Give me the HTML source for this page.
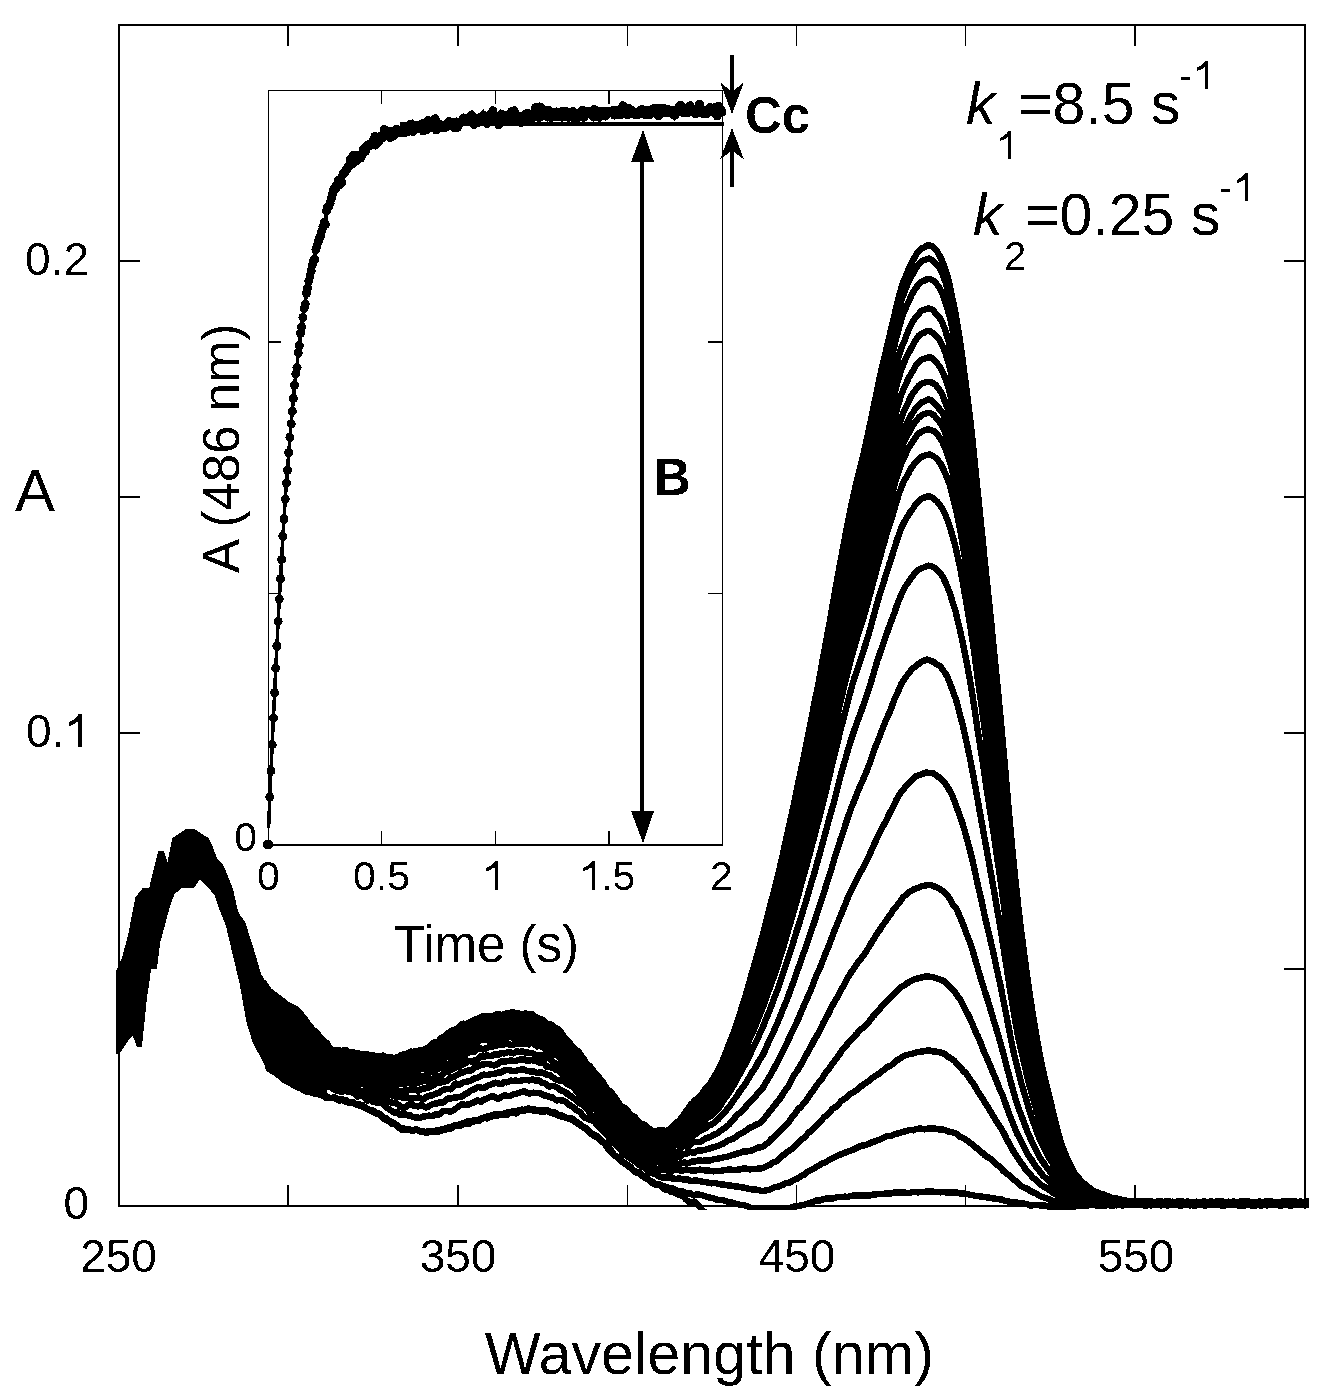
<!DOCTYPE html>
<html><head><meta charset="utf-8"><style>
html,body{margin:0;padding:0;background:#fff;overflow:hidden;}
svg{display:block;}
text{font-family:"Liberation Sans", sans-serif;fill:#000;}
</style></head><body>
<svg width="1331" height="1394" viewBox="0 0 1331 1394">
<defs><filter id="bw" x="0" y="0" width="1331" height="1394" filterUnits="userSpaceOnUse" color-interpolation-filters="sRGB"><feComponentTransfer><feFuncR type="discrete" tableValues="0 1"/><feFuncG type="discrete" tableValues="0 1"/><feFuncB type="discrete" tableValues="0 1"/></feComponentTransfer></filter></defs>
<g filter="url(#bw)">
<rect width="1331" height="1394" fill="#fff"/>
<defs><clipPath id="pc"><rect x="115.5" y="24" width="1193.5" height="1186"/></clipPath></defs>
<clipPath id="pc2"><rect x="265" y="24" width="1044" height="1186"/><polygon points="116.0,971.4 121.9,958.0 128.1,934.7 135.5,897.0 143.0,888.0 149.6,888.0 158.5,851.0 163.6,851.0 167.5,864.0 172.6,838.0 186.6,829.0 194.0,829.0 208.0,838.0 212.0,846.0 217.0,859.0 223.7,866.0 227.5,876.6 232.6,889.0 237.7,912.0 245.0,922.6 253.0,948.0 260.7,973.7 268.0,986.5 278.6,994.0 288.8,1001.8 299.0,1007.0 309.0,1019.7 329.7,1046.5 329.7,1046.5 327.0,1100.0 304.0,1093.7 283.7,1083.5 268.0,1070.7 253.0,1042.7 246.7,1022.0 240.0,984.0 232.6,953.0 226.0,925.0 218.6,907.0 214.7,894.5 199.8,879.1 194.4,887.2 181.9,887.2 173.9,894.5 168.7,909.8 159.8,943.0 157.0,968.6 150.9,968.6 147.0,996.7 142.0,1046.5 136.8,1046.5 132.6,1035.0 128.0,1040.4 120.0,1053.0 116.0,1053.9"/></clipPath>
<g clip-path="url(#pc)">
<g fill="none" stroke="#000" stroke-width="6.4" stroke-linejoin="round" stroke-linecap="round" clip-path="url(#pc2)">
<path d="M116.3,989.2 L118.5,987.8 L120.2,984.7 L121.9,981.6 L123.6,978.0 L125.3,974.0 L127.0,968.6 L128.7,963.6 L130.4,960.9 L132.1,957.3 L133.8,951.8 L135.4,947.1 L137.1,936.2 L138.8,925.3 L140.5,912.1 L142.2,899.8 L143.9,894.3 L145.6,891.4 L147.3,888.2 L149.0,884.6 L150.7,879.3 L152.4,873.4 L154.1,868.5 L155.8,862.8 L157.5,857.9 L159.2,858.2 L160.9,860.0 L162.6,856.2 L164.3,851.3 L166.0,850.7 L167.7,851.6 L169.3,850.2 L171.0,848.5 L172.7,844.9 L174.4,841.3 L176.1,841.6 L177.8,839.7 L179.5,837.1 L181.2,838.0 L182.9,837.4 L184.6,835.1 L186.3,835.6 L188.0,837.2 L189.7,833.6 L191.4,832.3 L193.1,835.2 L194.8,834.0 L196.5,834.9 L198.2,835.5 L199.9,832.4 L201.6,835.9 L203.2,841.9 L204.9,841.6 L206.6,840.8 L208.3,842.7 L210.0,846.5 L211.7,850.4 L213.4,852.8 L215.1,856.7 L216.8,863.7 L218.5,866.6 L220.2,868.2 L221.9,870.8 L223.6,874.0 L225.3,877.9 L227.0,879.6 L228.7,881.0 L230.4,886.2 L232.1,894.6 L233.8,900.8 L235.5,907.7 L237.2,917.5 L238.8,921.4 L240.5,920.6 L242.2,921.0 L243.9,924.4 L245.6,930.4 L247.3,936.4 L249.0,940.0 L250.7,943.8 L252.4,950.6 L254.1,957.1 L255.8,962.2 L257.5,968.4 L259.2,975.5 L260.9,981.3 L262.6,983.4 L264.3,984.8 L266.0,986.0 L267.7,988.8 L269.4,991.2 L271.1,992.7 L272.7,994.0 L274.4,994.9 L276.1,996.2 L277.8,998.6 L279.5,1000.7 L281.2,1002.4 L282.9,1005.1 L284.6,1006.9 L286.3,1006.9 L288.0,1007.1 L289.7,1006.9 L291.4,1007.1 L293.1,1009.2 L294.8,1010.6 L296.5,1010.7 L298.2,1011.3 L299.9,1013.3 L301.6,1015.4 L303.3,1017.1 L305.0,1019.6 L306.6,1022.5 L308.3,1024.5 L310.0,1026.5 L311.7,1028.6 L313.4,1030.3 L315.1,1031.8 L316.8,1033.1 L318.5,1034.9 L320.2,1037.3 L321.9,1039.4 L323.6,1041.8 L325.3,1044.5 L327.0,1045.9 L328.7,1047.3 L330.4,1049.3 L332.1,1049.9 L333.8,1050.1 L335.5,1050.1 L337.2,1050.1 L338.9,1050.0 L340.5,1050.7 L342.2,1051.4 L343.9,1050.3 L345.6,1050.0 L347.3,1051.3 L349.0,1052.2 L350.7,1052.7 L352.4,1052.8 L354.1,1052.6 L355.8,1053.1 L357.5,1053.8 L359.2,1054.4 L360.9,1055.0 L362.6,1054.8 L364.3,1054.0 L366.0,1053.9 L367.7,1054.2 L369.4,1054.9 L371.1,1055.8 L372.8,1056.1 L374.4,1056.2 L376.1,1056.2 L377.8,1056.5 L379.5,1057.1 L381.2,1057.9 L382.9,1057.2 L384.6,1056.4 L386.3,1057.5 L388.0,1058.3 L389.7,1057.3 L391.4,1057.3 L393.1,1058.3 L394.8,1058.0 L396.5,1057.8 L398.2,1057.3 L399.9,1055.8 L401.6,1054.9 L403.3,1054.9 L405.0,1054.5 L406.7,1053.8 L408.3,1053.5 L410.0,1053.4 L411.7,1053.5 L413.4,1052.7 L415.1,1051.2 L416.8,1050.9 L418.5,1050.7 L420.2,1050.4 L421.9,1050.4 L423.6,1049.8 L425.3,1048.9 L427.0,1048.2 L428.7,1047.2 L430.4,1045.5 L432.1,1043.8 L433.8,1042.7 L435.5,1042.3 L437.2,1042.1 L438.9,1041.1 L440.6,1038.7 L442.2,1037.2 L443.9,1036.6 L445.6,1035.3 L447.3,1033.8 L449.0,1032.6 L450.7,1031.8 L452.4,1030.9 L454.1,1029.9 L455.8,1029.3 L457.5,1028.0 L459.2,1026.6 L460.9,1025.2 L462.6,1023.7 L464.3,1023.7 L466.0,1024.9 L467.7,1024.4 L469.4,1022.7 L471.1,1021.9 L472.8,1020.7 L474.4,1019.7 L476.1,1020.4 L477.8,1019.9 L479.5,1017.7 L481.2,1016.8 L482.9,1016.7 L484.6,1016.6 L486.3,1017.1 L488.0,1017.1 L489.7,1016.5 L491.4,1016.5 L493.1,1016.3 L494.8,1015.0 L496.5,1014.3 L498.2,1014.4 L499.9,1014.8 L501.6,1014.9 L503.3,1014.7 L505.0,1014.2 L506.7,1013.5 L508.4,1013.4 L510.0,1013.0 L511.7,1012.2 L513.4,1012.3 L515.1,1013.3 L516.8,1013.3 L518.5,1013.3 L520.2,1014.1 L521.9,1014.7 L523.6,1014.2 L525.3,1013.5 L527.0,1013.6 L528.7,1014.0 L530.4,1013.8 L532.1,1014.1 L533.8,1016.1 L535.5,1018.3 L537.2,1019.4 L538.9,1021.2 L540.6,1022.5 L542.2,1021.4 L543.9,1020.7 L545.6,1022.3 L547.3,1024.4 L549.0,1024.9 L550.7,1024.7 L552.4,1025.7 L554.1,1027.0 L555.8,1028.1 L557.5,1028.7 L559.2,1030.2 L560.9,1032.2 L562.6,1034.9 L564.3,1037.2 L566.0,1039.0 L567.7,1040.6 L569.4,1042.5 L571.1,1045.1 L572.8,1047.0 L574.5,1048.9 L576.2,1050.7 L577.8,1051.1 L579.5,1052.9 L581.2,1055.8 L582.9,1057.7 L584.6,1060.5 L586.3,1063.6 L588.0,1064.7 L589.7,1066.1 L591.4,1068.6 L593.1,1071.3 L594.8,1073.2 L596.5,1074.6 L598.2,1076.1 L599.9,1078.5 L601.6,1080.7 L603.3,1082.6 L605.0,1085.6 L606.7,1088.8 L608.4,1090.7 L610.0,1091.2 L611.7,1092.7 L613.4,1095.1 L615.1,1097.6 L616.8,1100.2 L618.5,1102.6 L620.2,1105.0 L621.9,1106.8 L623.6,1107.6 L625.3,1108.4 L627.0,1110.3 L628.7,1112.7 L630.4,1114.8 L632.1,1115.7 L633.8,1116.2 L635.5,1117.8 L637.2,1120.1 L638.9,1122.1 L640.6,1123.5 L642.3,1123.9 L644.0,1124.4 L645.6,1126.0 L647.3,1127.5 L649.0,1128.4 L650.7,1129.9 L652.4,1131.6 L654.1,1131.5 L655.8,1131.0 L657.5,1130.7 L659.2,1130.8 L660.9,1130.2 L662.6,1129.8 L664.3,1130.9 L666.0,1131.2 L667.7,1130.3 L669.4,1129.7 L671.1,1128.8 L672.8,1126.3 L674.5,1123.9 L676.2,1123.2 L677.9,1122.2 L679.5,1120.3 L681.2,1118.1 L682.9,1116.5 L684.6,1114.0 L686.3,1111.0 L688.0,1108.9 L689.7,1106.2 L691.4,1103.8 L693.1,1102.6 L694.8,1100.5 L696.5,1099.1 L698.2,1097.7 L699.9,1096.3 L701.6,1094.4 L703.3,1091.8 L705.0,1089.2 L706.7,1087.3 L708.4,1085.6 L710.1,1083.5 L711.8,1080.8 L713.4,1078.0 L715.1,1075.3 L716.8,1072.4 L718.5,1069.3 L720.2,1066.0 L721.9,1062.3 L723.6,1058.3 L725.3,1054.2 L727.0,1049.6 L728.7,1044.9 L730.4,1040.7 L732.1,1036.6 L733.8,1032.1 L735.5,1027.2 L737.2,1022.5 L738.9,1017.2 L740.6,1011.3 L742.3,1005.8 L744.0,1000.8 L745.6,995.6 L747.3,989.9 L749.0,983.8 L750.7,977.4 L752.4,971.2 L754.1,965.7 L755.8,960.2 L757.5,954.2 L759.2,947.7 L760.9,941.5 L762.6,935.3 L764.3,928.9 L766.0,922.3 L767.7,915.4 L769.4,908.5 L771.1,902.2 L772.8,895.9 L774.5,889.2 L776.2,882.4 L777.9,875.5 L779.6,868.6 L781.2,861.6 L782.9,854.1 L784.6,846.2 L786.3,838.5 L788.0,830.8 L789.7,823.1 L791.4,815.8 L793.1,807.9 L794.8,799.4 L796.5,791.3 L798.2,783.2 L799.9,774.8 L801.6,766.8 L803.3,759.1 L805.0,750.6 L806.7,741.8 L808.4,733.6 L810.1,725.5 L811.8,716.6 L813.5,707.8 L815.1,699.6 L816.8,691.4 L818.5,683.0 L820.2,673.8 L821.9,664.1 L823.6,654.9 L825.3,645.8 L827.0,636.6 L828.7,627.4 L830.4,618.1 L832.1,608.2 L833.8,598.4 L835.5,588.9 L837.2,579.2 L838.9,569.8 L840.6,560.9 L842.3,551.8 L844.0,542.5 L845.7,533.6 L847.4,525.0 L849.0,516.6 L850.7,508.3 L852.4,500.5 L854.1,492.8 L855.8,485.1 L857.5,477.9 L859.2,471.4 L860.9,464.5 L862.6,457.6 L864.3,450.5 L866.0,442.9 L867.7,435.1 L869.4,427.1 L871.1,419.1 L872.8,410.8 L874.5,402.6 L876.2,394.4 L877.9,386.1 L879.6,378.3 L881.2,370.7 L882.9,363.6 L884.6,356.7 L886.3,349.4 L888.0,342.0 L889.7,334.9 L891.4,328.1 L893.1,321.1 L894.8,313.8 L896.5,305.9 L898.2,299.1 L899.9,293.1 L901.6,287.1 L903.3,282.1 L905.0,278.1 L906.7,274.1 L908.4,269.9 L910.1,266.0 L911.8,262.3 L913.5,259.3 L915.1,256.4 L916.8,253.7 L918.5,251.4 L920.2,249.4 L921.9,248.2 L923.6,247.7 L925.3,246.6 L927.0,245.4 L928.7,245.1 L930.4,245.5 L932.1,246.4 L933.8,247.9 L935.5,249.5 L937.2,251.5 L938.9,254.5 L940.6,257.7 L942.3,261.4 L944.0,265.6 L945.7,270.3 L947.4,276.0 L949.1,282.8 L950.7,290.1 L952.4,298.3 L954.1,306.4 L955.8,315.4 L957.5,325.3 L959.2,335.8 L960.9,347.4 L962.6,359.8 L964.3,372.7 L966.0,385.7 L967.7,399.0 L969.4,412.6 L971.1,427.4 L972.8,443.2 L974.5,459.8 L976.2,476.9 L977.9,493.6 L979.6,510.0 L981.3,526.5 L983.0,543.2 L984.6,559.7 L986.3,576.0 L988.0,592.1 L989.7,608.1 L991.4,624.6 L993.1,641.9 L994.8,659.1 L996.5,676.1 L998.2,693.3 L999.9,710.9 L1001.6,729.2 L1003.3,748.0 L1005.0,767.1 L1006.7,786.5 L1008.4,805.9 L1010.1,825.2 L1011.8,844.0 L1013.5,861.9 L1015.2,878.6 L1016.9,894.2 L1018.5,908.6 L1020.2,922.8 L1021.9,936.7 L1023.6,950.0 L1025.3,962.9 L1027.0,975.4 L1028.7,987.5 L1030.4,999.3 L1032.1,1010.1 L1033.8,1020.6 L1035.5,1031.0 L1037.2,1040.9 L1038.9,1050.3 L1040.6,1059.1 L1042.3,1067.2 L1044.0,1074.8 L1045.7,1082.2 L1047.4,1089.4 L1049.1,1096.1 L1050.8,1102.8 L1052.4,1109.9 L1054.1,1116.9 L1055.8,1123.9 L1057.5,1130.6 L1059.2,1136.6 L1060.9,1142.1 L1062.6,1147.1 L1064.3,1151.6 L1066.0,1155.9 L1067.7,1159.7 L1069.4,1163.0 L1071.1,1166.5 L1072.8,1170.0 L1074.5,1173.1 L1076.2,1175.3 L1077.9,1177.1 L1079.6,1179.2 L1081.3,1181.3 L1083.0,1183.2 L1084.7,1184.3 L1086.3,1186.0 L1088.0,1187.8 L1089.7,1188.8 L1091.4,1190.0 L1093.1,1191.2 L1094.8,1191.7 L1096.5,1192.2 L1098.2,1193.1 L1099.9,1193.7 L1101.6,1193.9 L1103.3,1194.5 L1105.0,1195.6 L1106.7,1196.5 L1108.4,1197.3 L1110.1,1197.6 L1111.8,1197.7 L1113.5,1198.0 L1115.2,1198.4 L1116.9,1198.9 L1118.6,1199.5 L1120.2,1199.8 L1121.9,1199.9 L1123.6,1200.1 L1125.3,1200.3 L1127.0,1200.8 L1128.7,1201.2 L1130.4,1201.5 L1132.1,1202.0 L1133.8,1202.2 L1135.5,1201.8 L1137.2,1201.7 L1138.9,1202.0 L1140.6,1202.3 L1142.3,1202.3 L1144.0,1202.3 L1145.7,1202.6 L1147.4,1202.8 L1149.1,1202.3 L1150.8,1201.8 L1152.5,1201.9 L1154.1,1202.2 L1155.8,1202.1 L1157.5,1202.3 L1159.2,1202.8 L1160.9,1202.5 L1162.6,1201.9 L1164.3,1201.7 L1166.0,1201.4 L1167.7,1201.6 L1169.4,1201.9 L1171.1,1202.0 L1172.8,1202.0 L1174.5,1202.2 L1176.2,1202.2 L1177.9,1201.7 L1179.6,1201.5 L1181.3,1202.0 L1183.0,1202.2 L1184.7,1202.0 L1186.4,1201.8 L1188.0,1201.8 L1189.7,1201.9 L1191.4,1202.3 L1193.1,1202.4 L1194.8,1202.2 L1196.5,1201.8 L1198.2,1202.0 L1199.9,1202.6 L1201.6,1202.6 L1203.3,1202.3 L1205.0,1202.5 L1206.7,1202.6 L1208.4,1202.0 L1210.1,1201.8 L1211.8,1202.0 L1213.5,1202.1 L1215.2,1202.0 L1216.9,1202.0 L1218.6,1202.0 L1220.2,1202.4 L1221.9,1202.5 L1223.6,1202.4 L1225.3,1202.3 L1227.0,1202.1 L1228.7,1202.2 L1230.4,1202.4 L1232.1,1202.4 L1233.8,1202.2 L1235.5,1202.1 L1237.2,1202.3 L1238.9,1202.2 L1240.6,1201.6 L1242.3,1201.1 L1244.0,1201.3 L1245.7,1201.9 L1247.4,1201.9 L1249.1,1201.7 L1250.8,1202.1 L1252.5,1202.5 L1254.2,1202.2 L1255.8,1202.2 L1257.5,1202.6 L1259.2,1203.0 L1260.9,1202.7 L1262.6,1202.3 L1264.3,1202.3 L1266.0,1202.3 L1267.7,1202.1 L1269.4,1202.0 L1271.1,1202.1 L1272.8,1202.2 L1274.5,1202.4 L1276.2,1202.6 L1277.9,1202.4 L1279.6,1202.0 L1281.3,1202.1 L1283.0,1202.5 L1284.7,1202.4 L1286.4,1202.2 L1288.0,1202.3 L1289.7,1202.7 L1291.4,1202.8 L1293.1,1202.1 L1294.8,1201.4 L1296.5,1201.6 L1298.2,1202.0 L1299.9,1201.7 L1301.6,1201.5 L1303.3,1202.0 L1305.0,1202.2 L1306.7,1201.8 L1308.4,1201.9"/>
<path d="M116.3,989.5 L118.5,987.8 L120.2,982.3 L121.9,977.9 L123.6,975.2 L125.3,973.4 L127.0,971.2 L128.7,966.3 L130.4,961.1 L132.1,956.4 L133.8,952.0 L135.4,950.0 L137.1,939.2 L138.8,926.1 L140.5,913.9 L142.2,902.4 L143.9,894.9 L145.6,891.9 L147.3,887.6 L149.0,879.5 L150.7,872.8 L152.4,866.7 L154.1,862.1 L155.8,862.9 L157.5,863.7 L159.2,861.2 L160.9,858.7 L162.6,855.4 L164.3,854.0 L166.0,853.9 L167.7,851.5 L169.3,849.5 L171.0,846.3 L172.7,843.8 L174.4,843.4 L176.1,842.6 L177.8,842.5 L179.5,843.6 L181.2,843.4 L182.9,836.7 L184.6,827.9 L186.3,824.6 L188.0,827.0 L189.7,831.6 L191.4,833.4 L193.1,831.6 L194.8,833.2 L196.5,836.6 L198.2,837.8 L199.9,838.8 L201.6,840.3 L203.2,842.4 L204.9,844.7 L206.6,842.0 L208.3,839.2 L210.0,845.9 L211.7,852.3 L213.4,854.5 L215.1,859.3 L216.8,866.3 L218.5,866.8 L220.2,865.8 L221.9,867.9 L223.6,869.2 L225.3,873.0 L227.0,879.7 L228.7,885.3 L230.4,888.0 L232.1,892.3 L233.8,902.2 L235.5,910.5 L237.2,915.5 L238.8,917.8 L240.5,918.8 L242.2,922.9 L243.9,928.1 L245.6,931.2 L247.3,936.6 L249.0,942.2 L250.7,947.0 L252.4,954.5 L254.1,961.7 L255.8,966.6 L257.5,972.2 L259.2,976.8 L260.9,980.0 L262.6,981.2 L264.3,983.5 L266.0,988.7 L267.7,993.9 L269.4,995.3 L271.1,996.5 L272.7,997.2 L274.4,997.2 L276.1,999.6 L277.8,1001.4 L279.5,1000.9 L281.2,1001.4 L282.9,1002.8 L284.6,1003.9 L286.3,1005.2 L288.0,1006.6 L289.7,1007.3 L291.4,1008.2 L293.1,1009.4 L294.8,1010.8 L296.5,1012.5 L298.2,1013.1 L299.9,1014.2 L301.6,1016.6 L303.3,1018.6 L305.0,1019.8 L306.6,1022.4 L308.3,1026.1 L310.0,1028.4 L311.7,1029.4 L313.4,1030.8 L315.1,1032.7 L316.8,1034.5 L318.5,1036.1 L320.2,1037.8 L321.9,1039.9 L323.6,1041.4 L325.3,1041.8 L327.0,1043.4 L328.7,1046.9 L330.4,1049.7 L332.1,1050.1 L333.8,1050.1 L335.5,1050.9 L337.2,1051.2 L338.9,1051.3 L340.5,1052.0 L342.2,1052.4 L343.9,1052.9 L345.6,1053.9 L347.3,1053.9 L349.0,1053.1 L350.7,1052.8 L352.4,1053.7 L354.1,1054.7 L355.8,1054.2 L357.5,1053.3 L359.2,1053.5 L360.9,1054.6 L362.6,1055.1 L364.3,1054.9 L366.0,1055.7 L367.7,1056.6 L369.4,1056.0 L371.1,1055.0 L372.8,1055.0 L374.4,1055.6 L376.1,1056.1 L377.8,1056.4 L379.5,1057.1 L381.2,1056.6 L382.9,1055.5 L384.6,1056.5 L386.3,1058.0 L388.0,1058.2 L389.7,1057.7 L391.4,1057.8 L393.1,1058.8 L394.8,1059.3 L396.5,1058.1 L398.2,1056.9 L399.9,1055.9 L401.6,1054.9 L403.3,1054.5 L405.0,1054.7 L406.7,1054.6 L408.3,1053.1 L410.0,1051.6 L411.7,1051.8 L413.4,1052.2 L415.1,1051.5 L416.8,1051.0 L418.5,1051.6 L420.2,1051.3 L421.9,1050.2 L423.6,1049.8 L425.3,1049.8 L427.0,1049.0 L428.7,1047.9 L430.4,1046.8 L432.1,1046.1 L433.8,1045.3 L435.5,1043.5 L437.2,1042.1 L438.9,1041.6 L440.6,1040.4 L442.2,1039.0 L443.9,1038.3 L445.6,1037.4 L447.3,1036.0 L449.0,1033.4 L450.7,1030.9 L452.4,1030.4 L454.1,1030.5 L455.8,1029.7 L457.5,1028.9 L459.2,1027.8 L460.9,1026.9 L462.6,1026.7 L464.3,1025.6 L466.0,1024.2 L467.7,1023.2 L469.4,1022.9 L471.1,1022.7 L472.8,1021.4 L474.4,1020.1 L476.1,1019.5 L477.8,1018.9 L479.5,1019.1 L481.2,1019.1 L482.9,1017.4 L484.6,1016.5 L486.3,1016.7 L488.0,1016.4 L489.7,1016.0 L491.4,1016.5 L493.1,1016.7 L494.8,1015.8 L496.5,1015.3 L498.2,1015.4 L499.9,1014.9 L501.6,1015.2 L503.3,1015.1 L505.0,1013.8 L506.7,1014.1 L508.4,1015.0 L510.0,1014.5 L511.7,1013.3 L513.4,1013.3 L515.1,1014.1 L516.8,1014.0 L518.5,1014.0 L520.2,1014.6 L521.9,1014.6 L523.6,1014.7 L525.3,1015.2 L527.0,1015.3 L528.7,1015.0 L530.4,1015.1 L532.1,1016.2 L533.8,1016.7 L535.5,1016.9 L537.2,1017.7 L538.9,1018.4 L540.6,1019.1 L542.2,1019.8 L543.9,1020.9 L545.6,1022.8 L547.3,1024.0 L549.0,1024.5 L550.7,1024.4 L552.4,1025.9 L554.1,1029.0 L555.8,1030.0 L557.5,1029.5 L559.2,1030.8 L560.9,1033.0 L562.6,1035.3 L564.3,1037.1 L566.0,1038.9 L567.7,1040.9 L569.4,1043.5 L571.1,1046.2 L572.8,1047.9 L574.5,1049.3 L576.2,1050.9 L577.8,1053.2 L579.5,1055.5 L581.2,1057.3 L582.9,1059.6 L584.6,1062.2 L586.3,1064.1 L588.0,1065.0 L589.7,1066.1 L591.4,1068.2 L593.1,1070.5 L594.8,1072.6 L596.5,1075.1 L598.2,1077.4 L599.9,1079.0 L601.6,1081.1 L603.3,1084.0 L605.0,1086.5 L606.7,1088.4 L608.4,1090.7 L610.0,1092.8 L611.7,1094.5 L613.4,1096.6 L615.1,1099.1 L616.8,1101.4 L618.5,1103.2 L620.2,1105.1 L621.9,1106.6 L623.6,1107.3 L625.3,1108.7 L627.0,1110.1 L628.7,1112.2 L630.4,1114.9 L632.1,1116.5 L633.8,1117.5 L635.5,1119.0 L637.2,1120.8 L638.9,1122.8 L640.6,1124.5 L642.3,1125.7 L644.0,1126.8 L645.6,1127.2 L647.3,1128.2 L649.0,1129.5 L650.7,1130.2 L652.4,1131.4 L654.1,1132.5 L655.8,1133.2 L657.5,1133.2 L659.2,1133.3 L660.9,1132.2 L662.6,1131.1 L664.3,1131.5 L666.0,1131.7 L667.7,1131.4 L669.4,1130.4 L671.1,1129.0 L672.8,1127.5 L674.5,1125.1 L676.2,1122.9 L677.9,1121.7 L679.5,1120.6 L681.2,1118.8 L682.9,1116.3 L684.6,1113.8 L686.3,1111.6 L688.0,1109.2 L689.7,1107.6 L691.4,1107.1 L693.1,1105.0 L694.8,1102.2 L696.5,1100.9 L698.2,1099.2 L699.9,1097.4 L701.6,1095.5 L703.3,1092.9 L705.0,1090.1 L706.7,1088.4 L708.4,1086.9 L710.1,1084.8 L711.8,1082.1 L713.4,1079.3 L715.1,1077.0 L716.8,1074.2 L718.5,1070.7 L720.2,1067.3 L721.9,1064.1 L723.6,1060.7 L725.3,1056.7 L727.0,1052.6 L728.7,1048.2 L730.4,1043.3 L732.1,1038.6 L733.8,1033.6 L735.5,1028.3 L737.2,1023.7 L738.9,1019.2 L740.6,1013.7 L742.3,1008.4 L744.0,1003.5 L745.6,998.3 L747.3,992.7 L749.0,986.9 L750.7,981.1 L752.4,975.8 L754.1,969.9 L755.8,963.5 L757.5,957.3 L759.2,951.1 L760.9,944.9 L762.6,938.6 L764.3,932.5 L766.0,926.6 L767.7,920.2 L769.4,913.5 L771.1,906.9 L772.8,900.4 L774.5,894.0 L776.2,887.1 L777.9,879.8 L779.6,872.9 L781.2,865.7 L782.9,857.8 L784.6,850.5 L786.3,843.8 L788.0,836.0 L789.7,827.7 L791.4,820.2 L793.1,812.9 L794.8,805.2 L796.5,797.4 L798.2,789.4 L799.9,781.2 L801.6,772.9 L803.3,764.9 L805.0,757.0 L806.7,748.8 L808.4,740.5 L810.1,732.2 L811.8,723.6 L813.5,715.0 L815.1,706.6 L816.8,698.3 L818.5,689.7 L820.2,681.1 L821.9,672.2 L823.6,663.0 L825.3,653.8 L827.0,644.5 L828.7,634.9 L830.4,625.6 L832.1,616.5 L833.8,607.1 L835.5,597.6 L837.2,588.1 L838.9,578.7 L840.6,569.4 L842.3,560.8 L844.0,552.3 L845.7,543.5 L847.4,534.8 L849.0,525.8 L850.7,517.2 L852.4,509.5 L854.1,502.5 L855.8,495.1 L857.5,487.5 L859.2,480.8 L860.9,474.2 L862.6,466.9 L864.3,459.6 L866.0,452.7 L867.7,445.6 L869.4,437.8 L871.1,429.8 L872.8,422.0 L874.5,413.9 L876.2,405.7 L877.9,397.7 L879.6,389.9 L881.2,382.0 L882.9,374.6 L884.6,368.0 L886.3,361.2 L888.0,354.0 L889.7,346.8 L891.4,339.7 L893.1,333.0 L894.8,326.2 L896.5,318.7 L898.2,311.5 L899.9,305.0 L901.6,299.6 L903.3,295.2 L905.0,290.7 L906.7,286.2 L908.4,282.2 L910.1,278.7 L911.8,275.5 L913.5,272.7 L915.1,269.6 L916.8,266.8 L918.5,264.9 L920.2,262.8 L921.9,261.1 L923.6,260.3 L925.3,259.6 L927.0,258.9 L928.7,258.5 L930.4,259.0 L932.1,260.2 L933.8,261.5 L935.5,263.3 L937.2,265.3 L938.9,267.3 L940.6,269.7 L942.3,273.4 L944.0,278.0 L945.7,282.9 L947.4,288.4 L949.1,294.4 L950.7,301.5 L952.4,310.6 L954.1,318.7 L955.8,327.1 L957.5,337.2 L959.2,347.9 L960.9,359.4 L962.6,371.7 L964.3,384.4 L966.0,396.9 L967.7,409.8 L969.4,423.4 L971.1,438.0 L972.8,453.4 L974.5,469.7 L976.2,486.4 L977.9,503.1 L979.6,519.4 L981.3,535.4 L983.0,551.5 L984.6,568.3 L986.3,585.1 L988.0,601.4 L989.7,617.7 L991.4,633.7 L993.1,649.6 L994.8,666.3 L996.5,683.4 L998.2,700.0 L999.9,717.0 L1001.6,735.5 L1003.3,754.4 L1005.0,773.3 L1006.7,792.2 L1008.4,811.1 L1010.1,829.7 L1011.8,847.9 L1013.5,865.5 L1015.2,882.2 L1016.9,898.2 L1018.5,913.0 L1020.2,926.7 L1021.9,940.0 L1023.6,953.1 L1025.3,965.7 L1027.0,978.3 L1028.7,990.2 L1030.4,1001.2 L1032.1,1012.2 L1033.8,1022.9 L1035.5,1032.9 L1037.2,1042.5 L1038.9,1052.3 L1040.6,1061.5 L1042.3,1069.5 L1044.0,1076.8 L1045.7,1084.0 L1047.4,1090.6 L1049.1,1097.2 L1050.8,1104.5 L1052.4,1111.3 L1054.1,1117.8 L1055.8,1124.9 L1057.5,1131.8 L1059.2,1137.6 L1060.9,1143.1 L1062.6,1148.2 L1064.3,1152.4 L1066.0,1156.6 L1067.7,1160.5 L1069.4,1163.8 L1071.1,1167.1 L1072.8,1170.4 L1074.5,1173.3 L1076.2,1175.4 L1077.9,1177.4 L1079.6,1179.6 L1081.3,1181.4 L1083.0,1183.0 L1084.7,1184.6 L1086.3,1185.7 L1088.0,1186.8 L1089.7,1188.0 L1091.4,1189.5 L1093.1,1191.0 L1094.8,1191.9 L1096.5,1192.5 L1098.2,1193.0 L1099.9,1193.6 L1101.6,1194.3 L1103.3,1194.8 L1105.0,1195.3 L1106.7,1196.3 L1108.4,1197.5 L1110.1,1198.1 L1111.8,1198.2 L1113.5,1198.2 L1115.2,1198.6 L1116.9,1198.8 L1118.6,1198.9 L1120.2,1199.2 L1121.9,1199.7 L1123.6,1200.5 L1125.3,1200.9 L1127.0,1201.0 L1128.7,1201.3 L1130.4,1201.6 L1132.1,1201.5 L1133.8,1201.5 L1135.5,1202.0 L1137.2,1202.1 L1138.9,1202.0 L1140.6,1201.8 L1142.3,1201.7 L1144.0,1201.7 L1145.7,1202.0 L1147.4,1202.2 L1149.1,1202.1 L1150.8,1202.0 L1152.5,1202.0 L1154.1,1202.4 L1155.8,1203.0 L1157.5,1202.7 L1159.2,1202.0 L1160.9,1201.7 L1162.6,1201.9 L1164.3,1202.3 L1166.0,1202.4 L1167.7,1201.8 L1169.4,1201.5 L1171.1,1202.0 L1172.8,1202.5 L1174.5,1202.6 L1176.2,1201.8 L1177.9,1201.2 L1179.6,1201.5 L1181.3,1201.7 L1183.0,1202.0 L1184.7,1202.2 L1186.4,1202.2 L1188.0,1202.4 L1189.7,1202.4 L1191.4,1202.1 L1193.1,1201.9 L1194.8,1201.9 L1196.5,1202.2 L1198.2,1202.6 L1199.9,1202.7 L1201.6,1202.5 L1203.3,1202.6 L1205.0,1202.9 L1206.7,1202.8 L1208.4,1202.8 L1210.1,1203.0 L1211.8,1203.1 L1213.5,1202.9 L1215.2,1202.4 L1216.9,1201.8 L1218.6,1201.8 L1220.2,1202.5 L1221.9,1202.5 L1223.6,1202.1 L1225.3,1202.2 L1227.0,1202.1 L1228.7,1201.8 L1230.4,1202.2 L1232.1,1202.8 L1233.8,1202.7 L1235.5,1202.3 L1237.2,1202.3 L1238.9,1202.7 L1240.6,1202.6 L1242.3,1202.1 L1244.0,1202.1 L1245.7,1202.2 L1247.4,1202.1 L1249.1,1202.2 L1250.8,1202.7 L1252.5,1202.5 L1254.2,1202.2 L1255.8,1202.6 L1257.5,1203.0 L1259.2,1202.5 L1260.9,1201.8 L1262.6,1202.0 L1264.3,1202.3 L1266.0,1202.0 L1267.7,1202.0 L1269.4,1201.9 L1271.1,1201.6 L1272.8,1201.8 L1274.5,1202.2 L1276.2,1202.5 L1277.9,1202.3 L1279.6,1202.7 L1281.3,1202.6 L1283.0,1201.7 L1284.7,1201.4 L1286.4,1201.7 L1288.0,1202.0 L1289.7,1201.7 L1291.4,1201.4 L1293.1,1201.6 L1294.8,1202.2 L1296.5,1202.6 L1298.2,1202.8 L1299.9,1203.1 L1301.6,1203.0 L1303.3,1202.6 L1305.0,1202.5 L1306.7,1202.4 L1308.4,1202.3"/>
<path d="M116.3,988.3 L118.5,987.4 L120.2,984.5 L121.9,981.1 L123.6,978.6 L125.3,974.7 L127.0,970.5 L128.7,968.0 L130.4,964.6 L132.1,960.3 L133.8,953.8 L135.4,948.1 L137.1,937.8 L138.8,927.0 L140.5,916.4 L142.2,905.9 L143.9,896.7 L145.6,886.9 L147.3,880.0 L149.0,879.0 L150.7,877.1 L152.4,872.0 L154.1,867.6 L155.8,862.9 L157.5,858.8 L159.2,856.0 L160.9,854.9 L162.6,855.2 L164.3,856.0 L166.0,855.7 L167.7,853.9 L169.3,851.6 L171.0,849.1 L172.7,846.7 L174.4,843.5 L176.1,842.5 L177.8,845.1 L179.5,845.1 L181.2,841.3 L182.9,834.5 L184.6,829.6 L186.3,831.1 L188.0,833.0 L189.7,833.8 L191.4,835.3 L193.1,834.1 L194.8,839.1 L196.5,841.4 L198.2,832.4 L199.9,832.6 L201.6,840.2 L203.2,842.1 L204.9,842.2 L206.6,845.0 L208.3,849.1 L210.0,851.6 L211.7,852.2 L213.4,854.3 L215.1,857.7 L216.8,860.6 L218.5,862.1 L220.2,867.2 L221.9,872.6 L223.6,877.3 L225.3,879.6 L227.0,880.2 L228.7,885.0 L230.4,889.3 L232.1,894.3 L233.8,902.4 L235.5,909.8 L237.2,917.1 L238.8,920.7 L240.5,921.2 L242.2,924.2 L243.9,929.6 L245.6,934.0 L247.3,937.8 L249.0,941.7 L250.7,944.1 L252.4,947.3 L254.1,955.3 L255.8,964.0 L257.5,971.3 L259.2,978.3 L260.9,984.1 L262.6,986.5 L264.3,988.4 L266.0,990.0 L267.7,991.9 L269.4,994.1 L271.1,996.5 L272.7,997.1 L274.4,996.3 L276.1,996.5 L277.8,997.6 L279.5,999.0 L281.2,1001.1 L282.9,1003.5 L284.6,1003.7 L286.3,1004.6 L288.0,1007.9 L289.7,1008.4 L291.4,1008.5 L293.1,1009.9 L294.8,1010.8 L296.5,1011.8 L298.2,1013.4 L299.9,1015.4 L301.6,1018.0 L303.3,1020.4 L305.0,1022.2 L306.6,1023.9 L308.3,1025.6 L310.0,1027.9 L311.7,1029.7 L313.4,1030.1 L315.1,1031.5 L316.8,1034.2 L318.5,1036.8 L320.2,1038.6 L321.9,1040.0 L323.6,1042.4 L325.3,1044.8 L327.0,1045.0 L328.7,1046.1 L330.4,1049.4 L332.1,1050.2 L333.8,1050.1 L335.5,1050.4 L337.2,1050.7 L338.9,1051.8 L340.5,1051.6 L342.2,1051.1 L343.9,1052.1 L345.6,1052.9 L347.3,1053.1 L349.0,1052.9 L350.7,1052.9 L352.4,1053.5 L354.1,1054.2 L355.8,1054.7 L357.5,1054.6 L359.2,1055.6 L360.9,1057.0 L362.6,1056.7 L364.3,1056.6 L366.0,1056.1 L367.7,1055.6 L369.4,1057.0 L371.1,1057.2 L372.8,1056.2 L374.4,1056.0 L376.1,1056.1 L377.8,1057.1 L379.5,1058.3 L381.2,1058.0 L382.9,1057.2 L384.6,1057.5 L386.3,1058.5 L388.0,1059.0 L389.7,1059.5 L391.4,1059.3 L393.1,1058.2 L394.8,1058.6 L396.5,1059.4 L398.2,1058.4 L399.9,1057.0 L401.6,1056.4 L403.3,1056.7 L405.0,1056.6 L406.7,1056.4 L408.3,1056.7 L410.0,1055.9 L411.7,1054.4 L413.4,1053.8 L415.1,1053.0 L416.8,1052.0 L418.5,1051.9 L420.2,1051.4 L421.9,1050.3 L423.6,1050.5 L425.3,1050.9 L427.0,1049.7 L428.7,1048.9 L430.4,1048.5 L432.1,1047.2 L433.8,1046.6 L435.5,1046.2 L437.2,1044.6 L438.9,1043.0 L440.6,1042.4 L442.2,1041.8 L443.9,1040.1 L445.6,1038.3 L447.3,1037.5 L449.0,1036.6 L450.7,1035.3 L452.4,1034.5 L454.1,1032.9 L455.8,1031.1 L457.5,1031.0 L459.2,1030.1 L460.9,1028.6 L462.6,1028.2 L464.3,1027.6 L466.0,1026.1 L467.7,1025.6 L469.4,1026.2 L471.1,1025.6 L472.8,1024.5 L474.4,1023.6 L476.1,1022.7 L477.8,1021.3 L479.5,1020.1 L481.2,1019.8 L482.9,1019.2 L484.6,1018.8 L486.3,1018.9 L488.0,1017.9 L489.7,1016.8 L491.4,1017.3 L493.1,1017.9 L494.8,1017.9 L496.5,1017.6 L498.2,1016.7 L499.9,1016.2 L501.6,1016.6 L503.3,1016.1 L505.0,1015.3 L506.7,1015.5 L508.4,1015.9 L510.0,1016.5 L511.7,1016.8 L513.4,1015.6 L515.1,1014.7 L516.8,1015.6 L518.5,1016.6 L520.2,1016.6 L521.9,1016.1 L523.6,1015.7 L525.3,1015.2 L527.0,1014.8 L528.7,1015.0 L530.4,1015.3 L532.1,1016.3 L533.8,1018.1 L535.5,1019.8 L537.2,1020.5 L538.9,1021.0 L540.6,1022.7 L542.2,1023.9 L543.9,1023.9 L545.6,1024.7 L547.3,1026.0 L549.0,1026.9 L550.7,1027.5 L552.4,1028.6 L554.1,1030.3 L555.8,1031.2 L557.5,1031.2 L559.2,1033.0 L560.9,1035.4 L562.6,1037.7 L564.3,1039.5 L566.0,1040.6 L567.7,1042.2 L569.4,1044.3 L571.1,1045.5 L572.8,1047.4 L574.5,1050.0 L576.2,1052.3 L577.8,1055.4 L579.5,1058.1 L581.2,1059.5 L582.9,1060.7 L584.6,1062.3 L586.3,1064.2 L588.0,1066.5 L589.7,1069.0 L591.4,1070.8 L593.1,1073.1 L594.8,1075.2 L596.5,1077.2 L598.2,1079.8 L599.9,1082.2 L601.6,1083.9 L603.3,1085.1 L605.0,1086.5 L606.7,1088.9 L608.4,1092.0 L610.0,1094.6 L611.7,1096.3 L613.4,1098.4 L615.1,1100.6 L616.8,1102.0 L618.5,1104.3 L620.2,1106.8 L621.9,1107.7 L623.6,1108.6 L625.3,1110.1 L627.0,1111.7 L628.7,1113.2 L630.4,1114.2 L632.1,1115.8 L633.8,1117.7 L635.5,1119.0 L637.2,1120.9 L638.9,1123.0 L640.6,1124.6 L642.3,1125.3 L644.0,1126.2 L645.6,1127.7 L647.3,1128.3 L649.0,1129.0 L650.7,1131.1 L652.4,1133.2 L654.1,1132.5 L655.8,1131.8 L657.5,1132.3 L659.2,1133.1 L660.9,1133.6 L662.6,1132.9 L664.3,1132.3 L666.0,1132.5 L667.7,1132.4 L669.4,1131.2 L671.1,1129.5 L672.8,1128.4 L674.5,1127.6 L676.2,1125.3 L677.9,1122.5 L679.5,1121.6 L681.2,1120.4 L682.9,1118.3 L684.6,1115.8 L686.3,1112.4 L688.0,1110.1 L689.7,1110.0 L691.4,1108.7 L693.1,1105.4 L694.8,1102.8 L696.5,1101.8 L698.2,1100.3 L699.9,1098.9 L701.6,1097.2 L703.3,1095.5 L705.0,1093.4 L706.7,1090.9 L708.4,1088.4 L710.1,1085.9 L711.8,1083.8 L713.4,1081.7 L715.1,1078.7 L716.8,1075.7 L718.5,1073.2 L720.2,1070.3 L721.9,1066.4 L723.6,1062.4 L725.3,1058.9 L727.0,1054.9 L728.7,1050.4 L730.4,1046.3 L732.1,1042.2 L733.8,1037.6 L735.5,1032.8 L737.2,1027.8 L738.9,1022.6 L740.6,1017.4 L742.3,1012.6 L744.0,1007.8 L745.6,1002.2 L747.3,996.4 L749.0,990.9 L750.7,985.4 L752.4,980.2 L754.1,974.5 L755.8,968.5 L757.5,963.1 L759.2,957.3 L760.9,950.8 L762.6,944.8 L764.3,938.9 L766.0,932.9 L767.7,926.8 L769.4,920.3 L771.1,913.7 L772.8,907.3 L774.5,901.1 L776.2,894.2 L777.9,887.6 L779.6,880.7 L781.2,873.3 L782.9,866.3 L784.6,859.2 L786.3,851.5 L788.0,844.2 L789.7,836.8 L791.4,828.9 L793.1,821.2 L794.8,813.7 L796.5,806.0 L798.2,798.1 L799.9,790.2 L801.6,782.5 L803.3,774.3 L805.0,765.8 L806.7,757.9 L808.4,749.8 L810.1,741.4 L811.8,733.7 L813.5,725.9 L815.1,717.8 L816.8,709.5 L818.5,700.7 L820.2,692.0 L821.9,683.7 L823.6,674.9 L825.3,665.7 L827.0,656.7 L828.7,647.6 L830.4,638.4 L832.1,629.4 L833.8,620.1 L835.5,610.6 L837.2,601.3 L838.9,592.3 L840.6,583.4 L842.3,574.3 L844.0,565.6 L845.7,557.3 L847.4,549.1 L849.0,540.8 L850.7,532.5 L852.4,524.8 L854.1,517.2 L855.8,509.7 L857.5,502.7 L859.2,496.1 L860.9,490.1 L862.6,483.6 L864.3,476.4 L866.0,469.2 L867.7,461.8 L869.4,454.2 L871.1,446.1 L872.8,438.0 L874.5,430.1 L876.2,422.2 L877.9,414.5 L879.6,407.1 L881.2,399.8 L882.9,392.7 L884.6,385.7 L886.3,378.7 L888.0,371.9 L889.7,365.2 L891.4,358.5 L893.1,351.4 L894.8,344.0 L896.5,337.0 L898.2,330.8 L899.9,324.7 L901.6,318.9 L903.3,313.8 L905.0,309.6 L906.7,305.8 L908.4,302.2 L910.1,298.4 L911.8,294.6 L913.5,291.5 L915.1,289.2 L916.8,286.8 L918.5,284.6 L920.2,282.9 L921.9,281.5 L923.6,280.8 L925.3,280.2 L927.0,279.2 L928.7,278.6 L930.4,279.3 L932.1,280.1 L933.8,281.0 L935.5,282.7 L937.2,284.7 L938.9,287.0 L940.6,289.9 L942.3,293.5 L944.0,298.0 L945.7,303.1 L947.4,308.7 L949.1,314.5 L950.7,321.1 L952.4,329.7 L954.1,337.8 L955.8,346.0 L957.5,355.7 L959.2,366.4 L960.9,377.6 L962.6,389.3 L964.3,401.5 L966.0,414.0 L967.7,426.8 L969.4,439.9 L971.1,454.2 L972.8,469.4 L974.5,485.0 L976.2,501.0 L977.9,517.7 L979.6,534.2 L981.3,550.1 L983.0,565.8 L984.6,581.5 L986.3,597.3 L988.0,613.2 L989.7,629.5 L991.4,645.7 L993.1,661.7 L994.8,677.6 L996.5,694.2 L998.2,710.9 L999.9,727.5 L1001.6,745.2 L1003.3,764.0 L1005.0,782.9 L1006.7,801.7 L1008.4,820.1 L1010.1,838.4 L1011.8,856.5 L1013.5,873.8 L1015.2,890.1 L1016.9,905.2 L1018.5,918.7 L1020.2,932.3 L1021.9,946.1 L1023.6,959.0 L1025.3,971.1 L1027.0,983.1 L1028.7,995.0 L1030.4,1006.3 L1032.1,1017.0 L1033.8,1027.1 L1035.5,1036.9 L1037.2,1046.5 L1038.9,1055.4 L1040.6,1064.2 L1042.3,1072.2 L1044.0,1079.3 L1045.7,1086.2 L1047.4,1093.1 L1049.1,1099.5 L1050.8,1106.2 L1052.4,1113.5 L1054.1,1120.2 L1055.8,1126.1 L1057.5,1132.5 L1059.2,1139.2 L1060.9,1145.1 L1062.6,1149.8 L1064.3,1154.1 L1066.0,1158.0 L1067.7,1161.6 L1069.4,1165.3 L1071.1,1168.5 L1072.8,1171.2 L1074.5,1174.1 L1076.2,1176.5 L1077.9,1178.4 L1079.6,1180.3 L1081.3,1182.1 L1083.0,1183.8 L1084.7,1185.1 L1086.3,1186.0 L1088.0,1187.5 L1089.7,1189.2 L1091.4,1190.1 L1093.1,1190.8 L1094.8,1191.5 L1096.5,1192.1 L1098.2,1193.1 L1099.9,1194.3 L1101.6,1195.3 L1103.3,1195.9 L1105.0,1196.2 L1106.7,1196.1 L1108.4,1196.3 L1110.1,1197.4 L1111.8,1198.7 L1113.5,1198.9 L1115.2,1199.1 L1116.9,1199.7 L1118.6,1200.1 L1120.2,1200.2 L1121.9,1200.3 L1123.6,1200.8 L1125.3,1201.1 L1127.0,1201.1 L1128.7,1201.5 L1130.4,1201.9 L1132.1,1202.2 L1133.8,1202.1 L1135.5,1202.0 L1137.2,1202.3 L1138.9,1202.1 L1140.6,1201.8 L1142.3,1202.0 L1144.0,1202.2 L1145.7,1202.2 L1147.4,1201.7 L1149.1,1201.6 L1150.8,1202.2 L1152.5,1202.8 L1154.1,1202.6 L1155.8,1201.8 L1157.5,1201.6 L1159.2,1201.7 L1160.9,1202.0 L1162.6,1202.3 L1164.3,1202.4 L1166.0,1202.3 L1167.7,1202.4 L1169.4,1202.5 L1171.1,1202.1 L1172.8,1201.9 L1174.5,1202.6 L1176.2,1202.8 L1177.9,1202.5 L1179.6,1202.8 L1181.3,1202.9 L1183.0,1202.4 L1184.7,1202.2 L1186.4,1202.1 L1188.0,1201.7 L1189.7,1202.1 L1191.4,1202.5 L1193.1,1202.5 L1194.8,1202.7 L1196.5,1202.6 L1198.2,1202.4 L1199.9,1202.5 L1201.6,1202.3 L1203.3,1201.8 L1205.0,1201.7 L1206.7,1201.9 L1208.4,1202.0 L1210.1,1201.9 L1211.8,1201.8 L1213.5,1201.8 L1215.2,1201.9 L1216.9,1202.3 L1218.6,1202.7 L1220.2,1202.8 L1221.9,1202.5 L1223.6,1202.0 L1225.3,1201.9 L1227.0,1202.3 L1228.7,1202.4 L1230.4,1202.5 L1232.1,1202.7 L1233.8,1202.7 L1235.5,1202.7 L1237.2,1202.8 L1238.9,1202.5 L1240.6,1202.4 L1242.3,1202.6 L1244.0,1202.9 L1245.7,1202.6 L1247.4,1202.1 L1249.1,1202.2 L1250.8,1202.0 L1252.5,1202.0 L1254.2,1202.5 L1255.8,1202.5 L1257.5,1201.9 L1259.2,1201.8 L1260.9,1202.4 L1262.6,1202.4 L1264.3,1202.0 L1266.0,1201.8 L1267.7,1201.8 L1269.4,1202.1 L1271.1,1202.4 L1272.8,1202.3 L1274.5,1202.0 L1276.2,1202.5 L1277.9,1203.0 L1279.6,1202.7 L1281.3,1202.1 L1283.0,1201.8 L1284.7,1202.1 L1286.4,1202.3 L1288.0,1201.9 L1289.7,1201.8 L1291.4,1201.9 L1293.1,1201.9 L1294.8,1202.0 L1296.5,1202.3 L1298.2,1202.3 L1299.9,1202.4 L1301.6,1202.4 L1303.3,1202.3 L1305.0,1202.3 L1306.7,1202.0 L1308.4,1201.9"/>
<path d="M116.3,992.5 L118.5,991.7 L120.2,987.5 L121.9,982.6 L123.6,978.5 L125.3,974.7 L127.0,971.3 L128.7,968.5 L130.4,965.4 L132.1,961.5 L133.8,955.8 L135.4,951.2 L137.1,939.5 L138.8,926.1 L140.5,916.5 L142.2,908.5 L143.9,900.6 L145.6,894.1 L147.3,885.3 L149.0,878.5 L150.7,877.5 L152.4,875.0 L154.1,870.5 L155.8,865.4 L157.5,859.5 L159.2,857.1 L160.9,856.7 L162.6,854.6 L164.3,854.2 L166.0,851.5 L167.7,846.8 L169.3,846.9 L171.0,849.4 L172.7,848.9 L174.4,846.3 L176.1,842.3 L177.8,840.7 L179.5,842.1 L181.2,839.4 L182.9,835.6 L184.6,834.6 L186.3,832.3 L188.0,830.8 L189.7,831.7 L191.4,832.6 L193.1,831.2 L194.8,833.8 L196.5,838.7 L198.2,838.2 L199.9,839.0 L201.6,843.0 L203.2,847.0 L204.9,849.2 L206.6,848.1 L208.3,847.2 L210.0,851.0 L211.7,854.8 L213.4,855.6 L215.1,859.5 L216.8,866.6 L218.5,870.3 L220.2,873.1 L221.9,875.1 L223.6,875.5 L225.3,878.1 L227.0,883.5 L228.7,889.4 L230.4,893.3 L232.1,896.7 L233.8,899.9 L235.5,904.5 L237.2,913.9 L238.8,922.8 L240.5,928.7 L242.2,932.6 L243.9,933.6 L245.6,934.8 L247.3,939.9 L249.0,945.6 L250.7,950.6 L252.4,954.2 L254.1,958.8 L255.8,966.6 L257.5,973.7 L259.2,978.7 L260.9,983.1 L262.6,987.4 L264.3,991.8 L266.0,994.9 L267.7,996.5 L269.4,994.3 L271.1,994.0 L272.7,997.3 L274.4,998.8 L276.1,1000.6 L277.8,1003.3 L279.5,1004.4 L281.2,1005.5 L282.9,1005.9 L284.6,1006.7 L286.3,1009.4 L288.0,1010.2 L289.7,1010.9 L291.4,1012.1 L293.1,1012.5 L294.8,1012.9 L296.5,1013.9 L298.2,1014.7 L299.9,1016.9 L301.6,1019.6 L303.3,1020.0 L305.0,1020.8 L306.6,1023.5 L308.3,1026.8 L310.0,1029.8 L311.7,1031.8 L313.4,1033.5 L315.1,1034.9 L316.8,1036.1 L318.5,1038.4 L320.2,1040.9 L321.9,1043.0 L323.6,1044.2 L325.3,1045.5 L327.0,1047.7 L328.7,1048.9 L330.4,1050.0 L332.1,1052.0 L333.8,1053.1 L335.5,1052.5 L337.2,1051.1 L338.9,1050.7 L340.5,1052.2 L342.2,1053.7 L343.9,1053.6 L345.6,1053.5 L347.3,1053.8 L349.0,1053.2 L350.7,1053.1 L352.4,1054.1 L354.1,1054.5 L355.8,1054.2 L357.5,1054.8 L359.2,1055.8 L360.9,1056.0 L362.6,1056.7 L364.3,1057.5 L366.0,1057.4 L367.7,1057.8 L369.4,1058.9 L371.1,1059.6 L372.8,1058.8 L374.4,1057.1 L376.1,1056.6 L377.8,1057.4 L379.5,1058.3 L381.2,1059.3 L382.9,1059.8 L384.6,1060.1 L386.3,1061.1 L388.0,1061.4 L389.7,1061.1 L391.4,1061.5 L393.1,1061.5 L394.8,1060.6 L396.5,1059.7 L398.2,1058.9 L399.9,1058.9 L401.6,1058.8 L403.3,1058.3 L405.0,1058.0 L406.7,1057.9 L408.3,1057.1 L410.0,1055.8 L411.7,1054.9 L413.4,1055.2 L415.1,1056.1 L416.8,1055.9 L418.5,1054.9 L420.2,1054.3 L421.9,1054.2 L423.6,1053.6 L425.3,1052.6 L427.0,1052.1 L428.7,1051.3 L430.4,1049.1 L432.1,1048.0 L433.8,1047.6 L435.5,1046.6 L437.2,1045.5 L438.9,1044.1 L440.6,1043.5 L442.2,1043.2 L443.9,1042.1 L445.6,1040.8 L447.3,1039.3 L449.0,1037.9 L450.7,1037.2 L452.4,1037.5 L454.1,1037.5 L455.8,1035.6 L457.5,1034.1 L459.2,1032.2 L460.9,1030.3 L462.6,1030.0 L464.3,1029.8 L466.0,1029.0 L467.7,1028.2 L469.4,1027.6 L471.1,1027.1 L472.8,1025.8 L474.4,1024.0 L476.1,1023.0 L477.8,1022.3 L479.5,1021.8 L481.2,1021.7 L482.9,1021.3 L484.6,1020.6 L486.3,1020.1 L488.0,1020.4 L489.7,1020.9 L491.4,1020.3 L493.1,1019.1 L494.8,1019.3 L496.5,1019.1 L498.2,1017.8 L499.9,1017.4 L501.6,1018.0 L503.3,1017.6 L505.0,1016.5 L506.7,1016.6 L508.4,1017.3 L510.0,1018.2 L511.7,1019.3 L513.4,1019.1 L515.1,1018.0 L516.8,1017.7 L518.5,1018.5 L520.2,1019.5 L521.9,1019.7 L523.6,1019.4 L525.3,1019.1 L527.0,1017.9 L528.7,1016.5 L530.4,1016.0 L532.1,1018.0 L533.8,1020.6 L535.5,1023.0 L537.2,1024.8 L538.9,1024.5 L540.6,1023.8 L542.2,1023.9 L543.9,1024.7 L545.6,1025.9 L547.3,1027.0 L549.0,1027.4 L550.7,1028.5 L552.4,1030.7 L554.1,1032.3 L555.8,1032.7 L557.5,1032.0 L559.2,1033.3 L560.9,1036.3 L562.6,1039.2 L564.3,1040.9 L566.0,1042.5 L567.7,1044.4 L569.4,1046.1 L571.1,1047.9 L572.8,1049.8 L574.5,1051.4 L576.2,1053.4 L577.8,1055.9 L579.5,1057.9 L581.2,1059.6 L582.9,1061.1 L584.6,1063.1 L586.3,1065.3 L588.0,1067.8 L589.7,1070.1 L591.4,1071.6 L593.1,1073.7 L594.8,1075.3 L596.5,1077.7 L598.2,1081.1 L599.9,1083.3 L601.6,1085.0 L603.3,1087.3 L605.0,1089.2 L606.7,1090.5 L608.4,1092.4 L610.0,1094.7 L611.7,1096.9 L613.4,1099.2 L615.1,1101.5 L616.8,1103.3 L618.5,1104.9 L620.2,1107.4 L621.9,1109.9 L623.6,1111.5 L625.3,1112.4 L627.0,1113.5 L628.7,1115.5 L630.4,1117.1 L632.1,1117.3 L633.8,1118.0 L635.5,1120.4 L637.2,1122.4 L638.9,1124.4 L640.6,1126.6 L642.3,1127.2 L644.0,1127.3 L645.6,1127.8 L647.3,1129.5 L649.0,1131.4 L650.7,1132.2 L652.4,1133.1 L654.1,1133.4 L655.8,1133.8 L657.5,1134.3 L659.2,1133.7 L660.9,1132.4 L662.6,1131.8 L664.3,1132.4 L666.0,1132.7 L667.7,1131.8 L669.4,1130.7 L671.1,1129.5 L672.8,1128.8 L674.5,1128.2 L676.2,1126.7 L677.9,1124.8 L679.5,1122.9 L681.2,1121.3 L682.9,1120.5 L684.6,1119.2 L686.3,1117.2 L688.0,1115.0 L689.7,1112.2 L691.4,1110.4 L693.1,1109.1 L694.8,1106.3 L696.5,1104.4 L698.2,1102.7 L699.9,1100.5 L701.6,1098.9 L703.3,1097.5 L705.0,1095.5 L706.7,1093.4 L708.4,1091.3 L710.1,1089.2 L711.8,1087.4 L713.4,1085.3 L715.1,1082.8 L716.8,1080.1 L718.5,1077.3 L720.2,1074.3 L721.9,1070.8 L723.6,1066.7 L725.3,1062.8 L727.0,1059.2 L728.7,1055.6 L730.4,1051.4 L732.1,1046.8 L733.8,1042.3 L735.5,1037.7 L737.2,1032.9 L738.9,1028.2 L740.6,1023.5 L742.3,1018.5 L744.0,1013.4 L745.6,1008.3 L747.3,1002.9 L749.0,997.7 L750.7,992.5 L752.4,987.1 L754.1,981.4 L755.8,975.6 L757.5,970.0 L759.2,964.4 L760.9,958.7 L762.6,952.9 L764.3,946.9 L766.0,941.4 L767.7,935.6 L769.4,929.1 L771.1,923.0 L772.8,917.2 L774.5,910.9 L776.2,904.1 L777.9,897.1 L779.6,890.7 L781.2,884.5 L782.9,877.4 L784.6,870.1 L786.3,862.9 L788.0,856.4 L789.7,849.6 L791.4,841.8 L793.1,834.2 L794.8,827.1 L796.5,819.7 L798.2,811.4 L799.9,803.5 L801.6,796.2 L803.3,788.4 L805.0,780.2 L806.7,772.1 L808.4,764.5 L810.1,756.9 L811.8,748.8 L813.5,741.1 L815.1,733.4 L816.8,725.4 L818.5,717.5 L820.2,709.1 L821.9,700.1 L823.6,691.6 L825.3,683.1 L827.0,674.3 L828.7,665.8 L830.4,657.0 L832.1,647.7 L833.8,638.6 L835.5,629.4 L837.2,620.3 L838.9,611.7 L840.6,602.9 L842.3,594.4 L844.0,586.2 L845.7,577.9 L847.4,569.6 L849.0,561.3 L850.7,553.6 L852.4,546.5 L854.1,539.6 L855.8,532.7 L857.5,525.9 L859.2,519.3 L860.9,513.0 L862.6,506.6 L864.3,499.7 L866.0,492.8 L867.7,485.9 L869.4,478.3 L871.1,470.8 L872.8,463.2 L874.5,455.4 L876.2,447.8 L877.9,440.3 L879.6,432.7 L881.2,425.1 L882.9,418.3 L884.6,411.8 L886.3,405.1 L888.0,398.6 L889.7,392.1 L891.4,385.3 L893.1,378.4 L894.8,371.3 L896.5,364.6 L898.2,358.4 L899.9,352.3 L901.6,347.3 L903.3,343.5 L905.0,339.4 L906.7,334.7 L908.4,330.4 L910.1,326.9 L911.8,323.5 L913.5,320.6 L915.1,318.2 L916.8,316.1 L918.5,314.1 L920.2,312.2 L921.9,310.5 L923.6,309.9 L925.3,309.5 L927.0,308.8 L928.7,308.5 L930.4,308.8 L932.1,309.5 L933.8,311.1 L935.5,313.2 L937.2,314.9 L938.9,316.7 L940.6,319.5 L942.3,322.8 L944.0,326.7 L945.7,331.8 L947.4,337.6 L949.1,343.3 L950.7,349.6 L952.4,357.7 L954.1,365.7 L955.8,373.7 L957.5,382.5 L959.2,392.4 L960.9,403.6 L962.6,415.3 L964.3,427.0 L966.0,438.9 L967.7,451.7 L969.4,465.3 L971.1,479.1 L972.8,493.4 L974.5,508.7 L976.2,524.3 L977.9,540.1 L979.6,555.7 L981.3,571.3 L983.0,586.9 L984.6,602.1 L986.3,617.1 L988.0,632.3 L989.7,647.9 L991.4,663.9 L993.1,679.7 L994.8,694.9 L996.5,710.3 L998.2,726.0 L999.9,742.8 L1001.6,760.4 L1003.3,778.0 L1005.0,796.4 L1006.7,814.4 L1008.4,831.7 L1010.1,849.6 L1011.8,867.2 L1013.5,883.7 L1015.2,899.3 L1016.9,914.1 L1018.5,928.0 L1020.2,941.7 L1021.9,954.5 L1023.6,966.1 L1025.3,977.9 L1027.0,989.9 L1028.7,1001.4 L1030.4,1012.4 L1032.1,1022.8 L1033.8,1032.5 L1035.5,1042.0 L1037.2,1051.4 L1038.9,1060.0 L1040.6,1068.1 L1042.3,1075.8 L1044.0,1083.3 L1045.7,1090.4 L1047.4,1096.6 L1049.1,1102.7 L1050.8,1109.7 L1052.4,1116.3 L1054.1,1122.5 L1055.8,1128.8 L1057.5,1135.3 L1059.2,1141.5 L1060.9,1146.8 L1062.6,1151.7 L1064.3,1155.6 L1066.0,1159.1 L1067.7,1162.6 L1069.4,1165.5 L1071.1,1168.2 L1072.8,1171.5 L1074.5,1174.8 L1076.2,1177.7 L1077.9,1180.0 L1079.6,1181.9 L1081.3,1183.4 L1083.0,1184.9 L1084.7,1186.2 L1086.3,1187.4 L1088.0,1188.8 L1089.7,1190.2 L1091.4,1191.1 L1093.1,1191.6 L1094.8,1192.2 L1096.5,1192.8 L1098.2,1193.6 L1099.9,1194.6 L1101.6,1195.4 L1103.3,1195.8 L1105.0,1195.7 L1106.7,1196.2 L1108.4,1197.4 L1110.1,1198.1 L1111.8,1198.5 L1113.5,1199.2 L1115.2,1199.4 L1116.9,1199.3 L1118.6,1199.8 L1120.2,1200.2 L1121.9,1200.4 L1123.6,1200.9 L1125.3,1201.2 L1127.0,1201.5 L1128.7,1201.7 L1130.4,1201.8 L1132.1,1201.7 L1133.8,1201.6 L1135.5,1201.5 L1137.2,1201.7 L1138.9,1202.0 L1140.6,1202.2 L1142.3,1202.5 L1144.0,1202.6 L1145.7,1202.2 L1147.4,1202.1 L1149.1,1202.3 L1150.8,1202.2 L1152.5,1202.3 L1154.1,1202.3 L1155.8,1202.1 L1157.5,1202.4 L1159.2,1202.5 L1160.9,1202.1 L1162.6,1202.0 L1164.3,1202.6 L1166.0,1203.0 L1167.7,1203.2 L1169.4,1202.9 L1171.1,1202.5 L1172.8,1202.6 L1174.5,1202.8 L1176.2,1202.5 L1177.9,1202.1 L1179.6,1202.3 L1181.3,1202.4 L1183.0,1202.0 L1184.7,1202.0 L1186.4,1202.4 L1188.0,1202.8 L1189.7,1203.1 L1191.4,1203.0 L1193.1,1202.7 L1194.8,1202.5 L1196.5,1202.2 L1198.2,1202.1 L1199.9,1202.2 L1201.6,1202.4 L1203.3,1202.9 L1205.0,1203.2 L1206.7,1203.0 L1208.4,1202.8 L1210.1,1202.7 L1211.8,1202.7 L1213.5,1202.9 L1215.2,1202.9 L1216.9,1202.5 L1218.6,1202.5 L1220.2,1202.5 L1221.9,1202.4 L1223.6,1202.5 L1225.3,1202.7 L1227.0,1202.2 L1228.7,1201.9 L1230.4,1202.1 L1232.1,1201.9 L1233.8,1201.6 L1235.5,1201.9 L1237.2,1202.1 L1238.9,1201.9 L1240.6,1202.1 L1242.3,1202.5 L1244.0,1202.4 L1245.7,1202.2 L1247.4,1202.3 L1249.1,1202.2 L1250.8,1202.1 L1252.5,1202.5 L1254.2,1202.7 L1255.8,1202.2 L1257.5,1201.9 L1259.2,1202.1 L1260.9,1202.4 L1262.6,1202.2 L1264.3,1201.8 L1266.0,1202.0 L1267.7,1202.5 L1269.4,1202.5 L1271.1,1202.7 L1272.8,1203.0 L1274.5,1202.6 L1276.2,1202.2 L1277.9,1202.5 L1279.6,1202.5 L1281.3,1202.1 L1283.0,1201.8 L1284.7,1202.1 L1286.4,1202.5 L1288.0,1202.4 L1289.7,1202.2 L1291.4,1202.5 L1293.1,1202.6 L1294.8,1202.0 L1296.5,1202.0 L1298.2,1202.9 L1299.9,1203.5 L1301.6,1203.3 L1303.3,1202.9 L1305.0,1202.5 L1306.7,1202.2 L1308.4,1202.3"/>
<path d="M116.3,993.7 L118.5,992.5 L120.2,989.1 L121.9,985.4 L123.6,980.1 L125.3,974.0 L127.0,971.4 L128.7,971.0 L130.4,967.7 L132.1,963.7 L133.8,960.2 L135.4,955.7 L137.1,942.2 L138.8,929.2 L140.5,918.5 L142.2,909.0 L143.9,902.7 L145.6,897.5 L147.3,891.0 L149.0,884.6 L150.7,879.2 L152.4,875.1 L154.1,870.3 L155.8,866.4 L157.5,865.8 L159.2,866.4 L160.9,863.1 L162.6,855.5 L164.3,851.2 L166.0,850.6 L167.7,850.1 L169.3,850.4 L171.0,850.3 L172.7,847.2 L174.4,843.0 L176.1,842.1 L177.8,843.4 L179.5,842.1 L181.2,839.1 L182.9,839.0 L184.6,837.9 L186.3,833.4 L188.0,834.1 L189.7,834.8 L191.4,831.8 L193.1,832.6 L194.8,835.8 L196.5,838.6 L198.2,842.4 L199.9,846.3 L201.6,846.4 L203.2,844.7 L204.9,846.0 L206.6,846.4 L208.3,848.8 L210.0,853.9 L211.7,855.5 L213.4,857.0 L215.1,858.3 L216.8,861.0 L218.5,864.4 L220.2,868.4 L221.9,871.5 L223.6,872.8 L225.3,877.5 L227.0,883.4 L228.7,887.6 L230.4,891.4 L232.1,895.0 L233.8,901.7 L235.5,911.1 L237.2,918.6 L238.8,923.1 L240.5,928.2 L242.2,929.5 L243.9,931.5 L245.6,939.3 L247.3,943.7 L249.0,946.8 L250.7,951.2 L252.4,955.7 L254.1,962.9 L255.8,966.3 L257.5,969.3 L259.2,976.8 L260.9,983.7 L262.6,987.4 L264.3,990.3 L266.0,992.9 L267.7,996.5 L269.4,997.3 L271.1,997.8 L272.7,1000.5 L274.4,1001.8 L276.1,1002.9 L277.8,1004.1 L279.5,1003.9 L281.2,1005.8 L282.9,1008.7 L284.6,1009.8 L286.3,1011.0 L288.0,1011.9 L289.7,1012.7 L291.4,1013.2 L293.1,1013.8 L294.8,1014.6 L296.5,1015.3 L298.2,1015.9 L299.9,1017.7 L301.6,1020.4 L303.3,1023.1 L305.0,1025.0 L306.6,1026.1 L308.3,1026.9 L310.0,1028.2 L311.7,1030.4 L313.4,1033.3 L315.1,1035.5 L316.8,1037.2 L318.5,1038.5 L320.2,1039.6 L321.9,1041.8 L323.6,1044.9 L325.3,1046.4 L327.0,1047.1 L328.7,1049.1 L330.4,1051.1 L332.1,1051.7 L333.8,1052.5 L335.5,1053.3 L337.2,1054.2 L338.9,1054.6 L340.5,1054.2 L342.2,1054.7 L343.9,1055.3 L345.6,1055.0 L347.3,1054.6 L349.0,1054.9 L350.7,1056.0 L352.4,1056.8 L354.1,1057.1 L355.8,1057.2 L357.5,1056.8 L359.2,1056.6 L360.9,1056.5 L362.6,1056.0 L364.3,1056.6 L366.0,1057.4 L367.7,1058.1 L369.4,1058.3 L371.1,1057.9 L372.8,1058.4 L374.4,1059.5 L376.1,1059.1 L377.8,1058.8 L379.5,1059.1 L381.2,1060.2 L382.9,1061.7 L384.6,1061.5 L386.3,1060.3 L388.0,1061.2 L389.7,1062.5 L391.4,1062.4 L393.1,1062.6 L394.8,1063.6 L396.5,1063.8 L398.2,1062.4 L399.9,1060.7 L401.6,1059.9 L403.3,1059.6 L405.0,1058.7 L406.7,1058.8 L408.3,1059.4 L410.0,1058.9 L411.7,1058.4 L413.4,1058.3 L415.1,1057.5 L416.8,1056.6 L418.5,1056.6 L420.2,1056.8 L421.9,1055.3 L423.6,1054.0 L425.3,1055.1 L427.0,1054.9 L428.7,1052.7 L430.4,1050.8 L432.1,1050.2 L433.8,1049.5 L435.5,1048.2 L437.2,1047.7 L438.9,1047.3 L440.6,1045.9 L442.2,1044.0 L443.9,1042.3 L445.6,1041.2 L447.3,1040.3 L449.0,1039.1 L450.7,1038.0 L452.4,1037.5 L454.1,1037.7 L455.8,1036.7 L457.5,1035.1 L459.2,1034.5 L460.9,1033.6 L462.6,1032.4 L464.3,1031.8 L466.0,1030.4 L467.7,1029.6 L469.4,1029.7 L471.1,1027.4 L472.8,1025.3 L474.4,1025.5 L476.1,1025.2 L477.8,1023.5 L479.5,1022.7 L481.2,1023.5 L482.9,1023.5 L484.6,1022.7 L486.3,1022.2 L488.0,1021.8 L489.7,1021.7 L491.4,1021.8 L493.1,1021.9 L494.8,1021.9 L496.5,1021.7 L498.2,1021.1 L499.9,1021.0 L501.6,1020.6 L503.3,1019.4 L505.0,1019.8 L506.7,1020.1 L508.4,1019.4 L510.0,1019.5 L511.7,1019.5 L513.4,1019.4 L515.1,1019.4 L516.8,1019.7 L518.5,1020.1 L520.2,1019.3 L521.9,1019.2 L523.6,1020.7 L525.3,1020.5 L527.0,1020.1 L528.7,1021.1 L530.4,1020.7 L532.1,1020.1 L533.8,1020.6 L535.5,1021.3 L537.2,1022.5 L538.9,1024.1 L540.6,1024.8 L542.2,1025.3 L543.9,1026.1 L545.6,1027.4 L547.3,1028.7 L549.0,1029.3 L550.7,1029.6 L552.4,1031.1 L554.1,1033.3 L555.8,1034.3 L557.5,1034.7 L559.2,1036.8 L560.9,1039.0 L562.6,1040.9 L564.3,1042.3 L566.0,1043.3 L567.7,1044.8 L569.4,1046.5 L571.1,1048.0 L572.8,1049.5 L574.5,1050.7 L576.2,1053.1 L577.8,1056.4 L579.5,1059.9 L581.2,1062.8 L582.9,1063.6 L584.6,1063.8 L586.3,1065.5 L588.0,1067.9 L589.7,1069.7 L591.4,1071.8 L593.1,1075.0 L594.8,1078.0 L596.5,1079.6 L598.2,1080.8 L599.9,1082.6 L601.6,1085.2 L603.3,1087.7 L605.0,1088.9 L606.7,1090.5 L608.4,1092.6 L610.0,1094.5 L611.7,1096.8 L613.4,1100.0 L615.1,1103.4 L616.8,1105.1 L618.5,1105.6 L620.2,1107.4 L621.9,1110.0 L623.6,1111.9 L625.3,1113.3 L627.0,1114.7 L628.7,1116.6 L630.4,1117.5 L632.1,1117.8 L633.8,1119.9 L635.5,1122.8 L637.2,1124.9 L638.9,1125.5 L640.6,1125.5 L642.3,1126.4 L644.0,1128.1 L645.6,1129.5 L647.3,1131.0 L649.0,1132.0 L650.7,1132.1 L652.4,1132.3 L654.1,1132.5 L655.8,1133.8 L657.5,1134.2 L659.2,1133.8 L660.9,1134.7 L662.6,1135.8 L664.3,1135.7 L666.0,1134.6 L667.7,1133.8 L669.4,1132.9 L671.1,1131.4 L672.8,1130.0 L674.5,1129.1 L676.2,1128.1 L677.9,1126.4 L679.5,1124.0 L681.2,1121.9 L682.9,1120.2 L684.6,1118.6 L686.3,1117.4 L688.0,1116.4 L689.7,1114.1 L691.4,1111.3 L693.1,1108.9 L694.8,1107.1 L696.5,1106.3 L698.2,1104.5 L699.9,1102.6 L701.6,1101.1 L703.3,1099.7 L705.0,1097.9 L706.7,1096.0 L708.4,1094.1 L710.1,1091.6 L711.8,1089.3 L713.4,1087.0 L715.1,1084.5 L716.8,1082.3 L718.5,1079.8 L720.2,1076.8 L721.9,1073.4 L723.6,1069.7 L725.3,1065.8 L727.0,1061.7 L728.7,1057.9 L730.4,1054.1 L732.1,1050.4 L733.8,1046.4 L735.5,1041.9 L737.2,1037.2 L738.9,1032.4 L740.6,1027.5 L742.3,1022.5 L744.0,1017.6 L745.6,1012.9 L747.3,1008.0 L749.0,1002.9 L750.7,997.6 L752.4,992.4 L754.1,987.4 L755.8,981.6 L757.5,975.7 L759.2,970.7 L760.9,965.6 L762.6,960.3 L764.3,954.4 L766.0,948.0 L767.7,942.1 L769.4,936.0 L771.1,929.5 L772.8,923.5 L774.5,918.0 L776.2,911.7 L777.9,905.2 L779.6,898.9 L781.2,892.3 L782.9,885.5 L784.6,878.5 L786.3,871.7 L788.0,864.8 L789.7,857.5 L791.4,850.4 L793.1,843.4 L794.8,836.0 L796.5,828.4 L798.2,821.2 L799.9,814.2 L801.6,806.9 L803.3,799.4 L805.0,791.8 L806.7,783.9 L808.4,776.4 L810.1,769.0 L811.8,761.0 L813.5,752.9 L815.1,745.4 L816.8,737.7 L818.5,729.5 L820.2,721.7 L821.9,713.8 L823.6,705.2 L825.3,696.2 L827.0,687.2 L828.7,678.4 L830.4,670.2 L832.1,661.9 L833.8,653.2 L835.5,644.4 L837.2,635.8 L838.9,627.3 L840.6,618.4 L842.3,609.7 L844.0,601.5 L845.7,593.6 L847.4,586.0 L849.0,578.5 L850.7,570.6 L852.4,562.7 L854.1,555.7 L855.8,549.3 L857.5,542.8 L859.2,536.4 L860.9,530.0 L862.6,523.9 L864.3,517.7 L866.0,511.1 L867.7,504.4 L869.4,497.5 L871.1,490.0 L872.8,482.0 L874.5,474.3 L876.2,466.8 L877.9,459.3 L879.6,452.1 L881.2,445.5 L882.9,438.9 L884.6,431.8 L886.3,425.1 L888.0,419.3 L889.7,413.4 L891.4,406.7 L893.1,399.7 L894.8,392.8 L896.5,385.8 L898.2,379.7 L899.9,374.1 L901.6,368.9 L903.3,364.4 L905.0,360.3 L906.7,356.5 L908.4,353.3 L910.1,350.3 L911.8,347.1 L913.5,344.1 L915.1,341.2 L916.8,338.3 L918.5,336.0 L920.2,334.6 L921.9,333.7 L923.6,332.9 L925.3,331.9 L927.0,331.0 L928.7,330.7 L930.4,331.2 L932.1,332.5 L933.8,334.2 L935.5,335.8 L937.2,337.5 L938.9,339.3 L940.6,341.8 L942.3,345.4 L944.0,349.2 L945.7,353.8 L947.4,359.5 L949.1,365.4 L950.7,371.6 L952.4,379.6 L954.1,386.9 L955.8,394.2 L957.5,403.3 L959.2,413.7 L960.9,424.3 L962.6,435.2 L964.3,446.8 L966.0,458.6 L967.7,470.8 L969.4,483.6 L971.1,497.3 L972.8,511.3 L974.5,526.0 L976.2,541.4 L977.9,556.8 L979.6,571.9 L981.3,587.1 L983.0,602.2 L984.6,617.4 L986.3,632.6 L988.0,647.7 L989.7,662.6 L991.4,677.5 L993.1,692.8 L994.8,708.2 L996.5,723.3 L998.2,739.0 L999.9,755.1 L1001.6,771.4 L1003.3,788.6 L1005.0,806.3 L1006.7,823.8 L1008.4,841.7 L1010.1,859.0 L1011.8,875.7 L1013.5,892.4 L1015.2,907.8 L1016.9,922.0 L1018.5,935.5 L1020.2,948.2 L1021.9,960.1 L1023.6,972.0 L1025.3,984.3 L1027.0,995.8 L1028.7,1006.6 L1030.4,1017.4 L1032.1,1027.8 L1033.8,1037.4 L1035.5,1046.5 L1037.2,1055.3 L1038.9,1063.6 L1040.6,1071.6 L1042.3,1079.2 L1044.0,1086.6 L1045.7,1093.5 L1047.4,1099.9 L1049.1,1106.0 L1050.8,1112.4 L1052.4,1118.8 L1054.1,1125.0 L1055.8,1130.6 L1057.5,1136.5 L1059.2,1142.7 L1060.9,1148.1 L1062.6,1152.5 L1064.3,1156.3 L1066.0,1160.0 L1067.7,1163.8 L1069.4,1167.2 L1071.1,1170.4 L1072.8,1173.4 L1074.5,1175.9 L1076.2,1178.2 L1077.9,1180.2 L1079.6,1181.8 L1081.3,1183.2 L1083.0,1184.6 L1084.7,1186.1 L1086.3,1187.6 L1088.0,1188.7 L1089.7,1189.8 L1091.4,1190.9 L1093.1,1191.7 L1094.8,1192.8 L1096.5,1194.0 L1098.2,1194.7 L1099.9,1195.2 L1101.6,1195.7 L1103.3,1196.6 L1105.0,1197.4 L1106.7,1197.4 L1108.4,1197.5 L1110.1,1198.1 L1111.8,1198.6 L1113.5,1199.2 L1115.2,1199.8 L1116.9,1199.9 L1118.6,1199.8 L1120.2,1200.1 L1121.9,1200.4 L1123.6,1200.8 L1125.3,1201.2 L1127.0,1201.4 L1128.7,1201.3 L1130.4,1201.1 L1132.1,1201.5 L1133.8,1201.9 L1135.5,1202.3 L1137.2,1202.1 L1138.9,1201.9 L1140.6,1202.4 L1142.3,1202.6 L1144.0,1202.4 L1145.7,1202.1 L1147.4,1202.1 L1149.1,1202.6 L1150.8,1202.4 L1152.5,1202.2 L1154.1,1202.7 L1155.8,1202.7 L1157.5,1202.1 L1159.2,1202.0 L1160.9,1202.7 L1162.6,1202.9 L1164.3,1202.2 L1166.0,1201.9 L1167.7,1202.6 L1169.4,1202.9 L1171.1,1202.4 L1172.8,1202.1 L1174.5,1202.2 L1176.2,1202.4 L1177.9,1202.6 L1179.6,1202.4 L1181.3,1201.9 L1183.0,1202.1 L1184.7,1203.0 L1186.4,1202.8 L1188.0,1202.1 L1189.7,1202.5 L1191.4,1202.9 L1193.1,1202.7 L1194.8,1202.5 L1196.5,1202.6 L1198.2,1202.6 L1199.9,1202.7 L1201.6,1202.6 L1203.3,1202.5 L1205.0,1202.7 L1206.7,1202.7 L1208.4,1202.3 L1210.1,1202.0 L1211.8,1202.2 L1213.5,1202.3 L1215.2,1202.3 L1216.9,1202.1 L1218.6,1202.0 L1220.2,1201.9 L1221.9,1201.7 L1223.6,1201.8 L1225.3,1202.3 L1227.0,1202.4 L1228.7,1202.2 L1230.4,1202.2 L1232.1,1202.6 L1233.8,1203.1 L1235.5,1203.1 L1237.2,1202.5 L1238.9,1202.1 L1240.6,1202.3 L1242.3,1202.5 L1244.0,1202.4 L1245.7,1202.4 L1247.4,1202.4 L1249.1,1202.4 L1250.8,1202.7 L1252.5,1203.0 L1254.2,1203.2 L1255.8,1203.3 L1257.5,1203.0 L1259.2,1202.6 L1260.9,1202.2 L1262.6,1202.1 L1264.3,1202.3 L1266.0,1202.5 L1267.7,1202.5 L1269.4,1202.4 L1271.1,1202.3 L1272.8,1202.4 L1274.5,1202.7 L1276.2,1202.6 L1277.9,1202.5 L1279.6,1202.4 L1281.3,1202.0 L1283.0,1201.9 L1284.7,1202.4 L1286.4,1202.9 L1288.0,1203.1 L1289.7,1202.9 L1291.4,1202.9 L1293.1,1203.1 L1294.8,1202.6 L1296.5,1202.3 L1298.2,1202.6 L1299.9,1202.8 L1301.6,1202.7 L1303.3,1202.6 L1305.0,1202.8 L1306.7,1202.5 L1308.4,1201.9"/>
<path d="M116.3,994.0 L118.5,992.6 L120.2,989.9 L121.9,987.1 L123.6,982.6 L125.3,978.7 L127.0,975.7 L128.7,970.7 L130.4,964.6 L132.1,961.7 L133.8,960.8 L135.4,958.1 L137.1,945.2 L138.8,930.5 L140.5,917.5 L142.2,907.3 L143.9,902.7 L145.6,898.9 L147.3,892.4 L149.0,887.5 L150.7,883.8 L152.4,877.7 L154.1,872.2 L155.8,869.7 L157.5,869.7 L159.2,868.3 L160.9,863.3 L162.6,858.9 L164.3,857.7 L166.0,856.9 L167.7,854.2 L169.3,850.2 L171.0,848.3 L172.7,848.3 L174.4,849.1 L176.1,847.5 L177.8,845.4 L179.5,846.7 L181.2,846.7 L182.9,841.4 L184.6,836.3 L186.3,834.1 L188.0,834.0 L189.7,837.0 L191.4,841.1 L193.1,843.2 L194.8,840.1 L196.5,836.0 L198.2,836.6 L199.9,837.9 L201.6,839.5 L203.2,842.7 L204.9,844.8 L206.6,844.6 L208.3,844.8 L210.0,848.5 L211.7,853.0 L213.4,858.7 L215.1,864.6 L216.8,869.4 L218.5,870.2 L220.2,872.0 L221.9,876.5 L223.6,874.9 L225.3,874.5 L227.0,882.8 L228.7,890.5 L230.4,892.2 L232.1,894.4 L233.8,901.7 L235.5,909.7 L237.2,918.1 L238.8,921.0 L240.5,921.0 L242.2,927.2 L243.9,934.2 L245.6,938.0 L247.3,941.9 L249.0,946.0 L250.7,951.2 L252.4,958.4 L254.1,965.4 L255.8,969.8 L257.5,975.3 L259.2,982.4 L260.9,988.5 L262.6,990.9 L264.3,992.7 L266.0,995.6 L267.7,998.7 L269.4,999.2 L271.1,1000.2 L272.7,1002.7 L274.4,1004.2 L276.1,1004.4 L277.8,1005.7 L279.5,1008.6 L281.2,1010.1 L282.9,1010.9 L284.6,1010.9 L286.3,1011.1 L288.0,1012.8 L289.7,1014.1 L291.4,1014.5 L293.1,1014.1 L294.8,1014.7 L296.5,1016.5 L298.2,1018.9 L299.9,1020.4 L301.6,1021.3 L303.3,1023.5 L305.0,1025.8 L306.6,1028.0 L308.3,1030.2 L310.0,1031.5 L311.7,1032.9 L313.4,1035.0 L315.1,1036.9 L316.8,1038.6 L318.5,1040.2 L320.2,1041.2 L321.9,1042.4 L323.6,1044.3 L325.3,1046.4 L327.0,1049.2 L328.7,1052.0 L330.4,1052.8 L332.1,1053.1 L333.8,1053.7 L335.5,1054.4 L337.2,1055.3 L338.9,1055.0 L340.5,1053.9 L342.2,1054.0 L343.9,1055.5 L345.6,1055.8 L347.3,1055.4 L349.0,1055.5 L350.7,1055.3 L352.4,1056.3 L354.1,1057.2 L355.8,1056.4 L357.5,1056.7 L359.2,1057.8 L360.9,1057.8 L362.6,1057.7 L364.3,1058.1 L366.0,1059.4 L367.7,1060.4 L369.4,1059.5 L371.1,1058.4 L372.8,1057.9 L374.4,1058.4 L376.1,1059.7 L377.8,1061.1 L379.5,1061.8 L381.2,1062.2 L382.9,1062.6 L384.6,1063.4 L386.3,1064.1 L388.0,1063.4 L389.7,1062.1 L391.4,1061.4 L393.1,1062.0 L394.8,1062.7 L396.5,1062.7 L398.2,1062.9 L399.9,1063.2 L401.6,1062.3 L403.3,1060.4 L405.0,1060.0 L406.7,1060.7 L408.3,1059.8 L410.0,1058.5 L411.7,1058.1 L413.4,1058.4 L415.1,1058.9 L416.8,1058.5 L418.5,1057.4 L420.2,1056.8 L421.9,1057.4 L423.6,1057.1 L425.3,1056.0 L427.0,1055.1 L428.7,1053.7 L430.4,1052.3 L432.1,1050.8 L433.8,1049.3 L435.5,1048.7 L437.2,1048.5 L438.9,1048.5 L440.6,1047.4 L442.2,1045.1 L443.9,1043.0 L445.6,1041.5 L447.3,1040.5 L449.0,1040.6 L450.7,1040.0 L452.4,1038.8 L454.1,1038.1 L455.8,1037.8 L457.5,1036.9 L459.2,1035.7 L460.9,1035.1 L462.6,1034.5 L464.3,1033.6 L466.0,1032.5 L467.7,1031.6 L469.4,1031.0 L471.1,1030.8 L472.8,1029.5 L474.4,1027.9 L476.1,1027.5 L477.8,1027.0 L479.5,1026.8 L481.2,1027.0 L482.9,1025.5 L484.6,1024.8 L486.3,1025.0 L488.0,1024.5 L489.7,1024.7 L491.4,1024.7 L493.1,1024.1 L494.8,1023.0 L496.5,1022.2 L498.2,1022.8 L499.9,1022.2 L501.6,1022.0 L503.3,1023.5 L505.0,1023.3 L506.7,1021.8 L508.4,1021.4 L510.0,1021.0 L511.7,1020.8 L513.4,1021.8 L515.1,1023.3 L516.8,1023.7 L518.5,1022.7 L520.2,1022.1 L521.9,1021.8 L523.6,1022.0 L525.3,1022.2 L527.0,1020.9 L528.7,1020.5 L530.4,1021.6 L532.1,1023.4 L533.8,1024.5 L535.5,1025.2 L537.2,1026.2 L538.9,1027.0 L540.6,1027.1 L542.2,1027.6 L543.9,1028.8 L545.6,1029.7 L547.3,1030.0 L549.0,1032.0 L550.7,1034.6 L552.4,1034.9 L554.1,1034.3 L555.8,1034.8 L557.5,1036.2 L559.2,1038.5 L560.9,1040.2 L562.6,1041.6 L564.3,1043.8 L566.0,1046.1 L567.7,1047.7 L569.4,1049.0 L571.1,1051.5 L572.8,1053.8 L574.5,1054.9 L576.2,1056.6 L577.8,1058.2 L579.5,1059.4 L581.2,1060.8 L582.9,1063.1 L584.6,1065.9 L586.3,1068.4 L588.0,1070.0 L589.7,1070.9 L591.4,1072.4 L593.1,1074.9 L594.8,1078.3 L596.5,1080.9 L598.2,1081.7 L599.9,1083.6 L601.6,1086.2 L603.3,1088.1 L605.0,1089.9 L606.7,1092.6 L608.4,1095.3 L610.0,1096.8 L611.7,1099.1 L613.4,1101.0 L615.1,1101.9 L616.8,1104.2 L618.5,1107.9 L620.2,1110.8 L621.9,1111.6 L623.6,1112.4 L625.3,1114.5 L627.0,1116.8 L628.7,1118.6 L630.4,1119.7 L632.1,1120.2 L633.8,1120.7 L635.5,1122.4 L637.2,1124.7 L638.9,1125.8 L640.6,1126.7 L642.3,1128.3 L644.0,1128.8 L645.6,1128.9 L647.3,1130.4 L649.0,1132.1 L650.7,1133.7 L652.4,1135.5 L654.1,1136.1 L655.8,1135.3 L657.5,1133.8 L659.2,1133.2 L660.9,1133.8 L662.6,1134.7 L664.3,1135.6 L666.0,1136.0 L667.7,1135.3 L669.4,1134.4 L671.1,1133.6 L672.8,1132.3 L674.5,1131.9 L676.2,1131.3 L677.9,1129.6 L679.5,1127.9 L681.2,1125.3 L682.9,1122.1 L684.6,1120.2 L686.3,1118.2 L688.0,1115.6 L689.7,1114.1 L691.4,1113.0 L693.1,1111.1 L694.8,1109.7 L696.5,1108.6 L698.2,1107.2 L699.9,1105.9 L701.6,1104.2 L703.3,1102.1 L705.0,1100.2 L706.7,1098.4 L708.4,1096.4 L710.1,1094.0 L711.8,1091.7 L713.4,1089.6 L715.1,1087.5 L716.8,1085.4 L718.5,1082.9 L720.2,1079.8 L721.9,1076.7 L723.6,1073.2 L725.3,1069.3 L727.0,1066.0 L728.7,1062.5 L730.4,1058.1 L732.1,1053.8 L733.8,1049.9 L735.5,1045.8 L737.2,1041.8 L738.9,1037.7 L740.6,1033.2 L742.3,1028.2 L744.0,1023.3 L745.6,1018.7 L747.3,1013.8 L749.0,1009.2 L750.7,1004.2 L752.4,998.8 L754.1,993.6 L755.8,988.8 L757.5,983.9 L759.2,978.5 L760.9,972.7 L762.6,966.9 L764.3,961.5 L766.0,956.3 L767.7,950.8 L769.4,945.2 L771.1,939.2 L772.8,933.0 L774.5,927.0 L776.2,921.1 L777.9,915.1 L779.6,908.7 L781.2,902.0 L782.9,896.1 L784.6,889.7 L786.3,882.7 L788.0,876.0 L789.7,868.9 L791.4,861.7 L793.1,854.8 L794.8,847.7 L796.5,840.4 L798.2,832.8 L799.9,825.6 L801.6,818.8 L803.3,811.7 L805.0,804.3 L806.7,796.5 L808.4,789.1 L810.1,781.9 L811.8,774.4 L813.5,767.2 L815.1,760.0 L816.8,752.1 L818.5,743.7 L820.2,735.7 L821.9,728.0 L823.6,719.9 L825.3,711.7 L827.0,703.7 L828.7,694.8 L830.4,685.8 L832.1,677.7 L833.8,669.4 L835.5,660.9 L837.2,652.7 L838.9,644.2 L840.6,635.7 L842.3,627.6 L844.0,619.8 L845.7,612.0 L847.4,604.2 L849.0,596.5 L850.7,589.0 L852.4,582.0 L854.1,576.0 L855.8,569.8 L857.5,563.0 L859.2,556.7 L860.9,551.3 L862.6,545.6 L864.3,539.0 L866.0,532.1 L867.7,525.5 L869.4,518.5 L871.1,510.8 L872.8,503.3 L874.5,496.1 L876.2,489.1 L877.9,481.8 L879.6,474.5 L881.2,467.9 L882.9,462.0 L884.6,456.0 L886.3,449.6 L888.0,443.0 L889.7,436.7 L891.4,430.2 L893.1,423.8 L894.8,417.4 L896.5,410.4 L898.2,404.4 L899.9,399.3 L901.6,394.1 L903.3,389.6 L905.0,386.1 L906.7,382.4 L908.4,378.5 L910.1,375.4 L911.8,372.7 L913.5,369.9 L915.1,366.9 L916.8,364.2 L918.5,362.2 L920.2,360.6 L921.9,359.5 L923.6,359.0 L925.3,358.4 L927.0,357.8 L928.7,357.3 L930.4,357.2 L932.1,358.1 L933.8,359.6 L935.5,361.2 L937.2,363.4 L938.9,365.7 L940.6,368.1 L942.3,371.4 L944.0,375.2 L945.7,379.6 L947.4,384.7 L949.1,390.1 L950.7,396.4 L952.4,404.4 L954.1,411.8 L955.8,419.2 L957.5,428.0 L959.2,437.6 L960.9,447.7 L962.6,458.6 L964.3,470.2 L966.0,481.7 L967.7,493.2 L969.4,505.4 L971.1,518.3 L972.8,531.6 L974.5,545.9 L976.2,561.1 L977.9,576.6 L979.6,591.7 L981.3,606.3 L983.0,620.6 L984.6,634.9 L986.3,649.4 L988.0,664.0 L989.7,678.5 L991.4,693.0 L993.1,707.8 L994.8,722.7 L996.5,737.8 L998.2,753.3 L999.9,768.8 L1001.6,784.7 L1003.3,801.3 L1005.0,818.5 L1006.7,835.5 L1008.4,852.3 L1010.1,869.6 L1011.8,886.2 L1013.5,902.0 L1015.2,917.0 L1016.9,930.5 L1018.5,942.8 L1020.2,955.3 L1021.9,967.6 L1023.6,979.4 L1025.3,990.9 L1027.0,1001.9 L1028.7,1012.8 L1030.4,1023.2 L1032.1,1032.9 L1033.8,1042.1 L1035.5,1051.2 L1037.2,1060.2 L1038.9,1068.7 L1040.6,1075.8 L1042.3,1082.4 L1044.0,1089.5 L1045.7,1096.7 L1047.4,1103.2 L1049.1,1109.3 L1050.8,1115.3 L1052.4,1121.3 L1054.1,1127.4 L1055.8,1133.2 L1057.5,1139.2 L1059.2,1145.2 L1060.9,1150.2 L1062.6,1154.7 L1064.3,1158.8 L1066.0,1162.2 L1067.7,1165.2 L1069.4,1168.3 L1071.1,1171.5 L1072.8,1173.8 L1074.5,1176.0 L1076.2,1178.5 L1077.9,1180.8 L1079.6,1182.8 L1081.3,1184.5 L1083.0,1185.5 L1084.7,1186.6 L1086.3,1187.5 L1088.0,1188.3 L1089.7,1189.7 L1091.4,1190.9 L1093.1,1192.0 L1094.8,1193.5 L1096.5,1194.5 L1098.2,1195.0 L1099.9,1195.4 L1101.6,1195.8 L1103.3,1196.1 L1105.0,1196.2 L1106.7,1196.5 L1108.4,1197.4 L1110.1,1198.1 L1111.8,1198.4 L1113.5,1198.8 L1115.2,1199.5 L1116.9,1199.7 L1118.6,1199.8 L1120.2,1200.0 L1121.9,1200.1 L1123.6,1200.6 L1125.3,1201.3 L1127.0,1201.7 L1128.7,1201.8 L1130.4,1201.9 L1132.1,1202.0 L1133.8,1201.9 L1135.5,1201.7 L1137.2,1201.8 L1138.9,1202.3 L1140.6,1202.4 L1142.3,1202.0 L1144.0,1201.9 L1145.7,1201.9 L1147.4,1201.9 L1149.1,1201.9 L1150.8,1201.7 L1152.5,1201.9 L1154.1,1202.2 L1155.8,1202.5 L1157.5,1202.5 L1159.2,1202.4 L1160.9,1202.6 L1162.6,1202.5 L1164.3,1202.2 L1166.0,1202.3 L1167.7,1202.8 L1169.4,1202.9 L1171.1,1202.6 L1172.8,1202.4 L1174.5,1202.4 L1176.2,1202.5 L1177.9,1202.5 L1179.6,1202.2 L1181.3,1202.2 L1183.0,1202.5 L1184.7,1202.8 L1186.4,1202.9 L1188.0,1202.5 L1189.7,1202.3 L1191.4,1202.4 L1193.1,1202.6 L1194.8,1203.2 L1196.5,1203.5 L1198.2,1203.2 L1199.9,1202.9 L1201.6,1202.6 L1203.3,1202.6 L1205.0,1202.4 L1206.7,1202.4 L1208.4,1202.7 L1210.1,1203.1 L1211.8,1202.8 L1213.5,1202.4 L1215.2,1202.9 L1216.9,1202.7 L1218.6,1202.1 L1220.2,1202.3 L1221.9,1202.7 L1223.6,1202.5 L1225.3,1202.1 L1227.0,1202.2 L1228.7,1202.5 L1230.4,1202.4 L1232.1,1202.2 L1233.8,1202.0 L1235.5,1202.0 L1237.2,1202.6 L1238.9,1202.9 L1240.6,1202.4 L1242.3,1201.9 L1244.0,1202.0 L1245.7,1202.0 L1247.4,1202.0 L1249.1,1202.3 L1250.8,1202.5 L1252.5,1202.5 L1254.2,1202.6 L1255.8,1202.3 L1257.5,1202.2 L1259.2,1202.6 L1260.9,1203.0 L1262.6,1203.0 L1264.3,1202.7 L1266.0,1202.5 L1267.7,1202.6 L1269.4,1202.8 L1271.1,1202.6 L1272.8,1202.3 L1274.5,1202.3 L1276.2,1202.3 L1277.9,1202.3 L1279.6,1202.8 L1281.3,1202.9 L1283.0,1202.4 L1284.7,1202.2 L1286.4,1202.5 L1288.0,1203.2 L1289.7,1203.6 L1291.4,1203.5 L1293.1,1202.9 L1294.8,1202.3 L1296.5,1202.2 L1298.2,1202.4 L1299.9,1202.4 L1301.6,1202.3 L1303.3,1202.4 L1305.0,1202.4 L1306.7,1202.7 L1308.4,1203.1"/>
<path d="M116.3,995.0 L118.5,993.2 L120.2,990.3 L121.9,987.6 L123.6,984.4 L125.3,980.1 L127.0,975.3 L128.7,972.9 L130.4,971.9 L132.1,969.4 L133.8,964.3 L135.4,960.3 L137.1,947.9 L138.8,932.6 L140.5,921.3 L142.2,911.9 L143.9,902.5 L145.6,897.2 L147.3,893.7 L149.0,889.6 L150.7,887.5 L152.4,884.7 L154.1,880.4 L155.8,874.1 L157.5,868.0 L159.2,867.1 L160.9,867.0 L162.6,863.2 L164.3,859.1 L166.0,855.6 L167.7,853.3 L169.3,854.2 L171.0,854.7 L172.7,851.0 L174.4,848.6 L176.1,847.7 L177.8,842.7 L179.5,839.1 L181.2,841.4 L182.9,840.1 L184.6,837.4 L186.3,840.5 L188.0,844.0 L189.7,842.8 L191.4,838.9 L193.1,837.4 L194.8,839.2 L196.5,838.7 L198.2,836.6 L199.9,839.9 L201.6,845.5 L203.2,845.8 L204.9,844.1 L206.6,844.7 L208.3,848.5 L210.0,854.2 L211.7,859.6 L213.4,864.2 L215.1,866.1 L216.8,868.4 L218.5,870.4 L220.2,873.9 L221.9,876.8 L223.6,879.3 L225.3,882.4 L227.0,884.4 L228.7,888.6 L230.4,894.1 L232.1,899.6 L233.8,906.9 L235.5,915.6 L237.2,922.6 L238.8,925.4 L240.5,926.9 L242.2,930.3 L243.9,933.8 L245.6,937.1 L247.3,942.6 L249.0,947.6 L250.7,952.9 L252.4,959.5 L254.1,965.5 L255.8,971.0 L257.5,976.6 L259.2,981.1 L260.9,984.7 L262.6,988.3 L264.3,993.6 L266.0,997.6 L267.7,999.3 L269.4,999.4 L271.1,1000.1 L272.7,1002.4 L274.4,1003.8 L276.1,1004.5 L277.8,1006.5 L279.5,1007.1 L281.2,1006.4 L282.9,1007.4 L284.6,1010.0 L286.3,1012.7 L288.0,1014.5 L289.7,1015.1 L291.4,1015.7 L293.1,1016.8 L294.8,1018.0 L296.5,1018.8 L298.2,1019.4 L299.9,1020.4 L301.6,1021.8 L303.3,1024.8 L305.0,1028.3 L306.6,1030.7 L308.3,1032.6 L310.0,1033.7 L311.7,1034.3 L313.4,1036.0 L315.1,1038.1 L316.8,1039.9 L318.5,1042.3 L320.2,1044.7 L321.9,1046.5 L323.6,1047.1 L325.3,1048.0 L327.0,1049.9 L328.7,1050.8 L330.4,1052.1 L332.1,1053.9 L333.8,1054.8 L335.5,1055.2 L337.2,1055.0 L338.9,1054.9 L340.5,1055.1 L342.2,1054.8 L343.9,1055.0 L345.6,1055.7 L347.3,1056.4 L349.0,1056.9 L350.7,1057.5 L352.4,1058.1 L354.1,1058.0 L355.8,1058.3 L357.5,1058.4 L359.2,1058.1 L360.9,1059.5 L362.6,1060.4 L364.3,1060.6 L366.0,1061.6 L367.7,1062.1 L369.4,1062.3 L371.1,1062.1 L372.8,1061.5 L374.4,1061.0 L376.1,1060.7 L377.8,1060.8 L379.5,1061.1 L381.2,1062.0 L382.9,1062.7 L384.6,1062.9 L386.3,1063.7 L388.0,1064.0 L389.7,1063.1 L391.4,1063.4 L393.1,1063.8 L394.8,1063.2 L396.5,1063.4 L398.2,1064.1 L399.9,1064.0 L401.6,1063.5 L403.3,1062.9 L405.0,1061.9 L406.7,1060.7 L408.3,1060.6 L410.0,1061.1 L411.7,1061.1 L413.4,1060.8 L415.1,1059.9 L416.8,1058.9 L418.5,1059.3 L420.2,1060.0 L421.9,1059.0 L423.6,1057.7 L425.3,1056.9 L427.0,1056.3 L428.7,1056.0 L430.4,1055.0 L432.1,1053.9 L433.8,1052.6 L435.5,1051.1 L437.2,1050.2 L438.9,1049.6 L440.6,1049.0 L442.2,1048.7 L443.9,1047.6 L445.6,1045.5 L447.3,1044.8 L449.0,1044.7 L450.7,1043.4 L452.4,1041.0 L454.1,1038.9 L455.8,1037.7 L457.5,1038.0 L459.2,1038.5 L460.9,1037.2 L462.6,1035.4 L464.3,1034.5 L466.0,1033.9 L467.7,1032.8 L469.4,1031.0 L471.1,1030.2 L472.8,1030.8 L474.4,1030.1 L476.1,1028.4 L477.8,1027.8 L479.5,1026.4 L481.2,1025.9 L482.9,1026.9 L484.6,1026.9 L486.3,1026.4 L488.0,1025.8 L489.7,1024.9 L491.4,1024.1 L493.1,1024.4 L494.8,1024.6 L496.5,1024.2 L498.2,1024.5 L499.9,1024.0 L501.6,1023.0 L503.3,1023.8 L505.0,1024.2 L506.7,1023.8 L508.4,1024.7 L510.0,1024.7 L511.7,1023.6 L513.4,1023.7 L515.1,1024.2 L516.8,1024.2 L518.5,1024.6 L520.2,1024.5 L521.9,1023.0 L523.6,1021.7 L525.3,1022.2 L527.0,1023.5 L528.7,1024.6 L530.4,1024.8 L532.1,1025.1 L533.8,1025.4 L535.5,1026.2 L537.2,1027.2 L538.9,1028.2 L540.6,1029.8 L542.2,1030.7 L543.9,1031.2 L545.6,1032.7 L547.3,1033.8 L549.0,1034.2 L550.7,1034.7 L552.4,1034.9 L554.1,1035.2 L555.8,1036.4 L557.5,1037.6 L559.2,1039.3 L560.9,1041.5 L562.6,1044.0 L564.3,1045.7 L566.0,1047.7 L567.7,1049.7 L569.4,1050.9 L571.1,1052.3 L572.8,1053.4 L574.5,1055.8 L576.2,1059.0 L577.8,1059.8 L579.5,1060.0 L581.2,1061.7 L582.9,1064.0 L584.6,1067.1 L586.3,1070.3 L588.0,1071.9 L589.7,1072.5 L591.4,1074.4 L593.1,1077.3 L594.8,1079.4 L596.5,1081.6 L598.2,1084.4 L599.9,1085.6 L601.6,1085.8 L603.3,1087.6 L605.0,1090.4 L606.7,1092.8 L608.4,1095.9 L610.0,1099.4 L611.7,1101.5 L613.4,1102.4 L615.1,1103.4 L616.8,1104.8 L618.5,1107.4 L620.2,1110.9 L621.9,1112.9 L623.6,1113.6 L625.3,1115.1 L627.0,1117.7 L628.7,1119.5 L630.4,1119.5 L632.1,1120.4 L633.8,1122.7 L635.5,1124.1 L637.2,1125.0 L638.9,1126.1 L640.6,1127.0 L642.3,1128.0 L644.0,1130.0 L645.6,1132.0 L647.3,1133.8 L649.0,1135.7 L650.7,1135.8 L652.4,1135.4 L654.1,1135.8 L655.8,1136.5 L657.5,1137.0 L659.2,1137.7 L660.9,1137.2 L662.6,1136.2 L664.3,1136.4 L666.0,1136.7 L667.7,1135.3 L669.4,1134.3 L671.1,1134.2 L672.8,1133.8 L674.5,1133.7 L676.2,1132.4 L677.9,1129.4 L679.5,1127.2 L681.2,1125.8 L682.9,1124.3 L684.6,1122.2 L686.3,1119.3 L688.0,1117.2 L689.7,1117.0 L691.4,1116.1 L693.1,1113.3 L694.8,1111.2 L696.5,1110.4 L698.2,1108.7 L699.9,1106.9 L701.6,1105.5 L703.3,1104.4 L705.0,1103.1 L706.7,1101.3 L708.4,1099.2 L710.1,1097.0 L711.8,1094.9 L713.4,1092.7 L715.1,1090.4 L716.8,1088.4 L718.5,1085.9 L720.2,1083.0 L721.9,1079.9 L723.6,1076.4 L725.3,1072.8 L727.0,1069.2 L728.7,1065.3 L730.4,1061.8 L732.1,1058.3 L733.8,1054.8 L735.5,1050.9 L737.2,1046.5 L738.9,1042.0 L740.6,1037.5 L742.3,1033.2 L744.0,1029.2 L745.6,1024.8 L747.3,1019.7 L749.0,1014.5 L750.7,1009.7 L752.4,1005.2 L754.1,1000.2 L755.8,994.9 L757.5,989.8 L759.2,985.0 L760.9,980.0 L762.6,974.3 L764.3,968.6 L766.0,963.0 L767.7,957.5 L769.4,952.2 L771.1,946.6 L772.8,940.8 L774.5,935.0 L776.2,929.3 L777.9,923.4 L779.6,917.2 L781.2,910.7 L782.9,904.3 L784.6,897.8 L786.3,891.4 L788.0,885.3 L789.7,878.5 L791.4,871.3 L793.1,865.0 L794.8,858.3 L796.5,850.8 L798.2,843.8 L799.9,837.1 L801.6,829.9 L803.3,823.1 L805.0,816.0 L806.7,808.6 L808.4,801.4 L810.1,794.2 L811.8,786.9 L813.5,779.6 L815.1,772.1 L816.8,764.5 L818.5,756.9 L820.2,749.6 L821.9,742.1 L823.6,734.1 L825.3,725.5 L827.0,716.8 L828.7,708.8 L830.4,700.9 L832.1,692.7 L833.8,684.6 L835.5,676.3 L837.2,668.0 L838.9,659.8 L840.6,651.8 L842.3,644.1 L844.0,636.4 L845.7,629.0 L847.4,621.2 L849.0,613.0 L850.7,605.4 L852.4,599.1 L854.1,593.4 L855.8,587.2 L857.5,581.1 L859.2,575.6 L860.9,569.7 L862.6,563.5 L864.3,557.3 L866.0,550.6 L867.7,544.0 L869.4,537.7 L871.1,531.0 L872.8,524.0 L874.5,516.7 L876.2,509.1 L877.9,501.9 L879.6,495.3 L881.2,489.0 L882.9,482.9 L884.6,476.8 L886.3,470.9 L888.0,464.4 L889.7,457.7 L891.4,451.7 L893.1,446.0 L894.8,439.7 L896.5,432.5 L898.2,426.5 L899.9,422.0 L901.6,417.3 L903.3,412.7 L905.0,408.8 L906.7,405.4 L908.4,401.9 L910.1,398.3 L911.8,395.0 L913.5,392.6 L915.1,390.6 L916.8,388.4 L918.5,386.0 L920.2,384.5 L921.9,383.6 L923.6,382.9 L925.3,382.4 L927.0,382.1 L928.7,381.9 L930.4,382.1 L932.1,382.7 L933.8,383.8 L935.5,384.9 L937.2,386.7 L938.9,389.0 L940.6,391.5 L942.3,394.7 L944.0,399.1 L945.7,403.6 L947.4,407.8 L949.1,412.7 L950.7,418.8 L952.4,426.8 L954.1,434.1 L955.8,441.3 L957.5,449.6 L959.2,459.1 L960.9,469.4 L962.6,480.1 L964.3,490.7 L966.0,501.2 L967.7,512.9 L969.4,525.6 L971.1,538.5 L972.8,551.3 L974.5,565.1 L976.2,579.8 L977.9,594.7 L979.6,609.3 L981.3,623.3 L983.0,636.8 L984.6,650.9 L986.3,665.4 L988.0,679.5 L989.7,693.3 L991.4,707.7 L993.1,722.1 L994.8,736.3 L996.5,750.7 L998.2,765.3 L999.9,780.6 L1001.6,796.7 L1003.3,813.0 L1005.0,829.6 L1006.7,846.6 L1008.4,863.1 L1010.1,879.2 L1011.8,895.3 L1013.5,910.3 L1015.2,924.7 L1016.9,938.4 L1018.5,950.7 L1020.2,962.6 L1021.9,974.4 L1023.6,986.1 L1025.3,997.4 L1027.0,1007.8 L1028.7,1017.7 L1030.4,1027.9 L1032.1,1038.1 L1033.8,1047.4 L1035.5,1056.2 L1037.2,1064.4 L1038.9,1072.0 L1040.6,1079.5 L1042.3,1086.9 L1044.0,1093.4 L1045.7,1099.7 L1047.4,1106.1 L1049.1,1112.1 L1050.8,1117.9 L1052.4,1123.7 L1054.1,1129.7 L1055.8,1135.8 L1057.5,1141.2 L1059.2,1146.4 L1060.9,1151.1 L1062.6,1155.4 L1064.3,1159.1 L1066.0,1162.6 L1067.7,1166.0 L1069.4,1169.4 L1071.1,1172.6 L1072.8,1175.0 L1074.5,1177.0 L1076.2,1179.4 L1077.9,1182.1 L1079.6,1183.6 L1081.3,1184.7 L1083.0,1186.4 L1084.7,1187.4 L1086.3,1187.8 L1088.0,1189.2 L1089.7,1190.6 L1091.4,1191.3 L1093.1,1192.0 L1094.8,1193.0 L1096.5,1194.0 L1098.2,1194.9 L1099.9,1195.9 L1101.6,1196.3 L1103.3,1196.5 L1105.0,1196.7 L1106.7,1197.0 L1108.4,1198.1 L1110.1,1199.2 L1111.8,1199.2 L1113.5,1199.1 L1115.2,1199.4 L1116.9,1200.0 L1118.6,1200.3 L1120.2,1200.4 L1121.9,1200.7 L1123.6,1201.1 L1125.3,1201.5 L1127.0,1201.8 L1128.7,1201.9 L1130.4,1202.6 L1132.1,1202.6 L1133.8,1202.2 L1135.5,1202.1 L1137.2,1202.1 L1138.9,1202.3 L1140.6,1202.1 L1142.3,1201.8 L1144.0,1202.1 L1145.7,1202.6 L1147.4,1202.9 L1149.1,1202.7 L1150.8,1202.3 L1152.5,1202.2 L1154.1,1202.5 L1155.8,1202.6 L1157.5,1202.7 L1159.2,1203.0 L1160.9,1202.9 L1162.6,1202.8 L1164.3,1202.8 L1166.0,1202.8 L1167.7,1202.9 L1169.4,1202.7 L1171.1,1202.1 L1172.8,1202.0 L1174.5,1202.1 L1176.2,1202.3 L1177.9,1202.2 L1179.6,1202.1 L1181.3,1201.8 L1183.0,1201.8 L1184.7,1202.3 L1186.4,1202.6 L1188.0,1203.1 L1189.7,1203.8 L1191.4,1203.5 L1193.1,1202.7 L1194.8,1202.5 L1196.5,1202.5 L1198.2,1202.2 L1199.9,1202.1 L1201.6,1202.3 L1203.3,1202.0 L1205.0,1201.8 L1206.7,1202.4 L1208.4,1202.6 L1210.1,1202.3 L1211.8,1202.5 L1213.5,1202.7 L1215.2,1202.7 L1216.9,1202.6 L1218.6,1202.3 L1220.2,1202.0 L1221.9,1202.1 L1223.6,1202.4 L1225.3,1202.8 L1227.0,1202.6 L1228.7,1202.4 L1230.4,1202.2 L1232.1,1201.9 L1233.8,1202.3 L1235.5,1202.6 L1237.2,1202.2 L1238.9,1202.2 L1240.6,1202.5 L1242.3,1202.6 L1244.0,1202.4 L1245.7,1202.2 L1247.4,1202.3 L1249.1,1202.5 L1250.8,1202.4 L1252.5,1202.2 L1254.2,1202.7 L1255.8,1203.5 L1257.5,1203.4 L1259.2,1203.0 L1260.9,1202.7 L1262.6,1202.4 L1264.3,1202.2 L1266.0,1202.3 L1267.7,1202.5 L1269.4,1202.4 L1271.1,1202.2 L1272.8,1202.5 L1274.5,1202.4 L1276.2,1202.1 L1277.9,1202.6 L1279.6,1203.1 L1281.3,1202.8 L1283.0,1202.7 L1284.7,1202.5 L1286.4,1202.2 L1288.0,1202.3 L1289.7,1202.5 L1291.4,1202.3 L1293.1,1202.3 L1294.8,1202.5 L1296.5,1202.5 L1298.2,1202.5 L1299.9,1202.7 L1301.6,1202.8 L1303.3,1202.8 L1305.0,1203.0 L1306.7,1202.9 L1308.4,1202.4"/>
<path d="M116.3,996.4 L118.5,995.2 L120.2,991.6 L121.9,987.9 L123.6,984.3 L125.3,981.2 L127.0,977.6 L128.7,973.5 L130.4,969.2 L132.1,965.7 L133.8,963.8 L135.4,959.1 L137.1,945.0 L138.8,934.2 L140.5,923.7 L142.2,912.2 L143.9,905.5 L145.6,902.1 L147.3,899.0 L149.0,893.5 L150.7,886.6 L152.4,879.6 L154.1,875.3 L155.8,871.9 L157.5,866.7 L159.2,867.0 L160.9,870.8 L162.6,866.9 L164.3,858.4 L166.0,856.2 L167.7,857.4 L169.3,856.7 L171.0,852.8 L172.7,847.1 L174.4,843.8 L176.1,842.2 L177.8,846.5 L179.5,849.5 L181.2,844.4 L182.9,842.1 L184.6,840.0 L186.3,836.3 L188.0,836.7 L189.7,837.0 L191.4,839.3 L193.1,841.2 L194.8,840.6 L196.5,840.2 L198.2,838.0 L199.9,838.3 L201.6,841.3 L203.2,842.3 L204.9,843.8 L206.6,845.6 L208.3,846.9 L210.0,851.0 L211.7,856.0 L213.4,861.2 L215.1,864.1 L216.8,867.7 L218.5,871.8 L220.2,874.5 L221.9,874.9 L223.6,875.9 L225.3,880.7 L227.0,883.1 L228.7,885.5 L230.4,893.3 L232.1,901.3 L233.8,905.3 L235.5,910.7 L237.2,918.7 L238.8,922.8 L240.5,925.9 L242.2,930.8 L243.9,935.8 L245.6,940.9 L247.3,945.9 L249.0,950.0 L250.7,954.4 L252.4,960.0 L254.1,966.4 L255.8,971.7 L257.5,978.1 L259.2,985.8 L260.9,991.0 L262.6,992.7 L264.3,994.7 L266.0,997.1 L267.7,1000.3 L269.4,1001.7 L271.1,1001.6 L272.7,1003.6 L274.4,1006.4 L276.1,1007.5 L277.8,1007.5 L279.5,1007.5 L281.2,1009.6 L282.9,1011.8 L284.6,1012.7 L286.3,1013.9 L288.0,1014.7 L289.7,1015.0 L291.4,1016.0 L293.1,1016.8 L294.8,1018.0 L296.5,1019.2 L298.2,1019.4 L299.9,1020.6 L301.6,1023.4 L303.3,1025.9 L305.0,1027.5 L306.6,1029.5 L308.3,1031.3 L310.0,1032.1 L311.7,1034.3 L313.4,1037.0 L315.1,1038.4 L316.8,1039.4 L318.5,1040.9 L320.2,1042.7 L321.9,1044.0 L323.6,1046.2 L325.3,1049.4 L327.0,1051.6 L328.7,1053.0 L330.4,1053.7 L332.1,1053.6 L333.8,1054.5 L335.5,1055.9 L337.2,1055.8 L338.9,1055.5 L340.5,1056.3 L342.2,1056.6 L343.9,1057.2 L345.6,1057.9 L347.3,1057.3 L349.0,1057.0 L350.7,1057.8 L352.4,1059.0 L354.1,1059.6 L355.8,1059.5 L357.5,1059.3 L359.2,1059.4 L360.9,1059.2 L362.6,1058.6 L364.3,1059.3 L366.0,1061.0 L367.7,1061.2 L369.4,1060.5 L371.1,1060.8 L372.8,1060.6 L374.4,1060.9 L376.1,1062.4 L377.8,1063.1 L379.5,1063.4 L381.2,1064.3 L382.9,1064.8 L384.6,1064.4 L386.3,1064.1 L388.0,1064.8 L389.7,1065.5 L391.4,1066.2 L393.1,1065.8 L394.8,1065.2 L396.5,1065.9 L398.2,1065.4 L399.9,1064.3 L401.6,1064.2 L403.3,1063.0 L405.0,1062.2 L406.7,1062.6 L408.3,1062.6 L410.0,1062.2 L411.7,1061.4 L413.4,1060.8 L415.1,1060.1 L416.8,1059.3 L418.5,1058.9 L420.2,1058.5 L421.9,1059.0 L423.6,1059.6 L425.3,1058.8 L427.0,1058.0 L428.7,1057.2 L430.4,1055.4 L432.1,1054.2 L433.8,1053.8 L435.5,1053.2 L437.2,1051.9 L438.9,1050.6 L440.6,1049.8 L442.2,1049.4 L443.9,1048.6 L445.6,1046.8 L447.3,1046.6 L449.0,1046.7 L450.7,1045.2 L452.4,1043.2 L454.1,1041.7 L455.8,1040.8 L457.5,1040.0 L459.2,1038.6 L460.9,1036.7 L462.6,1035.4 L464.3,1035.2 L466.0,1035.3 L467.7,1034.9 L469.4,1034.1 L471.1,1032.8 L472.8,1032.2 L474.4,1032.7 L476.1,1032.3 L477.8,1031.5 L479.5,1030.6 L481.2,1029.9 L482.9,1029.7 L484.6,1029.3 L486.3,1028.0 L488.0,1027.6 L489.7,1028.1 L491.4,1027.8 L493.1,1027.0 L494.8,1026.9 L496.5,1026.5 L498.2,1025.4 L499.9,1024.6 L501.6,1024.8 L503.3,1024.4 L505.0,1023.1 L506.7,1023.0 L508.4,1024.4 L510.0,1024.5 L511.7,1024.2 L513.4,1024.7 L515.1,1024.7 L516.8,1024.8 L518.5,1025.3 L520.2,1025.7 L521.9,1026.1 L523.6,1026.4 L525.3,1025.7 L527.0,1023.7 L528.7,1022.9 L530.4,1023.8 L532.1,1024.9 L533.8,1025.5 L535.5,1026.0 L537.2,1027.0 L538.9,1028.6 L540.6,1030.2 L542.2,1031.1 L543.9,1032.4 L545.6,1034.1 L547.3,1034.6 L549.0,1034.3 L550.7,1035.0 L552.4,1036.3 L554.1,1036.0 L555.8,1036.7 L557.5,1038.9 L559.2,1041.2 L560.9,1042.4 L562.6,1043.8 L564.3,1046.4 L566.0,1048.6 L567.7,1050.5 L569.4,1052.6 L571.1,1053.4 L572.8,1054.1 L574.5,1056.0 L576.2,1058.0 L577.8,1059.8 L579.5,1061.8 L581.2,1064.3 L582.9,1066.7 L584.6,1068.5 L586.3,1069.6 L588.0,1070.4 L589.7,1072.2 L591.4,1075.3 L593.1,1078.5 L594.8,1080.7 L596.5,1081.8 L598.2,1083.0 L599.9,1085.5 L601.6,1088.4 L603.3,1090.6 L605.0,1092.0 L606.7,1094.1 L608.4,1096.5 L610.0,1098.1 L611.7,1099.7 L613.4,1101.9 L615.1,1103.5 L616.8,1105.7 L618.5,1108.4 L620.2,1110.7 L621.9,1113.1 L623.6,1115.2 L625.3,1116.8 L627.0,1118.0 L628.7,1118.9 L630.4,1120.0 L632.1,1121.2 L633.8,1123.6 L635.5,1126.5 L637.2,1127.7 L638.9,1128.6 L640.6,1129.4 L642.3,1130.3 L644.0,1130.7 L645.6,1131.7 L647.3,1133.8 L649.0,1134.7 L650.7,1136.0 L652.4,1137.6 L654.1,1136.9 L655.8,1136.8 L657.5,1137.6 L659.2,1136.7 L660.9,1135.5 L662.6,1137.2 L664.3,1139.1 L666.0,1138.8 L667.7,1137.8 L669.4,1136.8 L671.1,1136.1 L672.8,1135.0 L674.5,1133.3 L676.2,1132.3 L677.9,1131.5 L679.5,1129.6 L681.2,1127.0 L682.9,1124.4 L684.6,1122.7 L686.3,1121.5 L688.0,1119.8 L689.7,1117.4 L691.4,1115.5 L693.1,1114.8 L694.8,1113.4 L696.5,1112.1 L698.2,1110.8 L699.9,1109.2 L701.6,1107.6 L703.3,1106.0 L705.0,1104.0 L706.7,1102.0 L708.4,1100.3 L710.1,1098.7 L711.8,1096.5 L713.4,1094.3 L715.1,1092.6 L716.8,1090.4 L718.5,1087.6 L720.2,1084.8 L721.9,1081.9 L723.6,1078.7 L725.3,1075.2 L727.0,1071.7 L728.7,1068.5 L730.4,1065.0 L732.1,1061.3 L733.8,1057.5 L735.5,1053.7 L737.2,1049.6 L738.9,1045.0 L740.6,1040.2 L742.3,1035.8 L744.0,1031.9 L745.6,1027.8 L747.3,1023.2 L749.0,1018.8 L750.7,1014.0 L752.4,1009.0 L754.1,1004.5 L755.8,999.6 L757.5,994.7 L759.2,990.0 L760.9,985.1 L762.6,979.9 L764.3,974.4 L766.0,968.7 L767.7,963.4 L769.4,958.6 L771.1,953.2 L772.8,947.6 L774.5,942.2 L776.2,936.3 L777.9,930.2 L779.6,924.3 L781.2,918.5 L782.9,912.1 L784.6,905.6 L786.3,899.5 L788.0,892.9 L789.7,885.7 L791.4,879.2 L793.1,873.3 L794.8,866.7 L796.5,859.6 L798.2,852.8 L799.9,845.9 L801.6,838.7 L803.3,831.9 L805.0,825.5 L806.7,818.7 L808.4,811.0 L810.1,803.3 L811.8,796.4 L813.5,789.6 L815.1,782.0 L816.8,774.6 L818.5,767.4 L820.2,760.0 L821.9,752.0 L823.6,744.0 L825.3,736.3 L827.0,728.5 L828.7,720.6 L830.4,712.9 L832.1,704.8 L833.8,696.6 L835.5,688.6 L837.2,680.5 L838.9,672.3 L840.6,664.4 L842.3,657.0 L844.0,649.7 L845.7,642.1 L847.4,634.9 L849.0,628.0 L850.7,620.8 L852.4,613.6 L854.1,607.2 L855.8,601.6 L857.5,595.9 L859.2,589.9 L860.9,583.8 L862.6,577.9 L864.3,572.6 L866.0,566.8 L867.7,560.0 L869.4,553.0 L871.1,545.9 L872.8,538.6 L874.5,531.4 L876.2,525.1 L877.9,518.9 L879.6,512.4 L881.2,505.6 L882.9,499.2 L884.6,493.2 L886.3,487.1 L888.0,481.1 L889.7,475.1 L891.4,469.4 L893.1,463.9 L894.8,457.9 L896.5,451.6 L898.2,445.6 L899.9,439.8 L901.6,434.6 L903.3,430.5 L905.0,427.2 L906.7,424.0 L908.4,420.6 L910.1,417.1 L911.8,414.2 L913.5,411.7 L915.1,409.2 L916.8,407.2 L918.5,405.6 L920.2,403.6 L921.9,402.3 L923.6,401.7 L925.3,400.8 L927.0,399.8 L928.7,399.3 L930.4,399.8 L932.1,401.3 L933.8,402.6 L935.5,404.0 L937.2,406.1 L938.9,408.4 L940.6,410.4 L942.3,412.7 L944.0,416.3 L945.7,421.0 L947.4,426.1 L949.1,431.5 L950.7,437.4 L952.4,444.6 L954.1,451.4 L955.8,458.4 L957.5,467.1 L959.2,476.2 L960.9,485.6 L962.6,495.9 L964.3,506.6 L966.0,517.9 L967.7,529.5 L969.4,541.2 L971.1,553.4 L972.8,566.2 L974.5,580.3 L976.2,594.7 L977.9,608.4 L979.6,622.1 L981.3,636.2 L983.0,650.2 L984.6,663.9 L986.3,677.9 L988.0,691.8 L989.7,705.6 L991.4,719.2 L993.1,733.0 L994.8,747.2 L996.5,761.3 L998.2,775.9 L999.9,791.2 L1001.6,806.6 L1003.3,822.2 L1005.0,838.3 L1006.7,854.7 L1008.4,871.1 L1010.1,886.7 L1011.8,902.0 L1013.5,917.4 L1015.2,931.8 L1016.9,944.9 L1018.5,956.9 L1020.2,968.5 L1021.9,979.9 L1023.6,991.1 L1025.3,1001.9 L1027.0,1012.5 L1028.7,1023.2 L1030.4,1032.9 L1032.1,1042.0 L1033.8,1051.1 L1035.5,1059.6 L1037.2,1067.9 L1038.9,1075.7 L1040.6,1083.1 L1042.3,1089.9 L1044.0,1096.2 L1045.7,1102.4 L1047.4,1108.1 L1049.1,1113.5 L1050.8,1119.7 L1052.4,1125.9 L1054.1,1131.3 L1055.8,1136.8 L1057.5,1142.1 L1059.2,1147.5 L1060.9,1152.7 L1062.6,1156.7 L1064.3,1160.2 L1066.0,1163.9 L1067.7,1167.6 L1069.4,1171.2 L1071.1,1173.5 L1072.8,1175.7 L1074.5,1178.6 L1076.2,1180.8 L1077.9,1182.2 L1079.6,1183.5 L1081.3,1185.0 L1083.0,1186.9 L1084.7,1187.9 L1086.3,1188.9 L1088.0,1190.3 L1089.7,1191.0 L1091.4,1191.3 L1093.1,1192.2 L1094.8,1193.8 L1096.5,1195.2 L1098.2,1195.5 L1099.9,1195.7 L1101.6,1196.4 L1103.3,1196.4 L1105.0,1196.4 L1106.7,1197.4 L1108.4,1198.4 L1110.1,1198.6 L1111.8,1199.0 L1113.5,1199.4 L1115.2,1199.6 L1116.9,1199.8 L1118.6,1200.3 L1120.2,1201.0 L1121.9,1201.1 L1123.6,1201.2 L1125.3,1201.3 L1127.0,1201.3 L1128.7,1201.6 L1130.4,1202.1 L1132.1,1201.9 L1133.8,1201.4 L1135.5,1201.5 L1137.2,1202.0 L1138.9,1202.2 L1140.6,1202.6 L1142.3,1202.8 L1144.0,1202.4 L1145.7,1202.2 L1147.4,1202.3 L1149.1,1202.4 L1150.8,1202.5 L1152.5,1202.6 L1154.1,1202.4 L1155.8,1202.3 L1157.5,1202.4 L1159.2,1202.6 L1160.9,1203.1 L1162.6,1202.9 L1164.3,1202.1 L1166.0,1201.9 L1167.7,1202.3 L1169.4,1202.8 L1171.1,1203.0 L1172.8,1202.6 L1174.5,1202.6 L1176.2,1202.9 L1177.9,1202.6 L1179.6,1202.4 L1181.3,1202.6 L1183.0,1202.8 L1184.7,1202.9 L1186.4,1202.8 L1188.0,1202.4 L1189.7,1202.6 L1191.4,1202.8 L1193.1,1202.3 L1194.8,1202.2 L1196.5,1202.4 L1198.2,1202.3 L1199.9,1202.6 L1201.6,1202.5 L1203.3,1202.6 L1205.0,1203.0 L1206.7,1202.7 L1208.4,1202.5 L1210.1,1202.8 L1211.8,1202.9 L1213.5,1202.9 L1215.2,1203.1 L1216.9,1203.1 L1218.6,1203.1 L1220.2,1202.8 L1221.9,1202.6 L1223.6,1202.9 L1225.3,1203.1 L1227.0,1202.8 L1228.7,1202.6 L1230.4,1202.3 L1232.1,1202.3 L1233.8,1202.7 L1235.5,1202.8 L1237.2,1202.6 L1238.9,1202.3 L1240.6,1202.4 L1242.3,1203.0 L1244.0,1203.0 L1245.7,1202.2 L1247.4,1202.0 L1249.1,1202.4 L1250.8,1202.6 L1252.5,1202.9 L1254.2,1203.1 L1255.8,1202.9 L1257.5,1202.8 L1259.2,1203.1 L1260.9,1203.2 L1262.6,1202.9 L1264.3,1202.6 L1266.0,1202.7 L1267.7,1203.0 L1269.4,1203.3 L1271.1,1203.0 L1272.8,1202.9 L1274.5,1203.3 L1276.2,1203.3 L1277.9,1202.9 L1279.6,1202.7 L1281.3,1202.7 L1283.0,1202.6 L1284.7,1202.6 L1286.4,1202.9 L1288.0,1203.1 L1289.7,1202.9 L1291.4,1202.7 L1293.1,1202.6 L1294.8,1202.7 L1296.5,1202.7 L1298.2,1202.3 L1299.9,1202.1 L1301.6,1202.1 L1303.3,1202.2 L1305.0,1202.3 L1306.7,1202.2 L1308.4,1202.3"/>
<path d="M116.3,996.3 L118.5,995.2 L120.2,990.7 L121.9,985.9 L123.6,983.8 L125.3,982.0 L127.0,978.6 L128.7,974.6 L130.4,970.7 L132.1,968.7 L133.8,965.2 L135.4,959.8 L137.1,948.3 L138.8,935.8 L140.5,922.4 L142.2,909.1 L143.9,901.1 L145.6,898.9 L147.3,897.4 L149.0,894.4 L150.7,888.9 L152.4,884.3 L154.1,881.5 L155.8,875.4 L157.5,868.7 L159.2,865.1 L160.9,864.0 L162.6,862.9 L164.3,861.8 L166.0,861.6 L167.7,860.0 L169.3,853.4 L171.0,847.4 L172.7,846.7 L174.4,848.2 L176.1,847.1 L177.8,844.3 L179.5,843.7 L181.2,842.2 L182.9,842.3 L184.6,842.5 L186.3,838.9 L188.0,838.6 L189.7,839.2 L191.4,838.8 L193.1,840.3 L194.8,841.1 L196.5,841.2 L198.2,842.4 L199.9,844.0 L201.6,847.4 L203.2,850.4 L204.9,850.2 L206.6,849.2 L208.3,848.0 L210.0,851.8 L211.7,858.8 L213.4,864.4 L215.1,870.1 L216.8,873.7 L218.5,875.3 L220.2,880.1 L221.9,880.9 L223.6,878.2 L225.3,880.6 L227.0,886.3 L228.7,889.4 L230.4,891.1 L232.1,898.1 L233.8,905.7 L235.5,910.1 L237.2,918.4 L238.8,924.8 L240.5,927.1 L242.2,930.6 L243.9,934.6 L245.6,940.4 L247.3,946.7 L249.0,950.3 L250.7,956.3 L252.4,963.8 L254.1,968.4 L255.8,972.1 L257.5,978.1 L259.2,983.6 L260.9,987.8 L262.6,992.1 L264.3,996.0 L266.0,996.8 L267.7,997.8 L269.4,998.8 L271.1,1000.1 L272.7,1002.2 L274.4,1003.3 L276.1,1004.6 L277.8,1006.4 L279.5,1006.6 L281.2,1007.4 L282.9,1009.2 L284.6,1010.5 L286.3,1013.2 L288.0,1015.7 L289.7,1016.3 L291.4,1017.0 L293.1,1018.1 L294.8,1018.7 L296.5,1019.2 L298.2,1020.6 L299.9,1022.8 L301.6,1024.4 L303.3,1026.2 L305.0,1029.0 L306.6,1031.2 L308.3,1033.1 L310.0,1034.7 L311.7,1035.6 L313.4,1036.3 L315.1,1037.4 L316.8,1039.3 L318.5,1041.3 L320.2,1042.9 L321.9,1044.9 L323.6,1047.3 L325.3,1049.0 L327.0,1050.7 L328.7,1052.9 L330.4,1055.0 L332.1,1055.9 L333.8,1056.3 L335.5,1056.6 L337.2,1056.2 L338.9,1056.2 L340.5,1056.5 L342.2,1056.5 L343.9,1056.9 L345.6,1057.8 L347.3,1058.7 L349.0,1060.0 L350.7,1061.1 L352.4,1060.3 L354.1,1059.3 L355.8,1060.0 L357.5,1059.6 L359.2,1059.1 L360.9,1059.7 L362.6,1059.2 L364.3,1059.0 L366.0,1059.3 L367.7,1059.5 L369.4,1061.0 L371.1,1062.3 L372.8,1062.5 L374.4,1063.3 L376.1,1064.5 L377.8,1063.9 L379.5,1062.7 L381.2,1063.6 L382.9,1064.7 L384.6,1065.1 L386.3,1065.2 L388.0,1065.6 L389.7,1066.4 L391.4,1067.4 L393.1,1067.5 L394.8,1066.5 L396.5,1064.7 L398.2,1063.2 L399.9,1062.7 L401.6,1062.7 L403.3,1063.1 L405.0,1064.0 L406.7,1064.1 L408.3,1064.0 L410.0,1064.0 L411.7,1062.5 L413.4,1060.8 L415.1,1060.4 L416.8,1060.5 L418.5,1061.2 L420.2,1061.8 L421.9,1061.1 L423.6,1059.9 L425.3,1058.3 L427.0,1057.3 L428.7,1057.7 L430.4,1057.2 L432.1,1056.0 L433.8,1055.3 L435.5,1054.5 L437.2,1052.8 L438.9,1051.2 L440.6,1050.6 L442.2,1050.3 L443.9,1049.6 L445.6,1048.4 L447.3,1046.8 L449.0,1046.0 L450.7,1045.2 L452.4,1044.1 L454.1,1043.3 L455.8,1042.9 L457.5,1041.5 L459.2,1039.1 L460.9,1038.1 L462.6,1037.2 L464.3,1035.9 L466.0,1035.7 L467.7,1035.3 L469.4,1034.3 L471.1,1033.1 L472.8,1032.4 L474.4,1032.1 L476.1,1031.6 L477.8,1030.3 L479.5,1029.8 L481.2,1030.6 L482.9,1030.2 L484.6,1029.4 L486.3,1029.7 L488.0,1029.6 L489.7,1028.7 L491.4,1028.4 L493.1,1028.3 L494.8,1028.4 L496.5,1028.6 L498.2,1028.4 L499.9,1028.3 L501.6,1027.7 L503.3,1026.7 L505.0,1026.0 L506.7,1025.6 L508.4,1024.9 L510.0,1024.1 L511.7,1025.0 L513.4,1026.5 L515.1,1026.7 L516.8,1026.4 L518.5,1026.2 L520.2,1026.4 L521.9,1026.0 L523.6,1025.0 L525.3,1025.4 L527.0,1026.2 L528.7,1026.4 L530.4,1025.8 L532.1,1025.7 L533.8,1026.4 L535.5,1028.5 L537.2,1030.8 L538.9,1030.5 L540.6,1029.4 L542.2,1030.1 L543.9,1032.6 L545.6,1034.5 L547.3,1034.8 L549.0,1036.1 L550.7,1037.8 L552.4,1037.8 L554.1,1037.1 L555.8,1037.5 L557.5,1039.3 L559.2,1041.2 L560.9,1042.4 L562.6,1045.0 L564.3,1047.7 L566.0,1049.1 L567.7,1049.8 L569.4,1051.1 L571.1,1053.1 L572.8,1055.4 L574.5,1057.5 L576.2,1059.9 L577.8,1062.1 L579.5,1062.8 L581.2,1064.1 L582.9,1066.8 L584.6,1068.7 L586.3,1069.8 L588.0,1071.1 L589.7,1073.6 L591.4,1076.4 L593.1,1079.2 L594.8,1081.8 L596.5,1083.3 L598.2,1084.8 L599.9,1086.8 L601.6,1088.5 L603.3,1090.2 L605.0,1092.3 L606.7,1094.5 L608.4,1096.5 L610.0,1098.9 L611.7,1101.1 L613.4,1103.7 L615.1,1106.0 L616.8,1107.7 L618.5,1109.8 L620.2,1111.6 L621.9,1112.8 L623.6,1114.3 L625.3,1116.4 L627.0,1118.2 L628.7,1119.0 L630.4,1120.4 L632.1,1122.2 L633.8,1123.4 L635.5,1124.3 L637.2,1125.8 L638.9,1128.1 L640.6,1130.2 L642.3,1131.0 L644.0,1130.8 L645.6,1131.1 L647.3,1132.8 L649.0,1134.3 L650.7,1135.1 L652.4,1136.7 L654.1,1137.2 L655.8,1137.7 L657.5,1138.1 L659.2,1137.3 L660.9,1137.2 L662.6,1138.3 L664.3,1138.8 L666.0,1137.7 L667.7,1136.8 L669.4,1137.3 L671.1,1136.9 L672.8,1135.6 L674.5,1135.4 L676.2,1134.5 L677.9,1132.1 L679.5,1129.9 L681.2,1128.1 L682.9,1126.1 L684.6,1124.0 L686.3,1122.5 L688.0,1121.2 L689.7,1119.3 L691.4,1117.0 L693.1,1115.0 L694.8,1113.5 L696.5,1113.4 L698.2,1112.7 L699.9,1111.0 L701.6,1108.9 L703.3,1107.3 L705.0,1105.7 L706.7,1103.5 L708.4,1101.8 L710.1,1100.3 L711.8,1098.3 L713.4,1096.4 L715.1,1094.3 L716.8,1091.9 L718.5,1089.7 L720.2,1087.2 L721.9,1084.1 L723.6,1080.9 L725.3,1077.5 L727.0,1074.0 L728.7,1070.4 L730.4,1066.5 L732.1,1062.9 L733.8,1059.7 L735.5,1055.6 L737.2,1051.4 L738.9,1047.7 L740.6,1043.9 L742.3,1039.1 L744.0,1034.6 L745.6,1030.7 L747.3,1026.2 L749.0,1021.6 L750.7,1017.2 L752.4,1012.7 L754.1,1007.8 L755.8,1002.7 L757.5,998.1 L759.2,993.4 L760.9,988.4 L762.6,983.6 L764.3,978.3 L766.0,972.7 L767.7,967.3 L769.4,961.9 L771.1,956.6 L772.8,951.2 L774.5,945.7 L776.2,939.8 L777.9,934.0 L779.6,928.4 L781.2,922.4 L782.9,916.3 L784.6,910.4 L786.3,904.2 L788.0,898.0 L789.7,892.0 L791.4,885.4 L793.1,878.5 L794.8,871.8 L796.5,864.8 L798.2,858.1 L799.9,851.4 L801.6,844.5 L803.3,837.6 L805.0,830.8 L806.7,824.0 L808.4,816.8 L810.1,809.4 L811.8,802.2 L813.5,795.3 L815.1,788.6 L816.8,782.0 L818.5,774.9 L820.2,767.0 L821.9,759.2 L823.6,751.7 L825.3,743.8 L827.0,735.8 L828.7,728.1 L830.4,720.2 L832.1,712.6 L833.8,705.2 L835.5,697.3 L837.2,689.1 L838.9,681.2 L840.6,673.7 L842.3,666.3 L844.0,658.7 L845.7,651.2 L847.4,643.7 L849.0,636.4 L850.7,629.6 L852.4,623.2 L854.1,617.0 L855.8,611.0 L857.5,605.0 L859.2,599.4 L860.9,594.4 L862.6,588.6 L864.3,582.2 L866.0,576.1 L867.7,570.1 L869.4,563.4 L871.1,556.5 L872.8,550.1 L874.5,543.6 L876.2,536.7 L877.9,529.8 L879.6,523.2 L881.2,516.7 L882.9,510.4 L884.6,504.7 L886.3,499.3 L888.0,493.5 L889.7,487.6 L891.4,481.2 L893.1,475.0 L894.8,469.1 L896.5,462.9 L898.2,457.3 L899.9,451.8 L901.6,447.0 L903.3,443.5 L905.0,439.6 L906.7,436.1 L908.4,433.6 L910.1,430.7 L911.8,427.4 L913.5,424.4 L915.1,422.2 L916.8,420.1 L918.5,417.9 L920.2,416.3 L921.9,415.2 L923.6,414.4 L925.3,413.7 L927.0,413.2 L928.7,412.8 L930.4,413.3 L932.1,414.3 L933.8,415.2 L935.5,416.9 L937.2,419.1 L938.9,421.0 L940.6,423.3 L942.3,426.2 L944.0,429.6 L945.7,434.0 L947.4,438.8 L949.1,443.6 L950.7,449.2 L952.4,456.8 L954.1,464.1 L955.8,471.2 L957.5,479.2 L959.2,487.9 L960.9,497.3 L962.6,507.2 L964.3,517.8 L966.0,528.5 L967.7,539.7 L969.4,551.5 L971.1,563.6 L972.8,576.1 L974.5,589.6 L976.2,604.1 L977.9,618.6 L979.6,632.1 L981.3,645.7 L983.0,659.7 L984.6,672.9 L986.3,686.1 L988.0,699.9 L989.7,713.4 L991.4,726.4 L993.1,740.1 L994.8,754.3 L996.5,768.1 L998.2,782.4 L999.9,797.1 L1001.6,812.0 L1003.3,828.0 L1005.0,844.4 L1006.7,860.4 L1008.4,876.4 L1010.1,892.2 L1011.8,907.2 L1013.5,921.6 L1015.2,935.7 L1016.9,948.6 L1018.5,960.5 L1020.2,972.3 L1021.9,983.6 L1023.6,994.6 L1025.3,1005.3 L1027.0,1015.6 L1028.7,1025.6 L1030.4,1035.3 L1032.1,1044.8 L1033.8,1053.5 L1035.5,1061.8 L1037.2,1070.0 L1038.9,1078.0 L1040.6,1085.3 L1042.3,1091.9 L1044.0,1098.0 L1045.7,1103.9 L1047.4,1109.9 L1049.1,1115.7 L1050.8,1121.5 L1052.4,1127.8 L1054.1,1133.8 L1055.8,1139.1 L1057.5,1144.5 L1059.2,1149.7 L1060.9,1154.1 L1062.6,1158.0 L1064.3,1161.6 L1066.0,1164.9 L1067.7,1168.2 L1069.4,1171.6 L1071.1,1174.3 L1072.8,1176.4 L1074.5,1178.4 L1076.2,1180.3 L1077.9,1182.0 L1079.6,1183.9 L1081.3,1185.5 L1083.0,1186.9 L1084.7,1188.1 L1086.3,1189.5 L1088.0,1190.3 L1089.7,1191.1 L1091.4,1192.5 L1093.1,1193.2 L1094.8,1193.7 L1096.5,1194.7 L1098.2,1195.6 L1099.9,1196.2 L1101.6,1196.8 L1103.3,1197.3 L1105.0,1197.6 L1106.7,1198.0 L1108.4,1198.3 L1110.1,1198.7 L1111.8,1199.2 L1113.5,1199.5 L1115.2,1199.8 L1116.9,1200.1 L1118.6,1200.3 L1120.2,1200.8 L1121.9,1201.4 L1123.6,1201.7 L1125.3,1201.8 L1127.0,1201.7 L1128.7,1201.5 L1130.4,1201.7 L1132.1,1202.1 L1133.8,1202.5 L1135.5,1203.1 L1137.2,1203.3 L1138.9,1203.0 L1140.6,1202.9 L1142.3,1203.2 L1144.0,1203.1 L1145.7,1202.7 L1147.4,1202.9 L1149.1,1202.8 L1150.8,1202.1 L1152.5,1202.3 L1154.1,1202.6 L1155.8,1202.6 L1157.5,1202.5 L1159.2,1202.5 L1160.9,1203.1 L1162.6,1203.3 L1164.3,1203.0 L1166.0,1202.7 L1167.7,1202.6 L1169.4,1203.1 L1171.1,1203.1 L1172.8,1202.7 L1174.5,1202.4 L1176.2,1202.3 L1177.9,1202.2 L1179.6,1202.1 L1181.3,1202.5 L1183.0,1202.6 L1184.7,1202.5 L1186.4,1202.7 L1188.0,1202.9 L1189.7,1203.0 L1191.4,1203.1 L1193.1,1203.2 L1194.8,1203.2 L1196.5,1203.2 L1198.2,1203.0 L1199.9,1202.8 L1201.6,1202.1 L1203.3,1201.8 L1205.0,1202.2 L1206.7,1202.7 L1208.4,1202.7 L1210.1,1202.4 L1211.8,1202.4 L1213.5,1202.6 L1215.2,1202.7 L1216.9,1202.6 L1218.6,1202.8 L1220.2,1203.0 L1221.9,1203.3 L1223.6,1203.1 L1225.3,1202.7 L1227.0,1202.8 L1228.7,1202.8 L1230.4,1202.6 L1232.1,1202.4 L1233.8,1202.7 L1235.5,1203.1 L1237.2,1202.8 L1238.9,1202.7 L1240.6,1203.3 L1242.3,1203.2 L1244.0,1202.8 L1245.7,1203.0 L1247.4,1203.0 L1249.1,1202.7 L1250.8,1202.7 L1252.5,1202.7 L1254.2,1202.9 L1255.8,1202.6 L1257.5,1202.3 L1259.2,1202.8 L1260.9,1203.2 L1262.6,1202.8 L1264.3,1202.7 L1266.0,1202.8 L1267.7,1202.7 L1269.4,1202.7 L1271.1,1202.5 L1272.8,1202.4 L1274.5,1202.4 L1276.2,1202.7 L1277.9,1203.1 L1279.6,1202.8 L1281.3,1202.5 L1283.0,1202.4 L1284.7,1202.5 L1286.4,1202.7 L1288.0,1202.6 L1289.7,1202.5 L1291.4,1202.8 L1293.1,1203.2 L1294.8,1203.0 L1296.5,1202.5 L1298.2,1202.5 L1299.9,1203.0 L1301.6,1203.0 L1303.3,1202.8 L1305.0,1203.0 L1306.7,1203.0 L1308.4,1202.9"/>
<path d="M116.3,999.1 L118.5,997.2 L120.2,992.3 L121.9,986.8 L123.6,982.8 L125.3,980.8 L127.0,977.3 L128.7,973.9 L130.4,971.9 L132.1,967.6 L133.8,961.6 L135.4,958.2 L137.1,948.1 L138.8,936.9 L140.5,926.0 L142.2,914.3 L143.9,904.7 L145.6,899.4 L147.3,897.9 L149.0,895.2 L150.7,890.3 L152.4,886.4 L154.1,880.4 L155.8,870.7 L157.5,864.4 L159.2,865.3 L160.9,866.3 L162.6,865.0 L164.3,865.8 L166.0,861.1 L167.7,853.0 L169.3,852.5 L171.0,856.8 L172.7,855.1 L174.4,848.9 L176.1,847.6 L177.8,847.7 L179.5,845.9 L181.2,847.9 L182.9,848.2 L184.6,843.7 L186.3,843.5 L188.0,846.8 L189.7,845.9 L191.4,843.4 L193.1,842.2 L194.8,841.3 L196.5,840.7 L198.2,840.9 L199.9,844.0 L201.6,849.3 L203.2,852.9 L204.9,851.1 L206.6,843.7 L208.3,842.9 L210.0,853.9 L211.7,860.6 L213.4,860.7 L215.1,863.9 L216.8,869.8 L218.5,873.5 L220.2,877.0 L221.9,876.7 L223.6,874.0 L225.3,877.4 L227.0,885.0 L228.7,890.9 L230.4,893.6 L232.1,896.8 L233.8,905.1 L235.5,914.6 L237.2,920.8 L238.8,925.2 L240.5,931.7 L242.2,936.2 L243.9,937.1 L245.6,939.7 L247.3,945.2 L249.0,952.0 L250.7,959.0 L252.4,965.0 L254.1,971.0 L255.8,976.6 L257.5,981.3 L259.2,985.2 L260.9,989.5 L262.6,993.7 L264.3,996.8 L266.0,998.1 L267.7,999.3 L269.4,1001.6 L271.1,1003.7 L272.7,1004.4 L274.4,1006.2 L276.1,1007.4 L277.8,1007.1 L279.5,1007.7 L281.2,1008.8 L282.9,1010.4 L284.6,1012.8 L286.3,1015.5 L288.0,1017.2 L289.7,1017.7 L291.4,1018.2 L293.1,1019.1 L294.8,1020.4 L296.5,1022.0 L298.2,1022.8 L299.9,1023.1 L301.6,1024.6 L303.3,1027.2 L305.0,1028.9 L306.6,1030.7 L308.3,1033.6 L310.0,1036.0 L311.7,1037.3 L313.4,1038.0 L315.1,1039.7 L316.8,1042.6 L318.5,1044.8 L320.2,1045.5 L321.9,1046.3 L323.6,1048.5 L325.3,1050.3 L327.0,1051.9 L328.7,1054.0 L330.4,1055.3 L332.1,1055.8 L333.8,1056.8 L335.5,1057.2 L337.2,1056.9 L338.9,1057.1 L340.5,1057.5 L342.2,1057.5 L343.9,1058.0 L345.6,1059.0 L347.3,1059.1 L349.0,1058.4 L350.7,1057.8 L352.4,1058.4 L354.1,1059.5 L355.8,1059.4 L357.5,1059.6 L359.2,1060.4 L360.9,1060.5 L362.6,1060.1 L364.3,1060.6 L366.0,1061.9 L367.7,1062.3 L369.4,1062.6 L371.1,1062.7 L372.8,1062.3 L374.4,1062.9 L376.1,1064.3 L377.8,1064.5 L379.5,1064.8 L381.2,1065.3 L382.9,1065.0 L384.6,1065.2 L386.3,1065.6 L388.0,1065.3 L389.7,1065.2 L391.4,1066.3 L393.1,1066.4 L394.8,1065.6 L396.5,1066.1 L398.2,1066.9 L399.9,1066.4 L401.6,1065.0 L403.3,1064.3 L405.0,1064.2 L406.7,1064.0 L408.3,1064.1 L410.0,1064.3 L411.7,1063.8 L413.4,1062.8 L415.1,1061.8 L416.8,1061.4 L418.5,1062.0 L420.2,1062.5 L421.9,1061.7 L423.6,1060.8 L425.3,1060.8 L427.0,1059.2 L428.7,1057.6 L430.4,1057.2 L432.1,1057.0 L433.8,1057.0 L435.5,1056.3 L437.2,1054.9 L438.9,1053.2 L440.6,1051.9 L442.2,1050.9 L443.9,1049.2 L445.6,1048.4 L447.3,1048.1 L449.0,1047.7 L450.7,1046.9 L452.4,1044.6 L454.1,1042.6 L455.8,1042.3 L457.5,1041.9 L459.2,1040.9 L460.9,1039.7 L462.6,1038.9 L464.3,1039.2 L466.0,1039.2 L467.7,1037.5 L469.4,1035.6 L471.1,1034.9 L472.8,1034.3 L474.4,1034.4 L476.1,1034.1 L477.8,1032.3 L479.5,1031.1 L481.2,1031.3 L482.9,1030.9 L484.6,1030.4 L486.3,1030.2 L488.0,1029.8 L489.7,1030.3 L491.4,1030.9 L493.1,1030.0 L494.8,1029.4 L496.5,1029.1 L498.2,1028.4 L499.9,1027.9 L501.6,1027.1 L503.3,1026.5 L505.0,1027.2 L506.7,1028.1 L508.4,1027.5 L510.0,1026.6 L511.7,1027.0 L513.4,1027.5 L515.1,1027.1 L516.8,1026.5 L518.5,1026.4 L520.2,1026.7 L521.9,1027.4 L523.6,1027.6 L525.3,1027.4 L527.0,1028.0 L528.7,1028.7 L530.4,1028.6 L532.1,1028.5 L533.8,1027.8 L535.5,1027.6 L537.2,1028.5 L538.9,1030.3 L540.6,1031.8 L542.2,1032.5 L543.9,1033.4 L545.6,1034.7 L547.3,1036.2 L549.0,1037.0 L550.7,1036.7 L552.4,1036.9 L554.1,1037.8 L555.8,1037.6 L557.5,1038.8 L559.2,1042.6 L560.9,1045.1 L562.6,1046.8 L564.3,1048.4 L566.0,1050.0 L567.7,1051.2 L569.4,1052.2 L571.1,1053.8 L572.8,1056.2 L574.5,1058.4 L576.2,1060.2 L577.8,1061.9 L579.5,1063.6 L581.2,1065.5 L582.9,1067.8 L584.6,1070.0 L586.3,1070.7 L588.0,1071.8 L589.7,1075.0 L591.4,1077.7 L593.1,1078.9 L594.8,1082.0 L596.5,1085.4 L598.2,1086.3 L599.9,1087.0 L601.6,1088.7 L603.3,1090.5 L605.0,1092.9 L606.7,1096.2 L608.4,1099.5 L610.0,1101.3 L611.7,1102.1 L613.4,1104.0 L615.1,1106.9 L616.8,1108.9 L618.5,1110.9 L620.2,1114.2 L621.9,1116.2 L623.6,1116.5 L625.3,1117.3 L627.0,1119.7 L628.7,1121.8 L630.4,1122.8 L632.1,1123.7 L633.8,1124.6 L635.5,1125.7 L637.2,1127.1 L638.9,1128.3 L640.6,1129.7 L642.3,1130.1 L644.0,1130.8 L645.6,1132.1 L647.3,1133.5 L649.0,1135.1 L650.7,1136.1 L652.4,1137.5 L654.1,1138.5 L655.8,1138.6 L657.5,1138.7 L659.2,1138.8 L660.9,1138.2 L662.6,1138.0 L664.3,1138.6 L666.0,1139.2 L667.7,1139.3 L669.4,1137.8 L671.1,1135.9 L672.8,1134.8 L674.5,1134.2 L676.2,1133.8 L677.9,1132.6 L679.5,1131.0 L681.2,1129.8 L682.9,1127.7 L684.6,1125.2 L686.3,1123.1 L688.0,1121.4 L689.7,1120.5 L691.4,1119.4 L693.1,1118.0 L694.8,1116.6 L696.5,1114.8 L698.2,1113.3 L699.9,1111.7 L701.6,1110.2 L703.3,1108.3 L705.0,1106.6 L706.7,1105.2 L708.4,1103.4 L710.1,1101.7 L711.8,1099.6 L713.4,1097.7 L715.1,1096.3 L716.8,1094.5 L718.5,1092.0 L720.2,1089.1 L721.9,1085.4 L723.6,1081.7 L725.3,1078.7 L727.0,1075.6 L728.7,1072.4 L730.4,1069.4 L732.1,1065.6 L733.8,1061.7 L735.5,1058.1 L737.2,1054.4 L738.9,1050.7 L740.6,1047.1 L742.3,1042.9 L744.0,1038.2 L745.6,1034.0 L747.3,1030.0 L749.0,1025.6 L750.7,1021.0 L752.4,1016.4 L754.1,1011.7 L755.8,1007.1 L757.5,1002.7 L759.2,998.4 L760.9,993.5 L762.6,988.5 L764.3,983.5 L766.0,978.2 L767.7,973.0 L769.4,967.7 L771.1,962.2 L772.8,957.1 L774.5,951.9 L776.2,946.2 L777.9,939.9 L779.6,934.0 L781.2,928.8 L782.9,923.0 L784.6,916.6 L786.3,910.3 L788.0,904.6 L789.7,898.5 L791.4,891.7 L793.1,885.3 L794.8,879.0 L796.5,872.6 L798.2,866.0 L799.9,858.9 L801.6,851.8 L803.3,845.0 L805.0,838.5 L806.7,831.7 L808.4,824.9 L810.1,818.0 L811.8,811.0 L813.5,804.1 L815.1,797.5 L816.8,790.5 L818.5,783.2 L820.2,776.1 L821.9,768.6 L823.6,760.8 L825.3,753.3 L827.0,745.7 L828.7,737.8 L830.4,730.3 L832.1,722.8 L833.8,714.7 L835.5,707.1 L837.2,699.9 L838.9,691.7 L840.6,683.6 L842.3,676.6 L844.0,669.9 L845.7,662.4 L847.4,655.2 L849.0,648.6 L850.7,642.0 L852.4,635.0 L854.1,628.5 L855.8,622.7 L857.5,617.2 L859.2,612.0 L860.9,606.5 L862.6,600.5 L864.3,595.0 L866.0,589.4 L867.7,582.9 L869.4,576.3 L871.1,569.9 L872.8,563.1 L874.5,556.3 L876.2,549.9 L877.9,543.5 L879.6,537.2 L881.2,531.2 L882.9,525.3 L884.6,519.5 L886.3,513.7 L888.0,507.8 L889.7,502.0 L891.4,496.3 L893.1,489.9 L894.8,483.5 L896.5,477.6 L898.2,472.4 L899.9,467.2 L901.6,462.7 L903.3,459.1 L905.0,455.6 L906.7,451.9 L908.4,448.2 L910.1,445.4 L911.8,443.0 L913.5,440.6 L915.1,438.2 L916.8,435.6 L918.5,433.6 L920.2,432.5 L921.9,431.5 L923.6,430.8 L925.3,430.1 L927.0,429.4 L928.7,429.2 L930.4,429.9 L932.1,430.5 L933.8,431.1 L935.5,432.5 L937.2,434.5 L938.9,436.6 L940.6,438.8 L942.3,441.7 L944.0,445.6 L945.7,449.9 L947.4,454.3 L949.1,459.2 L950.7,465.0 L952.4,471.8 L954.1,478.4 L955.8,485.7 L957.5,493.7 L959.2,502.3 L960.9,511.5 L962.6,521.6 L964.3,532.4 L966.0,542.8 L967.7,553.2 L969.4,564.6 L971.1,576.6 L972.8,588.8 L974.5,602.0 L976.2,616.0 L977.9,629.8 L979.6,643.3 L981.3,656.4 L983.0,669.8 L984.6,683.5 L986.3,696.8 L988.0,710.0 L989.7,723.4 L991.4,736.9 L993.1,750.6 L994.8,764.1 L996.5,777.4 L998.2,791.2 L999.9,805.9 L1001.6,820.6 L1003.3,835.2 L1005.0,850.7 L1006.7,867.0 L1008.4,883.1 L1010.1,898.5 L1011.8,913.4 L1013.5,927.7 L1015.2,941.1 L1016.9,953.8 L1018.5,965.9 L1020.2,977.6 L1021.9,988.8 L1023.6,999.3 L1025.3,1009.5 L1027.0,1019.6 L1028.7,1029.4 L1030.4,1038.7 L1032.1,1047.5 L1033.8,1056.1 L1035.5,1064.8 L1037.2,1073.0 L1038.9,1080.2 L1040.6,1087.0 L1042.3,1093.9 L1044.0,1100.3 L1045.7,1106.2 L1047.4,1111.8 L1049.1,1117.5 L1050.8,1123.3 L1052.4,1128.7 L1054.1,1134.0 L1055.8,1139.3 L1057.5,1144.7 L1059.2,1149.9 L1060.9,1154.8 L1062.6,1158.9 L1064.3,1162.3 L1066.0,1165.9 L1067.7,1169.2 L1069.4,1172.3 L1071.1,1174.9 L1072.8,1177.4 L1074.5,1179.7 L1076.2,1181.5 L1077.9,1183.4 L1079.6,1185.0 L1081.3,1186.3 L1083.0,1187.4 L1084.7,1188.3 L1086.3,1189.5 L1088.0,1190.8 L1089.7,1192.0 L1091.4,1192.9 L1093.1,1193.6 L1094.8,1194.4 L1096.5,1195.1 L1098.2,1195.4 L1099.9,1195.7 L1101.6,1196.5 L1103.3,1197.2 L1105.0,1197.3 L1106.7,1197.1 L1108.4,1197.5 L1110.1,1198.3 L1111.8,1199.0 L1113.5,1199.6 L1115.2,1200.0 L1116.9,1200.2 L1118.6,1200.6 L1120.2,1201.2 L1121.9,1201.4 L1123.6,1201.3 L1125.3,1201.7 L1127.0,1202.3 L1128.7,1202.1 L1130.4,1201.8 L1132.1,1202.2 L1133.8,1202.5 L1135.5,1202.6 L1137.2,1202.5 L1138.9,1202.8 L1140.6,1203.0 L1142.3,1202.4 L1144.0,1202.0 L1145.7,1202.6 L1147.4,1203.0 L1149.1,1202.6 L1150.8,1202.3 L1152.5,1202.3 L1154.1,1203.0 L1155.8,1203.3 L1157.5,1203.0 L1159.2,1202.6 L1160.9,1202.4 L1162.6,1202.6 L1164.3,1203.1 L1166.0,1203.2 L1167.7,1202.8 L1169.4,1202.5 L1171.1,1202.6 L1172.8,1202.9 L1174.5,1203.0 L1176.2,1202.5 L1177.9,1202.0 L1179.6,1201.9 L1181.3,1202.2 L1183.0,1202.5 L1184.7,1202.9 L1186.4,1203.2 L1188.0,1203.1 L1189.7,1203.1 L1191.4,1203.1 L1193.1,1203.0 L1194.8,1202.9 L1196.5,1202.8 L1198.2,1202.6 L1199.9,1202.7 L1201.6,1202.6 L1203.3,1202.3 L1205.0,1202.4 L1206.7,1202.7 L1208.4,1202.7 L1210.1,1202.7 L1211.8,1202.7 L1213.5,1202.7 L1215.2,1202.3 L1216.9,1202.0 L1218.6,1202.3 L1220.2,1202.9 L1221.9,1203.3 L1223.6,1203.1 L1225.3,1202.7 L1227.0,1202.5 L1228.7,1202.7 L1230.4,1202.6 L1232.1,1202.5 L1233.8,1202.6 L1235.5,1202.4 L1237.2,1202.5 L1238.9,1203.0 L1240.6,1202.9 L1242.3,1203.0 L1244.0,1203.3 L1245.7,1203.6 L1247.4,1203.4 L1249.1,1202.9 L1250.8,1202.8 L1252.5,1202.9 L1254.2,1203.1 L1255.8,1203.0 L1257.5,1203.1 L1259.2,1203.4 L1260.9,1203.4 L1262.6,1202.8 L1264.3,1202.8 L1266.0,1203.0 L1267.7,1202.8 L1269.4,1202.3 L1271.1,1202.3 L1272.8,1202.7 L1274.5,1202.4 L1276.2,1202.1 L1277.9,1202.2 L1279.6,1202.7 L1281.3,1203.1 L1283.0,1202.7 L1284.7,1202.8 L1286.4,1203.2 L1288.0,1202.6 L1289.7,1202.2 L1291.4,1202.1 L1293.1,1202.3 L1294.8,1202.7 L1296.5,1203.0 L1298.2,1203.0 L1299.9,1202.8 L1301.6,1202.7 L1303.3,1202.8 L1305.0,1202.7 L1306.7,1202.5 L1308.4,1202.5"/>
<path d="M116.3,995.4 L118.5,994.9 L120.2,994.4 L121.9,992.4 L123.6,989.5 L125.3,985.4 L127.0,980.9 L128.7,978.3 L130.4,974.8 L132.1,969.0 L133.8,963.7 L135.4,960.3 L137.1,949.1 L138.8,936.4 L140.5,925.0 L142.2,913.8 L143.9,907.3 L145.6,904.3 L147.3,899.9 L149.0,894.2 L150.7,887.4 L152.4,883.2 L154.1,880.5 L155.8,875.9 L157.5,872.1 L159.2,867.5 L160.9,866.0 L162.6,867.3 L164.3,865.9 L166.0,861.8 L167.7,858.8 L169.3,856.4 L171.0,854.5 L172.7,853.9 L174.4,851.4 L176.1,850.9 L177.8,851.8 L179.5,849.5 L181.2,851.3 L182.9,853.3 L184.6,848.5 L186.3,842.4 L188.0,840.5 L189.7,840.1 L191.4,836.7 L193.1,834.7 L194.8,835.8 L196.5,837.6 L198.2,841.7 L199.9,844.3 L201.6,843.1 L203.2,842.9 L204.9,846.0 L206.6,850.7 L208.3,853.5 L210.0,853.8 L211.7,857.5 L213.4,863.8 L215.1,865.6 L216.8,867.8 L218.5,870.3 L220.2,871.4 L221.9,875.1 L223.6,880.7 L225.3,884.0 L227.0,885.2 L228.7,887.7 L230.4,894.4 L232.1,903.3 L233.8,908.6 L235.5,912.5 L237.2,918.0 L238.8,924.3 L240.5,931.6 L242.2,937.2 L243.9,940.0 L245.6,943.7 L247.3,949.3 L249.0,952.3 L250.7,956.4 L252.4,964.7 L254.1,973.4 L255.8,977.5 L257.5,981.3 L259.2,988.0 L260.9,992.7 L262.6,993.7 L264.3,995.5 L266.0,998.5 L267.7,1002.2 L269.4,1004.4 L271.1,1005.6 L272.7,1006.3 L274.4,1007.2 L276.1,1008.3 L277.8,1010.3 L279.5,1012.3 L281.2,1012.7 L282.9,1013.3 L284.6,1014.5 L286.3,1015.8 L288.0,1017.1 L289.7,1018.1 L291.4,1019.9 L293.1,1021.1 L294.8,1021.8 L296.5,1023.1 L298.2,1024.6 L299.9,1025.8 L301.6,1027.5 L303.3,1029.6 L305.0,1031.7 L306.6,1033.3 L308.3,1034.1 L310.0,1035.0 L311.7,1036.9 L313.4,1040.0 L315.1,1042.3 L316.8,1043.7 L318.5,1045.5 L320.2,1046.8 L321.9,1048.4 L323.6,1049.9 L325.3,1051.1 L327.0,1052.1 L328.7,1053.0 L330.4,1055.4 L332.1,1057.1 L333.8,1057.3 L335.5,1057.9 L337.2,1058.5 L338.9,1059.0 L340.5,1058.8 L342.2,1058.2 L343.9,1059.0 L345.6,1059.9 L347.3,1060.1 L349.0,1059.7 L350.7,1059.6 L352.4,1061.1 L354.1,1061.7 L355.8,1061.6 L357.5,1062.4 L359.2,1062.2 L360.9,1061.5 L362.6,1062.2 L364.3,1063.3 L366.0,1064.0 L367.7,1064.4 L369.4,1064.3 L371.1,1063.7 L372.8,1063.1 L374.4,1063.7 L376.1,1065.2 L377.8,1065.6 L379.5,1065.9 L381.2,1067.0 L382.9,1067.2 L384.6,1067.3 L386.3,1068.1 L388.0,1068.2 L389.7,1068.3 L391.4,1069.3 L393.1,1069.4 L394.8,1068.5 L396.5,1068.1 L398.2,1067.8 L399.9,1066.9 L401.6,1066.7 L403.3,1066.8 L405.0,1066.6 L406.7,1066.6 L408.3,1065.8 L410.0,1064.5 L411.7,1064.2 L413.4,1064.1 L415.1,1063.7 L416.8,1063.7 L418.5,1063.3 L420.2,1063.3 L421.9,1063.2 L423.6,1062.9 L425.3,1062.8 L427.0,1061.8 L428.7,1060.7 L430.4,1059.0 L432.1,1057.2 L433.8,1056.9 L435.5,1056.7 L437.2,1055.8 L438.9,1055.1 L440.6,1054.8 L442.2,1053.6 L443.9,1051.7 L445.6,1050.8 L447.3,1050.5 L449.0,1049.0 L450.7,1047.2 L452.4,1046.7 L454.1,1045.8 L455.8,1044.6 L457.5,1044.0 L459.2,1042.4 L460.9,1041.5 L462.6,1042.0 L464.3,1040.9 L466.0,1039.3 L467.7,1038.9 L469.4,1038.6 L471.1,1038.2 L472.8,1037.5 L474.4,1035.9 L476.1,1034.7 L477.8,1034.7 L479.5,1034.3 L481.2,1033.5 L482.9,1032.8 L484.6,1032.3 L486.3,1032.1 L488.0,1032.2 L489.7,1033.2 L491.4,1033.2 L493.1,1031.0 L494.8,1030.1 L496.5,1031.1 L498.2,1031.0 L499.9,1029.6 L501.6,1028.7 L503.3,1028.3 L505.0,1028.1 L506.7,1028.4 L508.4,1028.4 L510.0,1028.6 L511.7,1028.6 L513.4,1028.0 L515.1,1027.7 L516.8,1028.1 L518.5,1028.5 L520.2,1028.7 L521.9,1029.1 L523.6,1029.9 L525.3,1030.9 L527.0,1030.4 L528.7,1029.2 L530.4,1029.2 L532.1,1030.4 L533.8,1031.2 L535.5,1030.8 L537.2,1031.4 L538.9,1032.8 L540.6,1033.5 L542.2,1033.9 L543.9,1034.5 L545.6,1036.4 L547.3,1038.3 L549.0,1038.5 L550.7,1038.2 L552.4,1039.4 L554.1,1040.8 L555.8,1041.5 L557.5,1042.2 L559.2,1044.4 L560.9,1047.2 L562.6,1048.6 L564.3,1049.4 L566.0,1051.0 L567.7,1052.1 L569.4,1053.3 L571.1,1055.8 L572.8,1058.3 L574.5,1060.5 L576.2,1062.4 L577.8,1064.4 L579.5,1067.1 L581.2,1068.7 L582.9,1068.9 L584.6,1070.2 L586.3,1072.0 L588.0,1074.1 L589.7,1076.2 L591.4,1077.9 L593.1,1080.3 L594.8,1082.7 L596.5,1084.4 L598.2,1086.8 L599.9,1088.1 L601.6,1089.1 L603.3,1091.5 L605.0,1094.0 L606.7,1096.5 L608.4,1098.8 L610.0,1100.8 L611.7,1103.2 L613.4,1106.0 L615.1,1108.2 L616.8,1110.1 L618.5,1112.7 L620.2,1114.5 L621.9,1115.4 L623.6,1117.4 L625.3,1119.5 L627.0,1120.8 L628.7,1121.7 L630.4,1122.9 L632.1,1124.3 L633.8,1125.1 L635.5,1126.1 L637.2,1128.8 L638.9,1131.1 L640.6,1131.5 L642.3,1131.9 L644.0,1133.6 L645.6,1134.9 L647.3,1135.2 L649.0,1136.2 L650.7,1138.2 L652.4,1139.7 L654.1,1139.2 L655.8,1138.6 L657.5,1138.6 L659.2,1139.7 L660.9,1140.5 L662.6,1140.4 L664.3,1140.3 L666.0,1140.3 L667.7,1140.2 L669.4,1139.5 L671.1,1138.4 L672.8,1137.5 L674.5,1136.6 L676.2,1135.4 L677.9,1133.7 L679.5,1132.1 L681.2,1130.3 L682.9,1129.3 L684.6,1128.4 L686.3,1125.5 L688.0,1122.7 L689.7,1121.3 L691.4,1120.2 L693.1,1119.1 L694.8,1118.7 L696.5,1117.0 L698.2,1115.1 L699.9,1113.4 L701.6,1112.0 L703.3,1110.7 L705.0,1109.2 L706.7,1107.7 L708.4,1106.1 L710.1,1104.4 L711.8,1102.7 L713.4,1101.1 L715.1,1099.0 L716.8,1096.7 L718.5,1094.8 L720.2,1092.6 L721.9,1089.7 L723.6,1086.6 L725.3,1082.8 L727.0,1079.5 L728.7,1076.6 L730.4,1073.7 L732.1,1070.4 L733.8,1066.7 L735.5,1063.0 L737.2,1059.3 L738.9,1055.3 L740.6,1051.2 L742.3,1047.4 L744.0,1044.0 L745.6,1040.2 L747.3,1035.7 L749.0,1031.2 L750.7,1026.6 L752.4,1021.8 L754.1,1017.5 L755.8,1013.3 L757.5,1008.8 L759.2,1004.2 L760.9,1000.0 L762.6,995.4 L764.3,990.4 L766.0,985.6 L767.7,980.8 L769.4,975.8 L771.1,970.6 L772.8,965.3 L774.5,959.9 L776.2,954.4 L777.9,948.6 L779.6,943.2 L781.2,937.9 L782.9,932.1 L784.6,926.1 L786.3,920.0 L788.0,914.0 L789.7,908.1 L791.4,902.0 L793.1,895.8 L794.8,889.4 L796.5,883.0 L798.2,876.7 L799.9,870.3 L801.6,863.9 L803.3,857.3 L805.0,850.8 L806.7,843.9 L808.4,837.1 L810.1,830.6 L811.8,823.7 L813.5,816.7 L815.1,810.4 L816.8,804.1 L818.5,797.1 L820.2,789.8 L821.9,782.7 L823.6,775.5 L825.3,768.3 L827.0,760.9 L828.7,753.3 L830.4,745.7 L832.1,738.5 L833.8,731.1 L835.5,723.6 L837.2,716.4 L838.9,708.9 L840.6,701.5 L842.3,694.4 L844.0,687.1 L845.7,680.1 L847.4,673.4 L849.0,666.5 L850.7,659.9 L852.4,653.9 L854.1,647.8 L855.8,641.8 L857.5,636.3 L859.2,631.2 L860.9,626.1 L862.6,620.8 L864.3,615.1 L866.0,609.0 L867.7,602.9 L869.4,596.6 L871.1,590.1 L872.8,583.9 L874.5,577.7 L876.2,570.9 L877.9,564.5 L879.6,558.9 L881.2,552.9 L882.9,546.8 L884.6,541.0 L886.3,535.0 L888.0,529.5 L889.7,524.5 L891.4,519.2 L893.1,513.5 L894.8,507.8 L896.5,501.7 L898.2,496.2 L899.9,491.3 L901.6,486.7 L903.3,482.6 L905.0,479.3 L906.7,476.5 L908.4,473.6 L910.1,470.1 L911.8,467.2 L913.5,465.1 L915.1,463.0 L916.8,461.0 L918.5,459.1 L920.2,457.6 L921.9,456.7 L923.6,456.1 L925.3,455.4 L927.0,455.0 L928.7,454.5 L930.4,454.6 L932.1,455.5 L933.8,456.4 L935.5,457.9 L937.2,459.5 L938.9,461.4 L940.6,463.7 L942.3,466.9 L944.0,470.6 L945.7,474.6 L947.4,478.7 L949.1,483.0 L950.7,488.7 L952.4,496.0 L954.1,502.1 L955.8,508.8 L957.5,516.7 L959.2,525.0 L960.9,534.1 L962.6,544.0 L964.3,553.9 L966.0,564.0 L967.7,574.7 L969.4,585.7 L971.1,597.3 L972.8,609.5 L974.5,622.2 L976.2,635.1 L977.9,648.2 L979.6,661.5 L981.3,674.6 L983.0,687.3 L984.6,700.1 L986.3,712.8 L988.0,725.8 L989.7,739.1 L991.4,752.2 L993.1,765.3 L994.8,778.2 L996.5,790.9 L998.2,804.6 L999.9,819.0 L1001.6,833.2 L1003.3,847.8 L1005.0,862.7 L1006.7,878.0 L1008.4,893.3 L1010.1,908.2 L1011.8,922.7 L1013.5,936.8 L1015.2,950.1 L1016.9,962.3 L1018.5,973.7 L1020.2,984.9 L1021.9,995.5 L1023.6,1005.9 L1025.3,1015.9 L1027.0,1025.7 L1028.7,1035.4 L1030.4,1044.6 L1032.1,1053.2 L1033.8,1061.4 L1035.5,1069.5 L1037.2,1077.1 L1038.9,1084.5 L1040.6,1091.5 L1042.3,1097.8 L1044.0,1103.8 L1045.7,1109.6 L1047.4,1114.9 L1049.1,1120.1 L1050.8,1125.3 L1052.4,1130.7 L1054.1,1136.5 L1055.8,1142.2 L1057.5,1147.3 L1059.2,1151.8 L1060.9,1156.0 L1062.6,1160.2 L1064.3,1163.9 L1066.0,1167.0 L1067.7,1169.9 L1069.4,1172.9 L1071.1,1176.0 L1072.8,1178.8 L1074.5,1180.5 L1076.2,1182.0 L1077.9,1184.1 L1079.6,1186.0 L1081.3,1187.2 L1083.0,1188.1 L1084.7,1188.7 L1086.3,1190.0 L1088.0,1191.3 L1089.7,1192.1 L1091.4,1193.0 L1093.1,1193.7 L1094.8,1194.6 L1096.5,1195.4 L1098.2,1196.0 L1099.9,1196.5 L1101.6,1196.7 L1103.3,1197.3 L1105.0,1198.3 L1106.7,1198.6 L1108.4,1198.2 L1110.1,1198.5 L1111.8,1199.3 L1113.5,1199.4 L1115.2,1199.8 L1116.9,1200.4 L1118.6,1200.8 L1120.2,1200.8 L1121.9,1200.9 L1123.6,1201.5 L1125.3,1201.9 L1127.0,1201.5 L1128.7,1201.7 L1130.4,1202.4 L1132.1,1202.7 L1133.8,1202.7 L1135.5,1202.5 L1137.2,1202.3 L1138.9,1202.5 L1140.6,1202.8 L1142.3,1202.7 L1144.0,1202.5 L1145.7,1202.2 L1147.4,1202.2 L1149.1,1202.5 L1150.8,1202.6 L1152.5,1202.7 L1154.1,1202.7 L1155.8,1202.5 L1157.5,1202.7 L1159.2,1203.0 L1160.9,1202.8 L1162.6,1202.7 L1164.3,1202.8 L1166.0,1202.5 L1167.7,1202.5 L1169.4,1202.6 L1171.1,1202.3 L1172.8,1202.1 L1174.5,1202.4 L1176.2,1202.4 L1177.9,1202.1 L1179.6,1202.3 L1181.3,1202.9 L1183.0,1203.0 L1184.7,1202.9 L1186.4,1203.1 L1188.0,1203.1 L1189.7,1202.8 L1191.4,1202.7 L1193.1,1202.6 L1194.8,1202.5 L1196.5,1202.8 L1198.2,1202.9 L1199.9,1202.8 L1201.6,1202.9 L1203.3,1202.8 L1205.0,1202.6 L1206.7,1202.5 L1208.4,1202.6 L1210.1,1202.8 L1211.8,1203.0 L1213.5,1203.2 L1215.2,1203.1 L1216.9,1202.8 L1218.6,1202.4 L1220.2,1202.4 L1221.9,1202.3 L1223.6,1202.1 L1225.3,1202.1 L1227.0,1202.5 L1228.7,1203.1 L1230.4,1203.3 L1232.1,1203.1 L1233.8,1203.0 L1235.5,1203.1 L1237.2,1203.2 L1238.9,1203.1 L1240.6,1202.8 L1242.3,1203.0 L1244.0,1203.1 L1245.7,1203.0 L1247.4,1203.0 L1249.1,1202.7 L1250.8,1202.5 L1252.5,1202.9 L1254.2,1203.2 L1255.8,1203.3 L1257.5,1203.2 L1259.2,1202.7 L1260.9,1202.7 L1262.6,1203.1 L1264.3,1203.1 L1266.0,1202.6 L1267.7,1202.5 L1269.4,1203.0 L1271.1,1203.4 L1272.8,1203.3 L1274.5,1202.8 L1276.2,1202.4 L1277.9,1202.2 L1279.6,1202.6 L1281.3,1203.0 L1283.0,1202.9 L1284.7,1202.9 L1286.4,1203.0 L1288.0,1202.8 L1289.7,1202.7 L1291.4,1203.0 L1293.1,1203.0 L1294.8,1202.4 L1296.5,1202.2 L1298.2,1202.6 L1299.9,1202.5 L1301.6,1202.4 L1303.3,1202.8 L1305.0,1203.1 L1306.7,1203.2 L1308.4,1203.0"/>
<path d="M116.3,1000.6 L118.5,1000.1 L120.2,997.6 L121.9,995.2 L123.6,992.0 L125.3,987.3 L127.0,982.6 L128.7,979.9 L130.4,975.9 L132.1,970.2 L133.8,966.0 L135.4,963.6 L137.1,952.5 L138.8,939.9 L140.5,929.3 L142.2,919.6 L143.9,911.8 L145.6,905.7 L147.3,900.8 L149.0,896.9 L150.7,891.2 L152.4,886.9 L154.1,883.8 L155.8,877.2 L157.5,873.4 L159.2,871.2 L160.9,867.6 L162.6,868.0 L164.3,867.8 L166.0,862.8 L167.7,857.5 L169.3,855.1 L171.0,852.9 L172.7,849.1 L174.4,846.8 L176.1,842.6 L177.8,839.8 L179.5,846.8 L181.2,853.4 L182.9,851.4 L184.6,847.9 L186.3,844.7 L188.0,844.7 L189.7,848.1 L191.4,848.4 L193.1,845.9 L194.8,847.9 L196.5,849.9 L198.2,845.6 L199.9,844.1 L201.6,846.0 L203.2,848.0 L204.9,850.7 L206.6,849.8 L208.3,847.7 L210.0,850.8 L211.7,856.7 L213.4,863.3 L215.1,866.7 L216.8,867.8 L218.5,870.7 L220.2,877.6 L221.9,883.1 L223.6,885.4 L225.3,887.1 L227.0,887.4 L228.7,892.1 L230.4,899.2 L232.1,901.2 L233.8,903.1 L235.5,913.1 L237.2,925.7 L238.8,931.9 L240.5,936.9 L242.2,940.9 L243.9,940.0 L245.6,940.1 L247.3,946.7 L249.0,955.6 L250.7,962.3 L252.4,966.3 L254.1,971.9 L255.8,980.7 L257.5,985.7 L259.2,987.1 L260.9,990.7 L262.6,993.8 L264.3,996.7 L266.0,1000.3 L267.7,1004.3 L269.4,1005.1 L271.1,1004.8 L272.7,1007.0 L274.4,1009.6 L276.1,1011.1 L277.8,1013.8 L279.5,1015.6 L281.2,1014.8 L282.9,1014.5 L284.6,1017.0 L286.3,1019.6 L288.0,1020.1 L289.7,1020.9 L291.4,1023.3 L293.1,1024.7 L294.8,1024.0 L296.5,1023.9 L298.2,1025.8 L299.9,1028.9 L301.6,1030.5 L303.3,1030.7 L305.0,1032.0 L306.6,1034.4 L308.3,1036.6 L310.0,1038.4 L311.7,1040.4 L313.4,1042.3 L315.1,1043.8 L316.8,1045.1 L318.5,1046.3 L320.2,1047.3 L321.9,1049.1 L323.6,1050.9 L325.3,1052.2 L327.0,1054.4 L328.7,1055.7 L330.4,1056.3 L332.1,1057.9 L333.8,1059.3 L335.5,1058.6 L337.2,1057.6 L338.9,1058.9 L340.5,1061.0 L342.2,1061.3 L343.9,1060.8 L345.6,1060.6 L347.3,1060.5 L349.0,1060.9 L350.7,1060.8 L352.4,1061.6 L354.1,1063.4 L355.8,1063.9 L357.5,1063.6 L359.2,1063.1 L360.9,1063.1 L362.6,1063.6 L364.3,1064.4 L366.0,1066.5 L367.7,1067.7 L369.4,1066.4 L371.1,1065.6 L372.8,1066.4 L374.4,1067.0 L376.1,1066.1 L377.8,1065.6 L379.5,1067.0 L381.2,1068.5 L382.9,1068.2 L384.6,1067.5 L386.3,1068.0 L388.0,1068.5 L389.7,1068.3 L391.4,1069.2 L393.1,1070.0 L394.8,1069.3 L396.5,1068.6 L398.2,1068.5 L399.9,1068.6 L401.6,1069.1 L403.3,1069.1 L405.0,1068.5 L406.7,1067.9 L408.3,1067.7 L410.0,1067.7 L411.7,1067.7 L413.4,1067.4 L415.1,1066.9 L416.8,1066.4 L418.5,1066.0 L420.2,1065.9 L421.9,1066.3 L423.6,1066.2 L425.3,1065.0 L427.0,1064.2 L428.7,1063.7 L430.4,1062.4 L432.1,1061.1 L433.8,1060.3 L435.5,1058.8 L437.2,1056.8 L438.9,1055.4 L440.6,1054.8 L442.2,1054.9 L443.9,1054.5 L445.6,1052.6 L447.3,1051.0 L449.0,1050.3 L450.7,1049.7 L452.4,1049.4 L454.1,1048.5 L455.8,1046.6 L457.5,1045.9 L459.2,1045.9 L460.9,1044.8 L462.6,1043.6 L464.3,1042.8 L466.0,1041.9 L467.7,1040.8 L469.4,1039.8 L471.1,1039.9 L472.8,1039.9 L474.4,1038.7 L476.1,1038.1 L477.8,1037.7 L479.5,1036.8 L481.2,1036.4 L482.9,1035.0 L484.6,1034.2 L486.3,1034.6 L488.0,1034.3 L489.7,1033.8 L491.4,1034.2 L493.1,1034.5 L494.8,1033.8 L496.5,1033.0 L498.2,1032.7 L499.9,1032.4 L501.6,1031.9 L503.3,1031.7 L505.0,1031.2 L506.7,1030.7 L508.4,1031.0 L510.0,1031.1 L511.7,1031.2 L513.4,1031.6 L515.1,1031.7 L516.8,1031.1 L518.5,1030.8 L520.2,1031.2 L521.9,1031.2 L523.6,1031.7 L525.3,1032.4 L527.0,1031.7 L528.7,1031.3 L530.4,1032.6 L532.1,1034.0 L533.8,1034.2 L535.5,1034.0 L537.2,1034.1 L538.9,1035.2 L540.6,1036.8 L542.2,1037.8 L543.9,1038.6 L545.6,1039.8 L547.3,1040.8 L549.0,1041.5 L550.7,1041.9 L552.4,1042.4 L554.1,1043.8 L555.8,1045.0 L557.5,1046.1 L559.2,1047.4 L560.9,1048.6 L562.6,1050.6 L564.3,1052.1 L566.0,1053.9 L567.7,1054.9 L569.4,1056.1 L571.1,1059.6 L572.8,1061.5 L574.5,1061.7 L576.2,1063.6 L577.8,1066.0 L579.5,1068.0 L581.2,1069.9 L582.9,1070.9 L584.6,1072.0 L586.3,1074.5 L588.0,1076.2 L589.7,1077.0 L591.4,1079.0 L593.1,1082.1 L594.8,1084.5 L596.5,1086.8 L598.2,1089.1 L599.9,1091.1 L601.6,1093.6 L603.3,1096.6 L605.0,1098.8 L606.7,1099.8 L608.4,1100.5 L610.0,1102.2 L611.7,1104.9 L613.4,1107.0 L615.1,1108.4 L616.8,1110.4 L618.5,1113.0 L620.2,1114.7 L621.9,1115.9 L623.6,1118.3 L625.3,1120.9 L627.0,1122.5 L628.7,1123.2 L630.4,1123.7 L632.1,1124.7 L633.8,1126.5 L635.5,1127.9 L637.2,1128.6 L638.9,1130.3 L640.6,1132.2 L642.3,1132.9 L644.0,1134.2 L645.6,1135.9 L647.3,1137.2 L649.0,1138.5 L650.7,1140.2 L652.4,1141.7 L654.1,1140.9 L655.8,1140.8 L657.5,1141.5 L659.2,1140.6 L660.9,1139.6 L662.6,1140.5 L664.3,1141.1 L666.0,1140.8 L667.7,1141.3 L669.4,1141.3 L671.1,1140.5 L672.8,1139.2 L674.5,1137.4 L676.2,1136.4 L677.9,1135.7 L679.5,1134.3 L681.2,1132.6 L682.9,1131.2 L684.6,1129.8 L686.3,1128.6 L688.0,1127.1 L689.7,1125.6 L691.4,1124.3 L693.1,1122.6 L694.8,1121.5 L696.5,1120.4 L698.2,1119.1 L699.9,1117.7 L701.6,1116.2 L703.3,1114.7 L705.0,1113.5 L706.7,1111.9 L708.4,1109.9 L710.1,1108.3 L711.8,1106.8 L713.4,1105.0 L715.1,1103.3 L716.8,1101.6 L718.5,1099.1 L720.2,1096.2 L721.9,1093.7 L723.6,1091.4 L725.3,1088.8 L727.0,1085.6 L728.7,1082.3 L730.4,1079.3 L732.1,1076.2 L733.8,1072.9 L735.5,1069.5 L737.2,1066.1 L738.9,1062.8 L740.6,1059.5 L742.3,1055.6 L744.0,1051.5 L745.6,1047.9 L747.3,1044.3 L749.0,1040.4 L750.7,1036.7 L752.4,1033.0 L754.1,1029.0 L755.8,1024.8 L757.5,1020.6 L759.2,1016.3 L760.9,1012.2 L762.6,1008.1 L764.3,1003.4 L766.0,998.6 L767.7,993.8 L769.4,988.7 L771.1,983.8 L772.8,979.3 L774.5,974.6 L776.2,969.5 L777.9,964.4 L779.6,959.0 L781.2,953.6 L782.9,948.4 L784.6,943.0 L786.3,937.0 L788.0,930.8 L789.7,925.3 L791.4,919.6 L793.1,913.5 L794.8,907.4 L796.5,901.6 L798.2,896.0 L799.9,889.6 L801.6,882.7 L803.3,876.8 L805.0,871.0 L806.7,864.6 L808.4,858.3 L810.1,852.3 L811.8,846.0 L813.5,839.4 L815.1,833.1 L816.8,826.8 L818.5,820.6 L820.2,814.3 L821.9,807.6 L823.6,800.3 L825.3,793.4 L827.0,786.2 L828.7,778.7 L830.4,771.8 L832.1,764.8 L833.8,757.7 L835.5,750.6 L837.2,743.7 L838.9,736.7 L840.6,729.6 L842.3,723.2 L844.0,716.8 L845.7,710.0 L847.4,703.4 L849.0,697.2 L850.7,690.8 L852.4,684.5 L854.1,678.8 L855.8,673.8 L857.5,669.0 L859.2,664.2 L860.9,659.0 L862.6,653.6 L864.3,648.3 L866.0,643.0 L867.7,637.5 L869.4,631.7 L871.1,625.6 L872.8,619.1 L874.5,612.8 L876.2,606.6 L877.9,600.5 L879.6,595.1 L881.2,590.2 L882.9,584.7 L884.6,579.2 L886.3,573.8 L888.0,568.2 L889.7,563.0 L891.4,558.0 L893.1,552.5 L894.8,547.0 L896.5,541.5 L898.2,536.4 L899.9,531.5 L901.6,527.3 L903.3,523.7 L905.0,520.5 L906.7,517.6 L908.4,515.0 L910.1,512.3 L911.8,509.9 L913.5,507.8 L915.1,505.2 L916.8,502.8 L918.5,501.3 L920.2,499.8 L921.9,498.6 L923.6,497.9 L925.3,497.1 L927.0,496.4 L928.7,496.4 L930.4,496.7 L932.1,497.5 L933.8,498.7 L935.5,500.2 L937.2,501.7 L938.9,503.5 L940.6,505.9 L942.3,508.5 L944.0,511.7 L945.7,515.7 L947.4,520.1 L949.1,524.6 L950.7,529.5 L952.4,535.6 L954.1,541.5 L955.8,548.2 L957.5,555.8 L959.2,563.7 L960.9,572.0 L962.6,581.2 L964.3,591.1 L966.0,600.7 L967.7,610.6 L969.4,620.8 L971.1,631.5 L972.8,642.7 L974.5,654.7 L976.2,667.4 L977.9,680.2 L979.6,692.3 L981.3,704.3 L983.0,716.7 L984.6,729.2 L986.3,741.3 L988.0,753.2 L989.7,765.5 L991.4,778.0 L993.1,790.4 L994.8,802.8 L996.5,815.0 L998.2,827.3 L999.9,840.1 L1001.6,853.5 L1003.3,867.7 L1005.0,882.4 L1006.7,896.6 L1008.4,910.3 L1010.1,924.6 L1011.8,939.2 L1013.5,952.6 L1015.2,964.7 L1016.9,976.4 L1018.5,987.2 L1020.2,997.4 L1021.9,1007.9 L1023.6,1017.9 L1025.3,1027.0 L1027.0,1035.8 L1028.7,1044.6 L1030.4,1053.1 L1032.1,1061.6 L1033.8,1069.8 L1035.5,1077.7 L1037.2,1085.1 L1038.9,1091.6 L1040.6,1097.5 L1042.3,1103.3 L1044.0,1109.0 L1045.7,1115.0 L1047.4,1120.6 L1049.1,1125.2 L1050.8,1130.2 L1052.4,1136.0 L1054.1,1141.3 L1055.8,1145.9 L1057.5,1150.6 L1059.2,1155.5 L1060.9,1159.8 L1062.6,1163.6 L1064.3,1166.9 L1066.0,1169.8 L1067.7,1172.3 L1069.4,1174.9 L1071.1,1177.9 L1072.8,1180.1 L1074.5,1181.7 L1076.2,1183.6 L1077.9,1185.5 L1079.6,1186.9 L1081.3,1188.1 L1083.0,1189.3 L1084.7,1190.2 L1086.3,1190.9 L1088.0,1191.9 L1089.7,1193.1 L1091.4,1194.0 L1093.1,1194.3 L1094.8,1194.8 L1096.5,1195.8 L1098.2,1196.5 L1099.9,1197.0 L1101.6,1197.3 L1103.3,1197.5 L1105.0,1198.0 L1106.7,1198.4 L1108.4,1198.9 L1110.1,1199.4 L1111.8,1200.0 L1113.5,1200.5 L1115.2,1200.7 L1116.9,1200.9 L1118.6,1201.0 L1120.2,1201.0 L1121.9,1201.2 L1123.6,1201.3 L1125.3,1201.8 L1127.0,1202.5 L1128.7,1202.4 L1130.4,1202.3 L1132.1,1202.7 L1133.8,1202.8 L1135.5,1202.5 L1137.2,1202.1 L1138.9,1202.2 L1140.6,1202.5 L1142.3,1202.4 L1144.0,1202.1 L1145.7,1202.0 L1147.4,1202.2 L1149.1,1202.6 L1150.8,1202.7 L1152.5,1202.7 L1154.1,1202.8 L1155.8,1202.9 L1157.5,1202.8 L1159.2,1203.1 L1160.9,1203.2 L1162.6,1203.0 L1164.3,1203.1 L1166.0,1203.3 L1167.7,1203.4 L1169.4,1203.0 L1171.1,1202.8 L1172.8,1202.9 L1174.5,1202.8 L1176.2,1202.9 L1177.9,1202.8 L1179.6,1202.5 L1181.3,1202.6 L1183.0,1202.5 L1184.7,1202.4 L1186.4,1202.8 L1188.0,1203.1 L1189.7,1203.0 L1191.4,1202.8 L1193.1,1203.0 L1194.8,1203.1 L1196.5,1202.6 L1198.2,1202.6 L1199.9,1202.9 L1201.6,1202.7 L1203.3,1202.3 L1205.0,1201.9 L1206.7,1202.2 L1208.4,1202.9 L1210.1,1203.2 L1211.8,1203.2 L1213.5,1203.0 L1215.2,1202.8 L1216.9,1202.7 L1218.6,1203.0 L1220.2,1203.4 L1221.9,1203.2 L1223.6,1202.5 L1225.3,1202.4 L1227.0,1202.8 L1228.7,1203.0 L1230.4,1203.0 L1232.1,1203.2 L1233.8,1203.3 L1235.5,1203.0 L1237.2,1203.0 L1238.9,1203.3 L1240.6,1203.6 L1242.3,1203.0 L1244.0,1202.8 L1245.7,1203.1 L1247.4,1202.8 L1249.1,1202.7 L1250.8,1203.3 L1252.5,1203.3 L1254.2,1202.8 L1255.8,1202.6 L1257.5,1202.8 L1259.2,1203.0 L1260.9,1203.1 L1262.6,1202.9 L1264.3,1202.9 L1266.0,1203.0 L1267.7,1203.4 L1269.4,1203.6 L1271.1,1203.3 L1272.8,1203.0 L1274.5,1203.4 L1276.2,1203.4 L1277.9,1202.9 L1279.6,1202.5 L1281.3,1202.1 L1283.0,1202.1 L1284.7,1202.4 L1286.4,1202.9 L1288.0,1203.5 L1289.7,1203.5 L1291.4,1203.2 L1293.1,1203.2 L1294.8,1203.5 L1296.5,1203.5 L1298.2,1203.1 L1299.9,1202.7 L1301.6,1202.7 L1303.3,1203.0 L1305.0,1203.0 L1306.7,1203.0 L1308.4,1203.1"/>
<path d="M116.3,1004.4 L118.5,1003.8 L120.2,998.9 L121.9,994.5 L123.6,991.6 L125.3,988.6 L127.0,984.4 L128.7,980.3 L130.4,978.2 L132.1,977.0 L133.8,972.4 L135.4,965.5 L137.1,953.3 L138.8,942.7 L140.5,932.6 L142.2,924.1 L143.9,919.5 L145.6,915.7 L147.3,910.9 L149.0,905.5 L150.7,899.9 L152.4,893.6 L154.1,890.1 L155.8,886.9 L157.5,879.2 L159.2,875.0 L160.9,875.3 L162.6,871.1 L164.3,866.7 L166.0,864.3 L167.7,860.9 L169.3,857.6 L171.0,854.9 L172.7,853.9 L174.4,853.2 L176.1,850.5 L177.8,848.4 L179.5,849.0 L181.2,850.7 L182.9,851.1 L184.6,849.9 L186.3,848.0 L188.0,846.1 L189.7,845.5 L191.4,846.1 L193.1,846.0 L194.8,843.9 L196.5,841.0 L198.2,842.8 L199.9,846.9 L201.6,848.6 L203.2,850.0 L204.9,851.6 L206.6,853.2 L208.3,856.8 L210.0,863.7 L211.7,867.5 L213.4,865.1 L215.1,865.9 L216.8,872.3 L218.5,875.1 L220.2,877.1 L221.9,880.1 L223.6,883.3 L225.3,887.3 L227.0,893.4 L228.7,900.1 L230.4,902.4 L232.1,907.8 L233.8,916.0 L235.5,920.6 L237.2,926.3 L238.8,931.7 L240.5,935.9 L242.2,941.9 L243.9,947.4 L245.6,951.9 L247.3,955.0 L249.0,956.3 L250.7,962.1 L252.4,971.3 L254.1,977.7 L255.8,981.6 L257.5,986.9 L259.2,994.0 L260.9,998.0 L262.6,997.6 L264.3,1001.4 L266.0,1008.4 L267.7,1012.6 L269.4,1012.4 L271.1,1011.5 L272.7,1012.3 L274.4,1015.2 L276.1,1017.3 L277.8,1017.0 L279.5,1017.2 L281.2,1019.2 L282.9,1020.8 L284.6,1021.6 L286.3,1023.4 L288.0,1025.1 L289.7,1026.1 L291.4,1026.8 L293.1,1026.8 L294.8,1027.8 L296.5,1029.3 L298.2,1029.6 L299.9,1031.1 L301.6,1034.1 L303.3,1035.1 L305.0,1036.1 L306.6,1039.0 L308.3,1041.3 L310.0,1042.8 L311.7,1044.6 L313.4,1047.0 L315.1,1048.4 L316.8,1048.8 L318.5,1049.4 L320.2,1050.6 L321.9,1051.8 L323.6,1053.0 L325.3,1054.5 L327.0,1056.7 L328.7,1059.1 L330.4,1059.5 L332.1,1058.1 L333.8,1058.4 L335.5,1060.0 L337.2,1060.7 L338.9,1061.3 L340.5,1061.7 L342.2,1061.6 L343.9,1062.6 L345.6,1062.7 L347.3,1062.8 L349.0,1064.4 L350.7,1065.1 L352.4,1065.7 L354.1,1065.9 L355.8,1065.7 L357.5,1065.9 L359.2,1066.3 L360.9,1066.9 L362.6,1067.5 L364.3,1068.1 L366.0,1068.6 L367.7,1068.7 L369.4,1068.7 L371.1,1069.0 L372.8,1069.0 L374.4,1069.4 L376.1,1069.6 L377.8,1069.3 L379.5,1070.5 L381.2,1071.8 L382.9,1072.5 L384.6,1073.3 L386.3,1073.0 L388.0,1073.1 L389.7,1074.0 L391.4,1073.9 L393.1,1073.0 L394.8,1072.3 L396.5,1072.2 L398.2,1071.5 L399.9,1071.7 L401.6,1073.1 L403.3,1072.9 L405.0,1071.7 L406.7,1071.6 L408.3,1071.7 L410.0,1071.9 L411.7,1072.2 L413.4,1071.9 L415.1,1071.9 L416.8,1071.9 L418.5,1070.3 L420.2,1068.4 L421.9,1068.1 L423.6,1068.9 L425.3,1069.0 L427.0,1067.6 L428.7,1066.4 L430.4,1066.1 L432.1,1066.0 L433.8,1064.8 L435.5,1062.3 L437.2,1061.0 L438.9,1062.2 L440.6,1062.3 L442.2,1060.3 L443.9,1058.9 L445.6,1057.8 L447.3,1056.4 L449.0,1056.4 L450.7,1057.0 L452.4,1056.3 L454.1,1054.6 L455.8,1053.3 L457.5,1052.4 L459.2,1051.9 L460.9,1051.4 L462.6,1050.7 L464.3,1049.6 L466.0,1048.1 L467.7,1046.5 L469.4,1045.4 L471.1,1045.6 L472.8,1044.8 L474.4,1042.9 L476.1,1042.2 L477.8,1041.8 L479.5,1040.7 L481.2,1039.9 L482.9,1039.7 L484.6,1039.7 L486.3,1040.0 L488.0,1040.6 L489.7,1040.6 L491.4,1039.8 L493.1,1039.3 L494.8,1038.9 L496.5,1038.6 L498.2,1038.5 L499.9,1039.0 L501.6,1038.9 L503.3,1037.5 L505.0,1037.0 L506.7,1037.4 L508.4,1036.9 L510.0,1036.6 L511.7,1037.4 L513.4,1038.6 L515.1,1038.6 L516.8,1037.2 L518.5,1036.3 L520.2,1037.0 L521.9,1037.8 L523.6,1038.0 L525.3,1037.6 L527.0,1037.7 L528.7,1039.3 L530.4,1039.5 L532.1,1038.3 L533.8,1038.4 L535.5,1039.3 L537.2,1039.2 L538.9,1040.4 L540.6,1042.5 L542.2,1042.6 L543.9,1042.6 L545.6,1044.1 L547.3,1044.8 L549.0,1045.1 L550.7,1046.6 L552.4,1048.3 L554.1,1049.3 L555.8,1049.8 L557.5,1050.4 L559.2,1051.9 L560.9,1053.4 L562.6,1055.2 L564.3,1057.1 L566.0,1058.7 L567.7,1059.6 L569.4,1059.9 L571.1,1060.9 L572.8,1063.0 L574.5,1065.6 L576.2,1067.6 L577.8,1069.1 L579.5,1070.9 L581.2,1072.7 L582.9,1074.1 L584.6,1075.6 L586.3,1077.3 L588.0,1079.1 L589.7,1081.6 L591.4,1084.3 L593.1,1086.7 L594.8,1088.8 L596.5,1090.2 L598.2,1091.5 L599.9,1093.6 L601.6,1095.2 L603.3,1096.1 L605.0,1098.4 L606.7,1100.7 L608.4,1103.6 L610.0,1107.3 L611.7,1108.5 L613.4,1109.9 L615.1,1112.9 L616.8,1114.7 L618.5,1116.6 L620.2,1118.7 L621.9,1120.5 L623.6,1122.6 L625.3,1123.6 L627.0,1124.9 L628.7,1126.2 L630.4,1125.8 L632.1,1125.9 L633.8,1128.4 L635.5,1130.9 L637.2,1132.9 L638.9,1134.4 L640.6,1134.7 L642.3,1135.1 L644.0,1136.5 L645.6,1137.9 L647.3,1138.7 L649.0,1139.7 L650.7,1142.0 L652.4,1143.0 L654.1,1142.7 L655.8,1143.6 L657.5,1144.8 L659.2,1145.1 L660.9,1144.6 L662.6,1144.7 L664.3,1145.6 L666.0,1145.5 L667.7,1144.0 L669.4,1143.3 L671.1,1143.6 L672.8,1143.4 L674.5,1141.5 L676.2,1138.9 L677.9,1138.1 L679.5,1137.5 L681.2,1135.2 L682.9,1133.0 L684.6,1132.8 L686.3,1133.1 L688.0,1131.9 L689.7,1130.5 L691.4,1129.7 L693.1,1128.9 L694.8,1127.7 L696.5,1125.9 L698.2,1124.5 L699.9,1123.5 L701.6,1122.8 L703.3,1121.8 L705.0,1120.1 L706.7,1118.3 L708.4,1117.0 L710.1,1116.2 L711.8,1115.4 L713.4,1113.6 L715.1,1111.6 L716.8,1109.9 L718.5,1108.2 L720.2,1106.0 L721.9,1103.2 L723.6,1100.2 L725.3,1097.9 L727.0,1095.9 L728.7,1093.3 L730.4,1090.6 L732.1,1087.8 L733.8,1085.0 L735.5,1081.9 L737.2,1078.5 L738.9,1075.5 L740.6,1072.3 L742.3,1069.1 L744.0,1066.2 L745.6,1063.5 L747.3,1060.4 L749.0,1056.8 L750.7,1053.0 L752.4,1049.2 L754.1,1045.7 L755.8,1042.6 L757.5,1039.1 L759.2,1035.0 L760.9,1031.2 L762.6,1027.8 L764.3,1023.4 L766.0,1018.9 L767.7,1014.9 L769.4,1011.1 L771.1,1006.9 L772.8,1001.9 L774.5,997.3 L776.2,993.0 L777.9,988.7 L779.6,984.1 L781.2,979.1 L782.9,973.8 L784.6,968.8 L786.3,963.9 L788.0,958.5 L789.7,953.1 L791.4,948.0 L793.1,942.9 L794.8,937.3 L796.5,931.6 L798.2,926.5 L799.9,921.3 L801.6,915.5 L803.3,909.8 L805.0,904.5 L806.7,898.9 L808.4,892.9 L810.1,887.1 L811.8,881.3 L813.5,876.0 L815.1,870.5 L816.8,864.2 L818.5,857.8 L820.2,852.0 L821.9,845.9 L823.6,839.7 L825.3,833.4 L827.0,826.8 L828.7,820.3 L830.4,814.3 L832.1,808.5 L833.8,802.6 L835.5,796.1 L837.2,789.2 L838.9,782.4 L840.6,775.8 L842.3,769.6 L844.0,763.9 L845.7,758.1 L847.4,751.9 L849.0,746.2 L850.7,741.0 L852.4,735.7 L854.1,730.7 L855.8,725.8 L857.5,721.0 L859.2,716.7 L860.9,712.2 L862.6,707.2 L864.3,702.5 L866.0,697.8 L867.7,692.6 L869.4,687.2 L871.1,681.7 L872.8,676.0 L874.5,670.3 L876.2,664.5 L877.9,659.1 L879.6,654.2 L881.2,649.5 L882.9,644.8 L884.6,639.7 L886.3,634.5 L888.0,630.0 L889.7,625.4 L891.4,620.7 L893.1,616.5 L894.8,611.7 L896.5,606.5 L898.2,601.9 L899.9,597.9 L901.6,593.8 L903.3,590.0 L905.0,587.0 L906.7,584.5 L908.4,582.1 L910.1,579.7 L911.8,577.0 L913.5,574.9 L915.1,573.3 L916.8,571.5 L918.5,569.9 L920.2,568.8 L921.9,568.0 L923.6,567.4 L925.3,566.7 L927.0,566.0 L928.7,565.6 L930.4,565.9 L932.1,566.6 L933.8,567.4 L935.5,568.5 L937.2,570.3 L938.9,571.7 L940.6,573.3 L942.3,576.1 L944.0,579.3 L945.7,582.9 L947.4,587.0 L949.1,591.2 L950.7,595.8 L952.4,601.5 L954.1,606.4 L955.8,612.3 L957.5,619.9 L959.2,627.1 L960.9,634.0 L962.6,642.0 L964.3,650.4 L966.0,658.9 L967.7,667.8 L969.4,677.1 L971.1,686.9 L972.8,697.4 L974.5,708.6 L976.2,720.2 L977.9,731.7 L979.6,742.5 L981.3,752.9 L983.0,763.5 L984.6,775.1 L986.3,786.7 L988.0,797.5 L989.7,808.3 L991.4,819.2 L993.1,830.0 L994.8,841.7 L996.5,853.5 L998.2,864.6 L999.9,876.3 L1001.6,888.5 L1003.3,900.8 L1005.0,914.0 L1006.7,927.6 L1008.4,940.4 L1010.1,952.7 L1011.8,964.5 L1013.5,976.4 L1015.2,988.1 L1016.9,998.6 L1018.5,1008.0 L1020.2,1017.4 L1021.9,1026.5 L1023.6,1035.4 L1025.3,1044.3 L1027.0,1052.7 L1028.7,1060.7 L1030.4,1068.7 L1032.1,1076.2 L1033.8,1083.3 L1035.5,1090.1 L1037.2,1096.5 L1038.9,1102.7 L1040.6,1108.6 L1042.3,1114.1 L1044.0,1119.0 L1045.7,1123.6 L1047.4,1128.6 L1049.1,1133.6 L1050.8,1138.1 L1052.4,1142.5 L1054.1,1147.3 L1055.8,1152.0 L1057.5,1156.3 L1059.2,1160.3 L1060.9,1164.0 L1062.6,1167.5 L1064.3,1170.9 L1066.0,1173.9 L1067.7,1176.3 L1069.4,1177.9 L1071.1,1179.6 L1072.8,1181.7 L1074.5,1183.8 L1076.2,1185.5 L1077.9,1187.2 L1079.6,1188.8 L1081.3,1190.2 L1083.0,1191.1 L1084.7,1191.7 L1086.3,1192.0 L1088.0,1192.7 L1089.7,1193.9 L1091.4,1194.7 L1093.1,1195.4 L1094.8,1196.5 L1096.5,1197.4 L1098.2,1197.9 L1099.9,1198.2 L1101.6,1198.4 L1103.3,1198.6 L1105.0,1198.9 L1106.7,1199.2 L1108.4,1199.6 L1110.1,1199.9 L1111.8,1200.3 L1113.5,1200.8 L1115.2,1200.9 L1116.9,1201.1 L1118.6,1201.7 L1120.2,1202.0 L1121.9,1201.9 L1123.6,1202.0 L1125.3,1202.0 L1127.0,1202.0 L1128.7,1202.4 L1130.4,1202.5 L1132.1,1202.4 L1133.8,1202.7 L1135.5,1203.0 L1137.2,1202.9 L1138.9,1202.7 L1140.6,1202.8 L1142.3,1202.9 L1144.0,1203.0 L1145.7,1203.2 L1147.4,1203.5 L1149.1,1203.4 L1150.8,1203.0 L1152.5,1203.1 L1154.1,1203.3 L1155.8,1203.5 L1157.5,1203.4 L1159.2,1202.9 L1160.9,1202.5 L1162.6,1203.1 L1164.3,1203.4 L1166.0,1202.9 L1167.7,1203.0 L1169.4,1203.5 L1171.1,1203.3 L1172.8,1203.0 L1174.5,1203.3 L1176.2,1203.2 L1177.9,1203.3 L1179.6,1203.6 L1181.3,1203.5 L1183.0,1203.5 L1184.7,1203.3 L1186.4,1202.8 L1188.0,1203.1 L1189.7,1203.3 L1191.4,1203.0 L1193.1,1202.9 L1194.8,1202.8 L1196.5,1203.0 L1198.2,1203.1 L1199.9,1203.1 L1201.6,1203.1 L1203.3,1203.2 L1205.0,1203.0 L1206.7,1202.8 L1208.4,1203.2 L1210.1,1203.4 L1211.8,1203.2 L1213.5,1203.0 L1215.2,1202.8 L1216.9,1203.0 L1218.6,1203.4 L1220.2,1203.3 L1221.9,1203.2 L1223.6,1203.2 L1225.3,1203.4 L1227.0,1203.6 L1228.7,1203.3 L1230.4,1203.3 L1232.1,1203.5 L1233.8,1203.2 L1235.5,1202.8 L1237.2,1203.0 L1238.9,1203.1 L1240.6,1203.2 L1242.3,1203.5 L1244.0,1203.6 L1245.7,1203.2 L1247.4,1202.7 L1249.1,1202.8 L1250.8,1203.1 L1252.5,1203.0 L1254.2,1203.1 L1255.8,1203.3 L1257.5,1203.3 L1259.2,1203.6 L1260.9,1203.5 L1262.6,1203.3 L1264.3,1203.4 L1266.0,1203.5 L1267.7,1203.5 L1269.4,1203.4 L1271.1,1203.3 L1272.8,1203.6 L1274.5,1203.8 L1276.2,1203.5 L1277.9,1203.3 L1279.6,1203.4 L1281.3,1203.2 L1283.0,1203.0 L1284.7,1203.2 L1286.4,1203.3 L1288.0,1203.4 L1289.7,1203.1 L1291.4,1202.6 L1293.1,1202.2 L1294.8,1202.5 L1296.5,1202.7 L1298.2,1202.8 L1299.9,1203.1 L1301.6,1203.1 L1303.3,1203.2 L1305.0,1203.2 L1306.7,1202.9 L1308.4,1202.9"/>
<path d="M116.3,1007.0 L118.5,1007.3 L120.2,1004.4 L121.9,1001.2 L123.6,999.2 L125.3,996.3 L127.0,991.4 L128.7,988.2 L130.4,986.3 L132.1,983.2 L133.8,977.3 L135.4,970.8 L137.1,961.2 L138.8,951.8 L140.5,940.8 L142.2,930.5 L143.9,923.0 L145.6,917.3 L147.3,912.0 L149.0,908.2 L150.7,905.3 L152.4,900.3 L154.1,895.1 L155.8,890.3 L157.5,886.4 L159.2,883.7 L160.9,879.6 L162.6,875.1 L164.3,874.7 L166.0,872.9 L167.7,866.2 L169.3,861.7 L171.0,861.0 L172.7,860.1 L174.4,859.3 L176.1,856.1 L177.8,851.1 L179.5,849.7 L181.2,851.1 L182.9,854.0 L184.6,854.9 L186.3,850.5 L188.0,846.5 L189.7,843.4 L191.4,842.3 L193.1,844.6 L194.8,848.2 L196.5,850.0 L198.2,847.3 L199.9,844.8 L201.6,846.0 L203.2,848.5 L204.9,849.7 L206.6,851.2 L208.3,855.3 L210.0,857.6 L211.7,860.7 L213.4,868.2 L215.1,872.9 L216.8,874.6 L218.5,875.9 L220.2,877.7 L221.9,881.1 L223.6,885.3 L225.3,887.9 L227.0,891.4 L228.7,898.7 L230.4,906.0 L232.1,910.7 L233.8,913.3 L235.5,920.1 L237.2,930.8 L238.8,935.3 L240.5,938.9 L242.2,945.9 L243.9,952.2 L245.6,958.4 L247.3,963.7 L249.0,966.8 L250.7,971.0 L252.4,976.2 L254.1,981.2 L255.8,987.8 L257.5,993.4 L259.2,995.8 L260.9,1000.4 L262.6,1004.4 L264.3,1006.1 L266.0,1009.3 L267.7,1012.3 L269.4,1014.7 L271.1,1019.8 L272.7,1021.1 L274.4,1019.7 L276.1,1021.1 L277.8,1022.3 L279.5,1021.8 L281.2,1023.9 L282.9,1027.2 L284.6,1027.9 L286.3,1026.9 L288.0,1028.8 L289.7,1031.2 L291.4,1032.1 L293.1,1033.1 L294.8,1034.6 L296.5,1035.4 L298.2,1036.3 L299.9,1036.9 L301.6,1037.2 L303.3,1038.8 L305.0,1040.7 L306.6,1042.4 L308.3,1044.1 L310.0,1046.0 L311.7,1048.4 L313.4,1049.6 L315.1,1050.5 L316.8,1052.4 L318.5,1053.7 L320.2,1053.8 L321.9,1055.2 L323.6,1058.0 L325.3,1059.8 L327.0,1060.5 L328.7,1062.0 L330.4,1063.7 L332.1,1063.9 L333.8,1064.0 L335.5,1063.7 L337.2,1062.8 L338.9,1063.4 L340.5,1064.5 L342.2,1064.2 L343.9,1063.8 L345.6,1065.2 L347.3,1067.0 L349.0,1067.3 L350.7,1067.6 L352.4,1068.2 L354.1,1068.3 L355.8,1068.6 L357.5,1069.3 L359.2,1069.7 L360.9,1070.2 L362.6,1071.0 L364.3,1070.8 L366.0,1070.9 L367.7,1072.2 L369.4,1072.9 L371.1,1072.6 L372.8,1073.6 L374.4,1074.1 L376.1,1073.6 L377.8,1074.3 L379.5,1075.6 L381.2,1076.6 L382.9,1076.3 L384.6,1075.6 L386.3,1075.9 L388.0,1076.7 L389.7,1077.1 L391.4,1077.7 L393.1,1078.6 L394.8,1078.1 L396.5,1077.3 L398.2,1077.5 L399.9,1077.4 L401.6,1077.1 L403.3,1077.0 L405.0,1077.3 L406.7,1077.0 L408.3,1076.7 L410.0,1076.7 L411.7,1076.7 L413.4,1076.8 L415.1,1076.7 L416.8,1076.1 L418.5,1075.5 L420.2,1075.9 L421.9,1076.5 L423.6,1076.0 L425.3,1075.5 L427.0,1074.5 L428.7,1072.8 L430.4,1071.6 L432.1,1071.3 L433.8,1071.2 L435.5,1070.1 L437.2,1069.0 L438.9,1068.7 L440.6,1067.5 L442.2,1066.4 L443.9,1065.9 L445.6,1065.2 L447.3,1064.4 L449.0,1063.6 L450.7,1063.2 L452.4,1062.0 L454.1,1060.0 L455.8,1060.1 L457.5,1059.9 L459.2,1058.2 L460.9,1058.4 L462.6,1058.9 L464.3,1056.5 L466.0,1054.2 L467.7,1053.0 L469.4,1052.2 L471.1,1051.9 L472.8,1051.8 L474.4,1051.5 L476.1,1050.1 L477.8,1048.4 L479.5,1048.0 L481.2,1048.8 L482.9,1049.5 L484.6,1049.1 L486.3,1048.2 L488.0,1047.3 L489.7,1047.0 L491.4,1047.0 L493.1,1046.3 L494.8,1045.6 L496.5,1045.9 L498.2,1045.0 L499.9,1043.4 L501.6,1044.3 L503.3,1045.0 L505.0,1044.0 L506.7,1043.0 L508.4,1043.8 L510.0,1044.9 L511.7,1045.1 L513.4,1044.6 L515.1,1043.2 L516.8,1043.2 L518.5,1043.7 L520.2,1043.2 L521.9,1043.5 L523.6,1043.8 L525.3,1043.2 L527.0,1044.0 L528.7,1044.6 L530.4,1043.1 L532.1,1042.6 L533.8,1043.6 L535.5,1045.3 L537.2,1046.5 L538.9,1046.1 L540.6,1045.9 L542.2,1046.8 L543.9,1048.2 L545.6,1049.8 L547.3,1050.2 L549.0,1051.3 L550.7,1053.7 L552.4,1055.1 L554.1,1055.1 L555.8,1054.9 L557.5,1055.5 L559.2,1057.2 L560.9,1058.8 L562.6,1060.2 L564.3,1061.4 L566.0,1062.6 L567.7,1064.1 L569.4,1065.9 L571.1,1067.6 L572.8,1069.3 L574.5,1070.8 L576.2,1072.3 L577.8,1073.5 L579.5,1075.5 L581.2,1077.9 L582.9,1080.1 L584.6,1081.7 L586.3,1083.0 L588.0,1084.8 L589.7,1087.3 L591.4,1089.3 L593.1,1090.5 L594.8,1091.7 L596.5,1093.0 L598.2,1094.9 L599.9,1098.3 L601.6,1101.3 L603.3,1103.2 L605.0,1105.6 L606.7,1107.0 L608.4,1107.4 L610.0,1109.4 L611.7,1112.4 L613.4,1114.6 L615.1,1116.8 L616.8,1119.0 L618.5,1120.3 L620.2,1121.4 L621.9,1123.0 L623.6,1125.0 L625.3,1126.6 L627.0,1127.9 L628.7,1129.3 L630.4,1130.9 L632.1,1132.2 L633.8,1133.9 L635.5,1135.7 L637.2,1136.6 L638.9,1137.2 L640.6,1137.8 L642.3,1138.4 L644.0,1140.8 L645.6,1143.7 L647.3,1145.0 L649.0,1145.9 L650.7,1146.2 L652.4,1146.7 L654.1,1148.0 L655.8,1148.4 L657.5,1147.8 L659.2,1147.3 L660.9,1146.9 L662.6,1147.2 L664.3,1147.3 L666.0,1147.4 L667.7,1148.2 L669.4,1148.6 L671.1,1148.2 L672.8,1146.8 L674.5,1145.0 L676.2,1144.1 L677.9,1144.1 L679.5,1144.0 L681.2,1143.3 L682.9,1142.1 L684.6,1139.8 L686.3,1138.6 L688.0,1139.5 L689.7,1138.4 L691.4,1136.1 L693.1,1135.4 L694.8,1134.7 L696.5,1133.4 L698.2,1132.1 L699.9,1131.0 L701.6,1130.2 L703.3,1129.3 L705.0,1128.3 L706.7,1127.1 L708.4,1125.7 L710.1,1124.9 L711.8,1124.4 L713.4,1123.4 L715.1,1122.0 L716.8,1120.5 L718.5,1119.0 L720.2,1117.3 L721.9,1115.3 L723.6,1113.3 L725.3,1111.4 L727.0,1109.3 L728.7,1107.3 L730.4,1105.1 L732.1,1102.5 L733.8,1100.1 L735.5,1097.9 L737.2,1095.3 L738.9,1092.7 L740.6,1090.3 L742.3,1088.0 L744.0,1085.8 L745.6,1083.4 L747.3,1080.5 L749.0,1077.7 L750.7,1074.7 L752.4,1071.8 L754.1,1069.6 L755.8,1066.8 L757.5,1063.4 L759.2,1060.4 L760.9,1057.8 L762.6,1055.5 L764.3,1052.0 L766.0,1048.0 L767.7,1044.1 L769.4,1040.2 L771.1,1036.7 L772.8,1033.2 L774.5,1029.4 L776.2,1025.6 L777.9,1021.8 L779.6,1017.8 L781.2,1013.7 L782.9,1009.4 L784.6,1005.2 L786.3,1001.3 L788.0,996.9 L789.7,991.9 L791.4,987.3 L793.1,982.9 L794.8,978.4 L796.5,973.3 L798.2,968.3 L799.9,963.7 L801.6,958.8 L803.3,954.0 L805.0,949.2 L806.7,944.4 L808.4,939.4 L810.1,934.1 L811.8,929.2 L813.5,924.7 L815.1,919.7 L816.8,914.0 L818.5,908.9 L820.2,904.2 L821.9,899.1 L823.6,893.7 L825.3,888.1 L827.0,882.7 L828.7,877.6 L830.4,872.3 L832.1,866.6 L833.8,860.6 L835.5,855.0 L837.2,850.0 L838.9,844.6 L840.6,839.2 L842.3,834.4 L844.0,829.4 L845.7,823.9 L847.4,818.9 L849.0,814.1 L850.7,809.2 L852.4,805.1 L854.1,801.2 L855.8,796.7 L857.5,792.3 L859.2,788.1 L860.9,784.5 L862.6,780.8 L864.3,776.7 L866.0,772.7 L867.7,768.6 L869.4,764.0 L871.1,759.0 L872.8,753.7 L874.5,748.9 L876.2,745.0 L877.9,740.9 L879.6,736.4 L881.2,732.0 L882.9,727.7 L884.6,723.3 L886.3,719.2 L888.0,715.7 L889.7,712.1 L891.4,707.8 L893.1,702.9 L894.8,698.6 L896.5,695.0 L898.2,691.2 L899.9,687.0 L901.6,683.4 L903.3,680.7 L905.0,678.3 L906.7,675.9 L908.4,673.7 L910.1,671.6 L911.8,669.3 L913.5,667.8 L915.1,666.7 L916.8,665.4 L918.5,664.1 L920.2,662.5 L921.9,661.5 L923.6,661.1 L925.3,660.2 L927.0,659.5 L928.7,659.9 L930.4,660.7 L932.1,661.3 L933.8,662.0 L935.5,663.3 L937.2,664.5 L938.9,665.5 L940.6,666.8 L942.3,668.9 L944.0,671.5 L945.7,673.9 L947.4,677.1 L949.1,681.0 L950.7,685.1 L952.4,689.9 L954.1,694.5 L955.8,699.1 L957.5,705.0 L959.2,711.8 L960.9,718.2 L962.6,724.6 L964.3,731.9 L966.0,739.6 L967.7,747.4 L969.4,755.6 L971.1,764.2 L972.8,773.0 L974.5,782.2 L976.2,791.7 L977.9,801.3 L979.6,810.9 L981.3,820.1 L983.0,829.3 L984.6,838.6 L986.3,847.7 L988.0,857.1 L989.7,866.6 L991.4,876.2 L993.1,885.8 L994.8,895.5 L996.5,905.4 L998.2,915.1 L999.9,924.8 L1001.6,935.3 L1003.3,946.2 L1005.0,957.2 L1006.7,968.1 L1008.4,979.2 L1010.1,990.1 L1011.8,1000.5 L1013.5,1010.7 L1015.2,1020.6 L1016.9,1030.0 L1018.5,1038.4 L1020.2,1046.2 L1021.9,1053.8 L1023.6,1060.8 L1025.3,1068.2 L1027.0,1076.1 L1028.7,1083.0 L1030.4,1088.9 L1032.1,1094.9 L1033.8,1101.1 L1035.5,1107.1 L1037.2,1112.6 L1038.9,1117.7 L1040.6,1122.5 L1042.3,1127.6 L1044.0,1132.5 L1045.7,1136.7 L1047.4,1140.5 L1049.1,1144.6 L1050.8,1148.5 L1052.4,1152.5 L1054.1,1156.4 L1055.8,1160.1 L1057.5,1164.0 L1059.2,1167.8 L1060.9,1170.9 L1062.6,1173.2 L1064.3,1175.1 L1066.0,1177.4 L1067.7,1179.6 L1069.4,1182.2 L1071.1,1184.6 L1072.8,1186.2 L1074.5,1187.8 L1076.2,1189.5 L1077.9,1190.3 L1079.6,1191.0 L1081.3,1192.3 L1083.0,1193.0 L1084.7,1193.3 L1086.3,1194.2 L1088.0,1195.4 L1089.7,1196.0 L1091.4,1196.5 L1093.1,1196.9 L1094.8,1197.3 L1096.5,1198.0 L1098.2,1198.3 L1099.9,1198.6 L1101.6,1199.4 L1103.3,1199.7 L1105.0,1199.8 L1106.7,1200.4 L1108.4,1200.8 L1110.1,1201.0 L1111.8,1201.1 L1113.5,1201.1 L1115.2,1201.1 L1116.9,1201.2 L1118.6,1201.7 L1120.2,1202.1 L1121.9,1202.2 L1123.6,1202.5 L1125.3,1202.7 L1127.0,1202.5 L1128.7,1202.5 L1130.4,1202.8 L1132.1,1203.1 L1133.8,1202.7 L1135.5,1202.3 L1137.2,1202.8 L1138.9,1203.5 L1140.6,1203.4 L1142.3,1203.2 L1144.0,1203.2 L1145.7,1203.2 L1147.4,1203.2 L1149.1,1203.3 L1150.8,1203.4 L1152.5,1203.4 L1154.1,1203.2 L1155.8,1203.1 L1157.5,1203.2 L1159.2,1203.3 L1160.9,1203.6 L1162.6,1203.6 L1164.3,1203.3 L1166.0,1203.1 L1167.7,1203.2 L1169.4,1203.3 L1171.1,1203.6 L1172.8,1203.5 L1174.5,1203.0 L1176.2,1203.2 L1177.9,1203.7 L1179.6,1203.7 L1181.3,1203.5 L1183.0,1203.5 L1184.7,1203.5 L1186.4,1203.4 L1188.0,1203.1 L1189.7,1202.5 L1191.4,1202.5 L1193.1,1203.1 L1194.8,1203.6 L1196.5,1203.5 L1198.2,1203.3 L1199.9,1203.2 L1201.6,1203.2 L1203.3,1203.6 L1205.0,1203.5 L1206.7,1203.4 L1208.4,1203.3 L1210.1,1203.2 L1211.8,1203.5 L1213.5,1203.5 L1215.2,1203.7 L1216.9,1204.2 L1218.6,1204.2 L1220.2,1203.7 L1221.9,1203.1 L1223.6,1202.9 L1225.3,1203.0 L1227.0,1203.5 L1228.7,1203.9 L1230.4,1203.7 L1232.1,1203.3 L1233.8,1202.9 L1235.5,1202.5 L1237.2,1202.4 L1238.9,1202.7 L1240.6,1203.2 L1242.3,1203.5 L1244.0,1203.7 L1245.7,1203.6 L1247.4,1203.5 L1249.1,1203.6 L1250.8,1203.7 L1252.5,1203.7 L1254.2,1203.6 L1255.8,1203.4 L1257.5,1203.4 L1259.2,1203.5 L1260.9,1203.4 L1262.6,1203.2 L1264.3,1203.2 L1266.0,1202.9 L1267.7,1203.0 L1269.4,1203.9 L1271.1,1204.0 L1272.8,1203.4 L1274.5,1203.1 L1276.2,1203.3 L1277.9,1203.4 L1279.6,1203.4 L1281.3,1203.5 L1283.0,1203.5 L1284.7,1203.7 L1286.4,1204.4 L1288.0,1204.1 L1289.7,1203.1 L1291.4,1203.2 L1293.1,1203.3 L1294.8,1202.7 L1296.5,1202.6 L1298.2,1203.0 L1299.9,1203.2 L1301.6,1203.2 L1303.3,1203.4 L1305.0,1203.7 L1306.7,1203.5 L1308.4,1203.3"/>
<path d="M116.3,1010.6 L118.5,1010.0 L120.2,1009.1 L121.9,1006.8 L123.6,1002.8 L125.3,999.6 L127.0,997.5 L128.7,994.5 L130.4,989.5 L132.1,984.6 L133.8,980.2 L135.4,977.7 L137.1,971.0 L138.8,961.5 L140.5,949.4 L142.2,939.4 L143.9,933.4 L145.6,929.3 L147.3,925.4 L149.0,921.4 L150.7,917.3 L152.4,910.7 L154.1,902.3 L155.8,894.1 L157.5,890.2 L159.2,888.6 L160.9,884.8 L162.6,881.3 L164.3,880.1 L166.0,877.3 L167.7,870.3 L169.3,863.2 L171.0,865.1 L172.7,866.9 L174.4,858.0 L176.1,853.1 L177.8,852.8 L179.5,849.0 L181.2,849.8 L182.9,853.0 L184.6,854.8 L186.3,856.9 L188.0,858.9 L189.7,861.2 L191.4,859.3 L193.1,854.8 L194.8,854.6 L196.5,853.6 L198.2,852.9 L199.9,854.6 L201.6,855.3 L203.2,856.3 L204.9,857.9 L206.6,858.0 L208.3,860.4 L210.0,866.6 L211.7,871.2 L213.4,872.4 L215.1,871.5 L216.8,871.9 L218.5,874.9 L220.2,879.4 L221.9,883.0 L223.6,885.7 L225.3,889.8 L227.0,895.5 L228.7,902.0 L230.4,908.2 L232.1,911.8 L233.8,917.5 L235.5,928.1 L237.2,936.9 L238.8,941.1 L240.5,942.8 L242.2,947.1 L243.9,957.9 L245.6,967.1 L247.3,969.5 L249.0,973.9 L250.7,981.9 L252.4,986.6 L254.1,991.9 L255.8,997.8 L257.5,999.8 L259.2,1002.9 L260.9,1008.8 L262.6,1013.5 L264.3,1016.8 L266.0,1018.5 L267.7,1020.8 L269.4,1022.0 L271.1,1021.7 L272.7,1024.4 L274.4,1027.1 L276.1,1026.1 L277.8,1027.4 L279.5,1030.0 L281.2,1032.0 L282.9,1033.9 L284.6,1035.3 L286.3,1037.4 L288.0,1036.9 L289.7,1035.8 L291.4,1036.5 L293.1,1038.8 L294.8,1040.0 L296.5,1040.2 L298.2,1041.0 L299.9,1042.4 L301.6,1044.3 L303.3,1046.2 L305.0,1048.0 L306.6,1049.6 L308.3,1050.7 L310.0,1052.7 L311.7,1054.4 L313.4,1054.9 L315.1,1055.3 L316.8,1056.3 L318.5,1057.8 L320.2,1059.1 L321.9,1060.6 L323.6,1063.0 L325.3,1065.9 L327.0,1068.1 L328.7,1068.8 L330.4,1068.5 L332.1,1068.6 L333.8,1068.7 L335.5,1068.9 L337.2,1069.7 L338.9,1070.9 L340.5,1071.9 L342.2,1071.6 L343.9,1070.0 L345.6,1070.2 L347.3,1071.8 L349.0,1071.9 L350.7,1071.0 L352.4,1071.1 L354.1,1072.4 L355.8,1072.8 L357.5,1073.3 L359.2,1075.1 L360.9,1075.6 L362.6,1075.4 L364.3,1075.1 L366.0,1074.3 L367.7,1074.8 L369.4,1076.5 L371.1,1077.4 L372.8,1077.0 L374.4,1077.4 L376.1,1078.6 L377.8,1079.8 L379.5,1080.5 L381.2,1080.1 L382.9,1079.5 L384.6,1079.8 L386.3,1080.5 L388.0,1081.6 L389.7,1083.0 L391.4,1083.4 L393.1,1082.7 L394.8,1083.2 L396.5,1084.0 L398.2,1083.6 L399.9,1083.1 L401.6,1083.4 L403.3,1083.9 L405.0,1084.1 L406.7,1083.0 L408.3,1082.2 L410.0,1082.9 L411.7,1083.5 L413.4,1083.5 L415.1,1083.6 L416.8,1083.2 L418.5,1082.5 L420.2,1082.0 L421.9,1081.7 L423.6,1080.7 L425.3,1080.3 L427.0,1081.1 L428.7,1081.2 L430.4,1079.9 L432.1,1078.9 L433.8,1078.4 L435.5,1077.6 L437.2,1076.4 L438.9,1076.3 L440.6,1076.6 L442.2,1075.0 L443.9,1072.8 L445.6,1071.8 L447.3,1072.0 L449.0,1071.3 L450.7,1069.8 L452.4,1069.3 L454.1,1068.5 L455.8,1067.0 L457.5,1066.2 L459.2,1066.3 L460.9,1065.8 L462.6,1064.5 L464.3,1064.1 L466.0,1063.1 L467.7,1061.0 L469.4,1060.9 L471.1,1061.7 L472.8,1061.2 L474.4,1060.3 L476.1,1060.2 L477.8,1059.5 L479.5,1057.4 L481.2,1056.2 L482.9,1056.5 L484.6,1056.5 L486.3,1055.8 L488.0,1055.6 L489.7,1056.1 L491.4,1056.0 L493.1,1055.2 L494.8,1054.2 L496.5,1054.4 L498.2,1055.1 L499.9,1054.0 L501.6,1052.8 L503.3,1053.2 L505.0,1053.3 L506.7,1052.6 L508.4,1051.9 L510.0,1052.2 L511.7,1053.0 L513.4,1053.3 L515.1,1052.4 L516.8,1051.3 L518.5,1051.6 L520.2,1052.0 L521.9,1051.3 L523.6,1051.9 L525.3,1052.7 L527.0,1052.5 L528.7,1052.6 L530.4,1052.9 L532.1,1053.2 L533.8,1053.6 L535.5,1054.7 L537.2,1055.4 L538.9,1055.3 L540.6,1055.2 L542.2,1055.4 L543.9,1056.0 L545.6,1057.0 L547.3,1057.7 L549.0,1058.4 L550.7,1060.1 L552.4,1061.4 L554.1,1062.5 L555.8,1064.1 L557.5,1064.1 L559.2,1064.5 L560.9,1065.5 L562.6,1066.2 L564.3,1067.5 L566.0,1069.7 L567.7,1071.1 L569.4,1072.2 L571.1,1074.2 L572.8,1075.8 L574.5,1076.6 L576.2,1077.5 L577.8,1079.0 L579.5,1082.2 L581.2,1084.9 L582.9,1085.2 L584.6,1086.0 L586.3,1087.9 L588.0,1088.7 L589.7,1090.6 L591.4,1093.9 L593.1,1096.6 L594.8,1098.1 L596.5,1098.8 L598.2,1100.1 L599.9,1102.7 L601.6,1105.9 L603.3,1108.4 L605.0,1110.7 L606.7,1112.9 L608.4,1114.9 L610.0,1116.4 L611.7,1117.3 L613.4,1118.3 L615.1,1120.2 L616.8,1122.8 L618.5,1125.2 L620.2,1126.7 L621.9,1128.1 L623.6,1130.0 L625.3,1131.6 L627.0,1133.1 L628.7,1134.6 L630.4,1136.0 L632.1,1137.2 L633.8,1138.4 L635.5,1140.1 L637.2,1141.5 L638.9,1142.3 L640.6,1142.3 L642.3,1143.5 L644.0,1145.8 L645.6,1147.5 L647.3,1148.6 L649.0,1149.1 L650.7,1148.8 L652.4,1149.6 L654.1,1151.2 L655.8,1151.6 L657.5,1152.0 L659.2,1152.1 L660.9,1151.8 L662.6,1152.1 L664.3,1152.8 L666.0,1153.4 L667.7,1153.5 L669.4,1152.8 L671.1,1152.6 L672.8,1153.3 L674.5,1153.2 L676.2,1152.7 L677.9,1151.9 L679.5,1150.2 L681.2,1147.7 L682.9,1145.7 L684.6,1145.9 L686.3,1146.6 L688.0,1146.2 L689.7,1145.4 L691.4,1143.8 L693.1,1142.3 L694.8,1141.8 L696.5,1142.0 L698.2,1141.9 L699.9,1141.9 L701.6,1141.3 L703.3,1140.0 L705.0,1138.8 L706.7,1138.0 L708.4,1137.6 L710.1,1136.9 L711.8,1135.9 L713.4,1134.9 L715.1,1134.4 L716.8,1133.6 L718.5,1132.2 L720.2,1130.9 L721.9,1129.9 L723.6,1128.8 L725.3,1127.5 L727.0,1126.3 L728.7,1124.9 L730.4,1122.9 L732.1,1120.9 L733.8,1118.9 L735.5,1117.0 L737.2,1115.3 L738.9,1113.6 L740.6,1112.1 L742.3,1110.5 L744.0,1108.9 L745.6,1107.0 L747.3,1105.1 L749.0,1103.2 L750.7,1101.5 L752.4,1099.9 L754.1,1098.0 L755.8,1095.9 L757.5,1093.8 L759.2,1091.8 L760.9,1090.0 L762.6,1088.2 L764.3,1085.3 L766.0,1082.3 L767.7,1079.4 L769.4,1076.6 L771.1,1073.7 L772.8,1070.6 L774.5,1067.5 L776.2,1064.4 L777.9,1061.3 L779.6,1058.1 L781.2,1054.8 L782.9,1051.4 L784.6,1047.9 L786.3,1044.3 L788.0,1040.7 L789.7,1037.1 L791.4,1033.5 L793.1,1030.0 L794.8,1026.2 L796.5,1022.7 L798.2,1019.2 L799.9,1015.1 L801.6,1010.8 L803.3,1006.8 L805.0,1003.1 L806.7,999.3 L808.4,995.4 L810.1,991.7 L811.8,987.5 L813.5,983.3 L815.1,978.8 L816.8,974.6 L818.5,971.1 L820.2,967.4 L821.9,962.9 L823.6,958.3 L825.3,953.9 L827.0,949.9 L828.7,945.9 L830.4,941.5 L832.1,936.8 L833.8,932.2 L835.5,928.2 L837.2,924.1 L838.9,919.9 L840.6,915.8 L842.3,911.5 L844.0,907.2 L845.7,903.2 L847.4,899.1 L849.0,894.9 L850.7,891.4 L852.4,888.3 L854.1,884.6 L855.8,881.1 L857.5,878.0 L859.2,874.9 L860.9,871.6 L862.6,868.5 L864.3,865.4 L866.0,862.3 L867.7,858.9 L869.4,855.2 L871.1,851.3 L872.8,847.2 L874.5,843.6 L876.2,840.0 L877.9,836.2 L879.6,832.8 L881.2,829.5 L882.9,826.3 L884.6,823.3 L886.3,820.2 L888.0,816.7 L889.7,813.2 L891.4,810.2 L893.1,807.1 L894.8,803.6 L896.5,799.6 L898.2,796.3 L899.9,793.9 L901.6,791.5 L903.3,789.3 L905.0,787.4 L906.7,785.5 L908.4,783.8 L910.1,781.8 L911.8,780.3 L913.5,778.9 L915.1,777.2 L916.8,775.8 L918.5,775.2 L920.2,774.8 L921.9,774.2 L923.6,773.5 L925.3,772.8 L927.0,772.6 L928.7,773.1 L930.4,773.1 L932.1,773.1 L933.8,773.6 L935.5,774.8 L937.2,776.1 L938.9,777.2 L940.6,778.4 L942.3,780.0 L944.0,781.9 L945.7,784.2 L947.4,786.9 L949.1,789.6 L950.7,792.0 L952.4,795.8 L954.1,800.1 L955.8,804.8 L957.5,809.6 L959.2,814.2 L960.9,818.8 L962.6,823.6 L964.3,829.5 L966.0,835.7 L967.7,841.6 L969.4,848.0 L971.1,854.9 L972.8,861.8 L974.5,869.3 L976.2,877.5 L977.9,885.3 L979.6,892.5 L981.3,899.8 L983.0,907.8 L984.6,915.4 L986.3,922.7 L988.0,930.1 L989.7,937.1 L991.4,944.4 L993.1,951.8 L994.8,959.3 L996.5,967.8 L998.2,975.4 L999.9,982.7 L1001.6,991.2 L1003.3,1000.1 L1005.0,1008.6 L1006.7,1017.0 L1008.4,1025.8 L1010.1,1034.8 L1011.8,1043.5 L1013.5,1051.5 L1015.2,1058.8 L1016.9,1065.7 L1018.5,1072.3 L1020.2,1078.7 L1021.9,1085.2 L1023.6,1091.0 L1025.3,1096.4 L1027.0,1102.1 L1028.7,1108.1 L1030.4,1113.8 L1032.1,1118.9 L1033.8,1123.5 L1035.5,1128.1 L1037.2,1132.8 L1038.9,1137.3 L1040.6,1141.0 L1042.3,1144.2 L1044.0,1147.8 L1045.7,1151.5 L1047.4,1155.0 L1049.1,1158.2 L1050.8,1160.6 L1052.4,1162.9 L1054.1,1166.5 L1055.8,1170.2 L1057.5,1173.4 L1059.2,1176.5 L1060.9,1179.0 L1062.6,1180.8 L1064.3,1182.3 L1066.0,1184.0 L1067.7,1186.0 L1069.4,1187.3 L1071.1,1188.7 L1072.8,1190.5 L1074.5,1191.8 L1076.2,1192.8 L1077.9,1193.4 L1079.6,1193.8 L1081.3,1194.7 L1083.0,1195.6 L1084.7,1196.3 L1086.3,1196.6 L1088.0,1196.9 L1089.7,1197.6 L1091.4,1198.2 L1093.1,1198.4 L1094.8,1199.0 L1096.5,1199.7 L1098.2,1200.0 L1099.9,1200.2 L1101.6,1200.1 L1103.3,1200.2 L1105.0,1200.4 L1106.7,1200.8 L1108.4,1201.5 L1110.1,1201.9 L1111.8,1202.1 L1113.5,1202.1 L1115.2,1202.1 L1116.9,1202.5 L1118.6,1202.9 L1120.2,1202.9 L1121.9,1202.9 L1123.6,1202.9 L1125.3,1202.9 L1127.0,1202.9 L1128.7,1203.3 L1130.4,1203.9 L1132.1,1204.0 L1133.8,1203.8 L1135.5,1203.2 L1137.2,1203.0 L1138.9,1203.3 L1140.6,1203.7 L1142.3,1204.3 L1144.0,1204.6 L1145.7,1204.2 L1147.4,1204.0 L1149.1,1204.1 L1150.8,1203.8 L1152.5,1203.5 L1154.1,1203.2 L1155.8,1203.0 L1157.5,1203.3 L1159.2,1203.7 L1160.9,1203.7 L1162.6,1203.7 L1164.3,1203.8 L1166.0,1203.4 L1167.7,1203.3 L1169.4,1203.8 L1171.1,1203.4 L1172.8,1202.6 L1174.5,1202.8 L1176.2,1203.1 L1177.9,1202.9 L1179.6,1203.2 L1181.3,1203.4 L1183.0,1203.6 L1184.7,1203.8 L1186.4,1203.9 L1188.0,1204.0 L1189.7,1203.8 L1191.4,1203.7 L1193.1,1203.8 L1194.8,1203.6 L1196.5,1203.6 L1198.2,1203.7 L1199.9,1203.7 L1201.6,1203.8 L1203.3,1203.5 L1205.0,1203.0 L1206.7,1202.8 L1208.4,1202.9 L1210.1,1203.1 L1211.8,1203.4 L1213.5,1203.6 L1215.2,1203.7 L1216.9,1203.6 L1218.6,1203.6 L1220.2,1204.0 L1221.9,1204.2 L1223.6,1203.9 L1225.3,1203.7 L1227.0,1203.7 L1228.7,1203.7 L1230.4,1203.9 L1232.1,1204.2 L1233.8,1204.2 L1235.5,1204.1 L1237.2,1204.0 L1238.9,1203.7 L1240.6,1203.6 L1242.3,1204.2 L1244.0,1204.4 L1245.7,1203.9 L1247.4,1203.8 L1249.1,1203.5 L1250.8,1202.8 L1252.5,1202.8 L1254.2,1203.2 L1255.8,1203.3 L1257.5,1203.4 L1259.2,1203.5 L1260.9,1203.9 L1262.6,1204.1 L1264.3,1203.7 L1266.0,1203.1 L1267.7,1203.1 L1269.4,1203.5 L1271.1,1203.5 L1272.8,1203.4 L1274.5,1203.5 L1276.2,1203.5 L1277.9,1203.5 L1279.6,1203.7 L1281.3,1203.8 L1283.0,1203.7 L1284.7,1203.8 L1286.4,1204.1 L1288.0,1204.0 L1289.7,1203.5 L1291.4,1203.9 L1293.1,1204.6 L1294.8,1205.1 L1296.5,1205.0 L1298.2,1204.1 L1299.9,1203.7 L1301.6,1204.0 L1303.3,1204.3 L1305.0,1204.1 L1306.7,1203.6 L1308.4,1203.5"/>
<path d="M116.3,1016.5 L118.5,1014.5 L120.2,1011.2 L121.9,1009.8 L123.6,1009.6 L125.3,1008.7 L127.0,1006.7 L128.7,1002.6 L130.4,995.8 L132.1,991.8 L133.8,988.7 L135.4,983.0 L137.1,972.8 L138.8,964.7 L140.5,955.4 L142.2,946.4 L143.9,942.6 L145.6,938.3 L147.3,931.1 L149.0,926.0 L150.7,921.1 L152.4,914.4 L154.1,908.2 L155.8,903.4 L157.5,900.4 L159.2,896.2 L160.9,891.8 L162.6,887.7 L164.3,883.8 L166.0,879.7 L167.7,875.8 L169.3,876.0 L171.0,875.2 L172.7,867.9 L174.4,862.8 L176.1,864.4 L177.8,865.3 L179.5,862.8 L181.2,860.2 L182.9,858.9 L184.6,860.3 L186.3,860.3 L188.0,855.1 L189.7,855.2 L191.4,857.4 L193.1,854.5 L194.8,852.7 L196.5,854.5 L198.2,856.1 L199.9,853.9 L201.6,858.3 L203.2,863.3 L204.9,861.1 L206.6,862.2 L208.3,866.0 L210.0,870.0 L211.7,873.1 L213.4,873.0 L215.1,875.3 L216.8,879.1 L218.5,880.5 L220.2,885.4 L221.9,891.7 L223.6,895.0 L225.3,896.3 L227.0,899.7 L228.7,908.1 L230.4,914.2 L232.1,917.1 L233.8,923.7 L235.5,930.2 L237.2,937.0 L238.8,945.9 L240.5,953.5 L242.2,960.4 L243.9,964.6 L245.6,967.6 L247.3,974.5 L249.0,981.8 L250.7,985.7 L252.4,990.1 L254.1,994.5 L255.8,997.7 L257.5,1004.9 L259.2,1011.7 L260.9,1016.4 L262.6,1019.2 L264.3,1019.3 L266.0,1021.7 L267.7,1026.2 L269.4,1027.5 L271.1,1027.3 L272.7,1028.5 L274.4,1032.5 L276.1,1036.5 L277.8,1037.9 L279.5,1038.2 L281.2,1039.1 L282.9,1039.2 L284.6,1039.5 L286.3,1041.5 L288.0,1042.4 L289.7,1042.7 L291.4,1043.7 L293.1,1044.5 L294.8,1045.6 L296.5,1047.7 L298.2,1048.0 L299.9,1047.8 L301.6,1050.2 L303.3,1052.8 L305.0,1054.1 L306.6,1055.6 L308.3,1057.3 L310.0,1058.1 L311.7,1058.7 L313.4,1059.6 L315.1,1061.2 L316.8,1063.7 L318.5,1064.8 L320.2,1064.8 L321.9,1065.5 L323.6,1066.3 L325.3,1068.1 L327.0,1070.2 L328.7,1071.1 L330.4,1072.2 L332.1,1072.2 L333.8,1071.1 L335.5,1071.2 L337.2,1072.5 L338.9,1073.1 L340.5,1073.3 L342.2,1074.6 L343.9,1076.2 L345.6,1076.0 L347.3,1075.0 L349.0,1075.4 L350.7,1076.0 L352.4,1075.7 L354.1,1075.8 L355.8,1077.0 L357.5,1078.1 L359.2,1078.6 L360.9,1078.5 L362.6,1078.0 L364.3,1078.6 L366.0,1080.4 L367.7,1081.8 L369.4,1081.8 L371.1,1081.2 L372.8,1081.6 L374.4,1082.2 L376.1,1082.6 L377.8,1083.2 L379.5,1084.5 L381.2,1085.8 L382.9,1086.2 L384.6,1086.1 L386.3,1086.6 L388.0,1087.6 L389.7,1088.0 L391.4,1088.0 L393.1,1088.8 L394.8,1089.4 L396.5,1090.0 L398.2,1091.1 L399.9,1091.6 L401.6,1091.5 L403.3,1090.8 L405.0,1090.3 L406.7,1090.7 L408.3,1090.4 L410.0,1089.6 L411.7,1089.5 L413.4,1089.1 L415.1,1089.5 L416.8,1090.6 L418.5,1090.7 L420.2,1089.8 L421.9,1088.8 L423.6,1088.7 L425.3,1088.3 L427.0,1087.4 L428.7,1087.5 L430.4,1087.0 L432.1,1086.1 L433.8,1085.2 L435.5,1083.8 L437.2,1082.8 L438.9,1082.4 L440.6,1082.4 L442.2,1082.2 L443.9,1081.6 L445.6,1081.3 L447.3,1080.7 L449.0,1078.9 L450.7,1077.5 L452.4,1077.3 L454.1,1076.9 L455.8,1075.8 L457.5,1074.8 L459.2,1073.5 L460.9,1072.7 L462.6,1072.8 L464.3,1072.1 L466.0,1071.0 L467.7,1070.7 L469.4,1070.7 L471.1,1070.5 L472.8,1069.4 L474.4,1067.4 L476.1,1066.5 L477.8,1066.6 L479.5,1065.8 L481.2,1064.8 L482.9,1064.4 L484.6,1064.3 L486.3,1063.9 L488.0,1063.9 L489.7,1064.4 L491.4,1064.6 L493.1,1065.2 L494.8,1065.3 L496.5,1064.5 L498.2,1063.6 L499.9,1062.0 L501.6,1061.2 L503.3,1061.5 L505.0,1061.6 L506.7,1061.3 L508.4,1061.1 L510.0,1060.6 L511.7,1060.5 L513.4,1061.0 L515.1,1061.2 L516.8,1060.6 L518.5,1059.9 L520.2,1059.5 L521.9,1059.2 L523.6,1059.3 L525.3,1059.6 L527.0,1060.7 L528.7,1060.8 L530.4,1059.9 L532.1,1060.2 L533.8,1060.3 L535.5,1060.2 L537.2,1061.2 L538.9,1062.5 L540.6,1062.8 L542.2,1062.6 L543.9,1063.2 L545.6,1065.2 L547.3,1066.8 L549.0,1067.1 L550.7,1067.4 L552.4,1067.7 L554.1,1068.3 L555.8,1069.7 L557.5,1070.1 L559.2,1070.8 L560.9,1072.4 L562.6,1074.5 L564.3,1076.2 L566.0,1077.7 L567.7,1078.4 L569.4,1078.7 L571.1,1080.2 L572.8,1082.5 L574.5,1084.2 L576.2,1086.8 L577.8,1088.7 L579.5,1088.0 L581.2,1088.9 L582.9,1092.0 L584.6,1093.7 L586.3,1094.6 L588.0,1096.4 L589.7,1098.5 L591.4,1100.0 L593.1,1101.4 L594.8,1102.9 L596.5,1104.3 L598.2,1106.4 L599.9,1108.6 L601.6,1110.8 L603.3,1112.5 L605.0,1114.0 L606.7,1116.5 L608.4,1118.3 L610.0,1119.3 L611.7,1121.1 L613.4,1122.8 L615.1,1124.9 L616.8,1127.8 L618.5,1129.7 L620.2,1131.4 L621.9,1133.5 L623.6,1134.8 L625.3,1135.6 L627.0,1137.5 L628.7,1139.3 L630.4,1140.4 L632.1,1141.5 L633.8,1142.6 L635.5,1143.9 L637.2,1145.0 L638.9,1146.1 L640.6,1146.7 L642.3,1147.9 L644.0,1149.4 L645.6,1150.2 L647.3,1151.6 L649.0,1152.8 L650.7,1154.0 L652.4,1156.2 L654.1,1156.8 L655.8,1156.1 L657.5,1156.8 L659.2,1157.4 L660.9,1156.8 L662.6,1156.5 L664.3,1156.0 L666.0,1156.2 L667.7,1157.3 L669.4,1157.7 L671.1,1158.1 L672.8,1158.6 L674.5,1157.9 L676.2,1157.2 L677.9,1156.9 L679.5,1156.6 L681.2,1156.1 L682.9,1154.4 L684.6,1153.6 L686.3,1154.1 L688.0,1153.1 L689.7,1151.6 L691.4,1151.9 L693.1,1152.9 L694.8,1152.4 L696.5,1151.0 L698.2,1150.5 L699.9,1150.7 L701.6,1150.6 L703.3,1150.2 L705.0,1149.7 L706.7,1149.2 L708.4,1148.9 L710.1,1148.3 L711.8,1147.5 L713.4,1147.3 L715.1,1146.9 L716.8,1146.2 L718.5,1145.7 L720.2,1145.0 L721.9,1144.2 L723.6,1143.5 L725.3,1142.3 L727.0,1141.2 L728.7,1140.4 L730.4,1139.7 L732.1,1139.1 L733.8,1138.3 L735.5,1137.1 L737.2,1135.6 L738.9,1134.5 L740.6,1133.7 L742.3,1132.9 L744.0,1132.0 L745.6,1130.7 L747.3,1129.4 L749.0,1128.3 L750.7,1127.5 L752.4,1126.8 L754.1,1125.8 L755.8,1124.8 L757.5,1124.1 L759.2,1123.5 L760.9,1122.4 L762.6,1120.9 L764.3,1118.4 L766.0,1116.2 L767.7,1114.0 L769.4,1111.9 L771.1,1109.9 L772.8,1107.6 L774.5,1105.4 L776.2,1103.3 L777.9,1100.9 L779.6,1099.0 L781.2,1096.8 L782.9,1093.9 L784.6,1091.2 L786.3,1088.9 L788.0,1086.7 L789.7,1083.7 L791.4,1080.2 L793.1,1076.8 L794.8,1074.1 L796.5,1071.9 L798.2,1069.3 L799.9,1066.3 L801.6,1063.4 L803.3,1060.2 L805.0,1057.0 L806.7,1054.1 L808.4,1051.0 L810.1,1048.1 L811.8,1044.9 L813.5,1041.4 L815.1,1038.5 L816.8,1035.8 L818.5,1032.8 L820.2,1029.4 L821.9,1025.9 L823.6,1022.5 L825.3,1019.2 L827.0,1016.3 L828.7,1013.2 L830.4,1009.5 L832.1,1006.1 L833.8,1003.0 L835.5,1000.1 L837.2,997.5 L838.9,994.5 L840.6,991.0 L842.3,987.7 L844.0,985.0 L845.7,981.9 L847.4,978.4 L849.0,975.7 L850.7,973.0 L852.4,970.3 L854.1,968.0 L855.8,965.6 L857.5,963.1 L859.2,960.8 L860.9,958.7 L862.6,956.5 L864.3,954.1 L866.0,951.7 L867.7,949.0 L869.4,946.1 L871.1,943.3 L872.8,940.7 L874.5,938.0 L876.2,934.9 L877.9,932.3 L879.6,930.2 L881.2,927.4 L882.9,924.8 L884.6,922.8 L886.3,920.3 L888.0,917.7 L889.7,915.5 L891.4,912.9 L893.1,910.2 L894.8,908.1 L896.5,906.1 L898.2,903.9 L899.9,901.7 L901.6,899.3 L903.3,897.0 L905.0,895.6 L906.7,894.4 L908.4,892.7 L910.1,891.5 L911.8,890.6 L913.5,889.4 L915.1,888.6 L916.8,888.3 L918.5,887.8 L920.2,886.9 L921.9,886.1 L923.6,885.9 L925.3,885.5 L927.0,885.2 L928.7,885.1 L930.4,885.1 L932.1,885.5 L933.8,886.2 L935.5,886.9 L937.2,887.6 L938.9,888.6 L940.6,889.6 L942.3,890.5 L944.0,891.7 L945.7,893.3 L947.4,895.4 L949.1,897.9 L950.7,900.6 L952.4,903.8 L954.1,906.1 L955.8,908.0 L957.5,911.1 L959.2,915.0 L960.9,919.1 L962.6,923.2 L964.3,927.7 L966.0,932.6 L967.7,936.9 L969.4,941.0 L971.1,945.8 L972.8,951.3 L974.5,957.0 L976.2,962.8 L977.9,968.7 L979.6,974.5 L981.3,980.1 L983.0,985.3 L984.6,990.7 L986.3,995.9 L988.0,1001.0 L989.7,1006.8 L991.4,1012.7 L993.1,1018.4 L994.8,1024.1 L996.5,1029.5 L998.2,1035.2 L999.9,1041.2 L1001.6,1047.1 L1003.3,1053.4 L1005.0,1060.3 L1006.7,1066.8 L1008.4,1072.8 L1010.1,1079.2 L1011.8,1085.6 L1013.5,1091.9 L1015.2,1097.7 L1016.9,1102.9 L1018.5,1107.7 L1020.2,1112.5 L1021.9,1117.1 L1023.6,1121.1 L1025.3,1125.8 L1027.0,1130.6 L1028.7,1134.6 L1030.4,1138.4 L1032.1,1142.3 L1033.8,1145.7 L1035.5,1149.0 L1037.2,1152.3 L1038.9,1155.7 L1040.6,1158.9 L1042.3,1161.2 L1044.0,1163.5 L1045.7,1166.1 L1047.4,1168.3 L1049.1,1170.5 L1050.8,1173.0 L1052.4,1175.4 L1054.1,1177.9 L1055.8,1180.3 L1057.5,1182.3 L1059.2,1183.9 L1060.9,1185.6 L1062.6,1187.4 L1064.3,1189.0 L1066.0,1190.8 L1067.7,1192.1 L1069.4,1192.7 L1071.1,1193.3 L1072.8,1194.4 L1074.5,1195.6 L1076.2,1196.6 L1077.9,1197.0 L1079.6,1197.2 L1081.3,1198.2 L1083.0,1199.0 L1084.7,1198.9 L1086.3,1198.6 L1088.0,1198.9 L1089.7,1199.7 L1091.4,1200.5 L1093.1,1200.5 L1094.8,1200.5 L1096.5,1200.9 L1098.2,1201.1 L1099.9,1201.4 L1101.6,1201.5 L1103.3,1201.6 L1105.0,1201.6 L1106.7,1201.4 L1108.4,1201.8 L1110.1,1202.4 L1111.8,1202.7 L1113.5,1202.9 L1115.2,1203.2 L1116.9,1203.7 L1118.6,1203.8 L1120.2,1203.4 L1121.9,1203.7 L1123.6,1204.6 L1125.3,1204.6 L1127.0,1204.1 L1128.7,1203.7 L1130.4,1203.8 L1132.1,1204.0 L1133.8,1203.9 L1135.5,1204.0 L1137.2,1204.1 L1138.9,1203.9 L1140.6,1203.6 L1142.3,1203.5 L1144.0,1203.7 L1145.7,1204.1 L1147.4,1204.3 L1149.1,1204.5 L1150.8,1204.4 L1152.5,1204.3 L1154.1,1204.1 L1155.8,1203.8 L1157.5,1203.7 L1159.2,1203.8 L1160.9,1203.8 L1162.6,1203.7 L1164.3,1203.7 L1166.0,1203.7 L1167.7,1203.7 L1169.4,1203.8 L1171.1,1204.2 L1172.8,1204.6 L1174.5,1204.4 L1176.2,1203.7 L1177.9,1203.6 L1179.6,1203.9 L1181.3,1204.1 L1183.0,1203.8 L1184.7,1203.5 L1186.4,1204.0 L1188.0,1204.3 L1189.7,1204.3 L1191.4,1204.6 L1193.1,1204.7 L1194.8,1204.5 L1196.5,1204.3 L1198.2,1204.1 L1199.9,1204.1 L1201.6,1204.2 L1203.3,1203.9 L1205.0,1203.5 L1206.7,1203.8 L1208.4,1204.7 L1210.1,1204.9 L1211.8,1204.2 L1213.5,1203.9 L1215.2,1204.0 L1216.9,1203.8 L1218.6,1204.0 L1220.2,1204.2 L1221.9,1204.3 L1223.6,1204.2 L1225.3,1204.2 L1227.0,1204.1 L1228.7,1203.8 L1230.4,1204.1 L1232.1,1204.4 L1233.8,1204.0 L1235.5,1203.9 L1237.2,1204.2 L1238.9,1204.3 L1240.6,1204.1 L1242.3,1204.1 L1244.0,1204.0 L1245.7,1203.9 L1247.4,1203.8 L1249.1,1203.7 L1250.8,1204.1 L1252.5,1204.0 L1254.2,1203.3 L1255.8,1203.1 L1257.5,1203.7 L1259.2,1204.3 L1260.9,1204.2 L1262.6,1203.9 L1264.3,1204.0 L1266.0,1204.2 L1267.7,1203.9 L1269.4,1203.5 L1271.1,1203.4 L1272.8,1203.2 L1274.5,1203.4 L1276.2,1203.8 L1277.9,1203.9 L1279.6,1203.7 L1281.3,1203.5 L1283.0,1203.5 L1284.7,1203.6 L1286.4,1203.7 L1288.0,1203.6 L1289.7,1203.6 L1291.4,1204.1 L1293.1,1204.2 L1294.8,1203.7 L1296.5,1203.7 L1298.2,1204.1 L1299.9,1204.1 L1301.6,1204.3 L1303.3,1204.6 L1305.0,1204.6 L1306.7,1204.5 L1308.4,1204.2"/>
<path d="M116.3,1022.9 L118.5,1021.9 L120.2,1019.8 L121.9,1017.9 L123.6,1016.0 L125.3,1014.7 L127.0,1012.2 L128.7,1008.1 L130.4,1004.1 L132.1,1001.1 L133.8,997.0 L135.4,993.6 L137.1,985.2 L138.8,974.6 L140.5,964.8 L142.2,958.5 L143.9,954.3 L145.6,946.5 L147.3,938.4 L149.0,933.6 L150.7,928.2 L152.4,922.6 L154.1,918.0 L155.8,915.2 L157.5,913.0 L159.2,905.1 L160.9,897.0 L162.6,894.1 L164.3,891.7 L166.0,888.5 L167.7,884.3 L169.3,878.9 L171.0,872.2 L172.7,866.8 L174.4,867.7 L176.1,870.2 L177.8,871.2 L179.5,872.7 L181.2,870.0 L182.9,867.0 L184.6,865.9 L186.3,860.5 L188.0,859.0 L189.7,864.2 L191.4,866.5 L193.1,864.5 L194.8,861.4 L196.5,860.3 L198.2,862.7 L199.9,863.1 L201.6,863.1 L203.2,864.7 L204.9,868.2 L206.6,872.2 L208.3,873.9 L210.0,873.7 L211.7,872.8 L213.4,870.6 L215.1,870.2 L216.8,876.5 L218.5,882.4 L220.2,886.0 L221.9,892.3 L223.6,895.4 L225.3,897.6 L227.0,906.3 L228.7,914.1 L230.4,917.2 L232.1,921.5 L233.8,929.4 L235.5,937.4 L237.2,946.6 L238.8,954.1 L240.5,958.0 L242.2,964.6 L243.9,973.4 L245.6,981.0 L247.3,985.8 L249.0,988.6 L250.7,993.6 L252.4,999.6 L254.1,1004.9 L255.8,1009.8 L257.5,1014.2 L259.2,1020.0 L260.9,1025.4 L262.6,1027.3 L264.3,1028.6 L266.0,1030.5 L267.7,1034.1 L269.4,1037.7 L271.1,1038.4 L272.7,1038.8 L274.4,1040.5 L276.1,1041.5 L277.8,1043.2 L279.5,1044.3 L281.2,1044.9 L282.9,1046.3 L284.6,1047.1 L286.3,1048.7 L288.0,1050.6 L289.7,1051.7 L291.4,1052.6 L293.1,1053.2 L294.8,1054.1 L296.5,1055.1 L298.2,1054.9 L299.9,1055.2 L301.6,1057.1 L303.3,1060.1 L305.0,1062.5 L306.6,1062.8 L308.3,1063.0 L310.0,1064.0 L311.7,1065.3 L313.4,1066.3 L315.1,1067.6 L316.8,1068.6 L318.5,1069.0 L320.2,1070.5 L321.9,1071.3 L323.6,1072.0 L325.3,1073.8 L327.0,1074.5 L328.7,1074.8 L330.4,1076.0 L332.1,1076.6 L333.8,1077.0 L335.5,1077.5 L337.2,1077.8 L338.9,1078.6 L340.5,1078.8 L342.2,1078.6 L343.9,1078.9 L345.6,1079.9 L347.3,1080.9 L349.0,1080.5 L350.7,1079.8 L352.4,1080.2 L354.1,1081.5 L355.8,1082.9 L357.5,1083.4 L359.2,1083.0 L360.9,1083.0 L362.6,1083.7 L364.3,1084.4 L366.0,1085.1 L367.7,1085.9 L369.4,1087.0 L371.1,1087.8 L372.8,1088.2 L374.4,1088.1 L376.1,1088.6 L377.8,1090.1 L379.5,1091.0 L381.2,1091.8 L382.9,1092.9 L384.6,1093.6 L386.3,1093.6 L388.0,1093.0 L389.7,1093.4 L391.4,1095.0 L393.1,1095.9 L394.8,1096.2 L396.5,1096.9 L398.2,1097.0 L399.9,1096.8 L401.6,1097.4 L403.3,1098.0 L405.0,1097.7 L406.7,1097.1 L408.3,1097.6 L410.0,1098.1 L411.7,1098.5 L413.4,1098.3 L415.1,1097.9 L416.8,1097.7 L418.5,1097.4 L420.2,1097.9 L421.9,1099.3 L423.6,1099.3 L425.3,1097.9 L427.0,1096.6 L428.7,1095.6 L430.4,1095.5 L432.1,1095.4 L433.8,1094.4 L435.5,1093.7 L437.2,1093.4 L438.9,1092.8 L440.6,1091.2 L442.2,1090.3 L443.9,1089.8 L445.6,1088.9 L447.3,1088.7 L449.0,1088.9 L450.7,1089.3 L452.4,1088.1 L454.1,1085.1 L455.8,1083.5 L457.5,1084.2 L459.2,1084.9 L460.9,1083.8 L462.6,1082.5 L464.3,1082.0 L466.0,1081.7 L467.7,1081.5 L469.4,1081.1 L471.1,1080.6 L472.8,1079.5 L474.4,1078.5 L476.1,1078.2 L477.8,1077.6 L479.5,1076.7 L481.2,1075.7 L482.9,1074.8 L484.6,1074.5 L486.3,1074.9 L488.0,1075.3 L489.7,1074.5 L491.4,1073.7 L493.1,1073.9 L494.8,1074.1 L496.5,1073.2 L498.2,1072.2 L499.9,1072.4 L501.6,1072.4 L503.3,1071.2 L505.0,1070.3 L506.7,1070.1 L508.4,1070.0 L510.0,1070.3 L511.7,1070.7 L513.4,1070.9 L515.1,1070.9 L516.8,1070.5 L518.5,1069.9 L520.2,1069.6 L521.9,1069.5 L523.6,1069.3 L525.3,1070.1 L527.0,1071.0 L528.7,1071.2 L530.4,1071.5 L532.1,1071.8 L533.8,1071.5 L535.5,1072.2 L537.2,1073.0 L538.9,1072.6 L540.6,1072.1 L542.2,1072.4 L543.9,1073.0 L545.6,1074.1 L547.3,1075.0 L549.0,1075.1 L550.7,1075.6 L552.4,1077.0 L554.1,1078.4 L555.8,1079.3 L557.5,1079.9 L559.2,1080.5 L560.9,1080.6 L562.6,1080.7 L564.3,1081.6 L566.0,1083.1 L567.7,1084.5 L569.4,1085.2 L571.1,1085.2 L572.8,1086.3 L574.5,1088.3 L576.2,1090.9 L577.8,1092.9 L579.5,1094.2 L581.2,1096.1 L582.9,1098.2 L584.6,1099.9 L586.3,1100.8 L588.0,1102.0 L589.7,1103.7 L591.4,1106.3 L593.1,1108.4 L594.8,1108.7 L596.5,1109.8 L598.2,1113.0 L599.9,1115.3 L601.6,1116.6 L603.3,1118.7 L605.0,1120.4 L606.7,1120.8 L608.4,1122.6 L610.0,1126.2 L611.7,1128.7 L613.4,1129.0 L615.1,1129.5 L616.8,1131.5 L618.5,1134.2 L620.2,1137.0 L621.9,1139.3 L623.6,1140.5 L625.3,1140.6 L627.0,1142.5 L628.7,1145.9 L630.4,1147.2 L632.1,1146.9 L633.8,1147.8 L635.5,1149.2 L637.2,1149.5 L638.9,1150.0 L640.6,1152.5 L642.3,1155.0 L644.0,1156.2 L645.6,1157.3 L647.3,1158.1 L649.0,1158.5 L650.7,1159.9 L652.4,1161.4 L654.1,1161.9 L655.8,1162.0 L657.5,1162.1 L659.2,1162.3 L660.9,1162.7 L662.6,1163.0 L664.3,1163.1 L666.0,1163.8 L667.7,1164.4 L669.4,1164.7 L671.1,1165.0 L672.8,1164.5 L674.5,1163.2 L676.2,1163.4 L677.9,1163.9 L679.5,1163.7 L681.2,1163.3 L682.9,1162.6 L684.6,1162.6 L686.3,1162.8 L688.0,1163.0 L689.7,1162.8 L691.4,1161.7 L693.1,1160.7 L694.8,1161.5 L696.5,1161.2 L698.2,1160.5 L699.9,1160.3 L701.6,1160.9 L703.3,1160.9 L705.0,1160.3 L706.7,1160.1 L708.4,1160.5 L710.1,1160.6 L711.8,1160.0 L713.4,1159.3 L715.1,1158.9 L716.8,1158.7 L718.5,1158.6 L720.2,1158.2 L721.9,1157.7 L723.6,1157.4 L725.3,1157.1 L727.0,1156.8 L728.7,1156.3 L730.4,1155.6 L732.1,1155.2 L733.8,1154.8 L735.5,1154.0 L737.2,1153.4 L738.9,1153.2 L740.6,1152.8 L742.3,1151.7 L744.0,1151.0 L745.6,1151.3 L747.3,1151.5 L749.0,1151.0 L750.7,1150.6 L752.4,1150.3 L754.1,1149.6 L755.8,1148.6 L757.5,1147.9 L759.2,1147.4 L760.9,1147.2 L762.6,1146.9 L764.3,1145.5 L766.0,1144.2 L767.7,1143.1 L769.4,1141.4 L771.1,1139.4 L772.8,1137.8 L774.5,1136.7 L776.2,1135.2 L777.9,1133.4 L779.6,1131.5 L781.2,1129.7 L782.9,1128.1 L784.6,1126.5 L786.3,1125.0 L788.0,1123.2 L789.7,1120.9 L791.4,1118.2 L793.1,1115.8 L794.8,1113.9 L796.5,1111.6 L798.2,1109.2 L799.9,1107.6 L801.6,1106.0 L803.3,1104.0 L805.0,1101.9 L806.7,1099.6 L808.4,1097.0 L810.1,1094.4 L811.8,1092.0 L813.5,1090.0 L815.1,1087.6 L816.8,1085.1 L818.5,1082.9 L820.2,1080.9 L821.9,1078.9 L823.6,1076.1 L825.3,1073.2 L827.0,1071.1 L828.7,1069.1 L830.4,1066.7 L832.1,1064.2 L833.8,1061.9 L835.5,1059.6 L837.2,1057.4 L838.9,1055.2 L840.6,1052.5 L842.3,1049.9 L844.0,1048.2 L845.7,1046.3 L847.4,1044.0 L849.0,1042.0 L850.7,1040.4 L852.4,1038.7 L854.1,1036.5 L855.8,1034.7 L857.5,1033.0 L859.2,1031.0 L860.9,1029.4 L862.6,1028.2 L864.3,1026.8 L866.0,1025.2 L867.7,1023.2 L869.4,1021.1 L871.1,1018.7 L872.8,1016.5 L874.5,1015.0 L876.2,1013.3 L877.9,1011.3 L879.6,1009.2 L881.2,1007.2 L882.9,1005.3 L884.6,1003.7 L886.3,1001.8 L888.0,999.7 L889.7,997.9 L891.4,996.6 L893.1,995.0 L894.8,993.4 L896.5,991.6 L898.2,989.5 L899.9,987.9 L901.6,986.8 L903.3,985.7 L905.0,984.9 L906.7,983.8 L908.4,982.2 L910.1,981.3 L911.8,980.6 L913.5,979.7 L915.1,979.1 L916.8,978.7 L918.5,978.3 L920.2,977.8 L921.9,977.4 L923.6,977.0 L925.3,976.5 L927.0,976.7 L928.7,976.8 L930.4,976.8 L932.1,977.1 L933.8,977.3 L935.5,977.9 L937.2,978.6 L938.9,979.2 L940.6,979.8 L942.3,980.3 L944.0,981.2 L945.7,982.8 L947.4,984.6 L949.1,986.1 L950.7,987.7 L952.4,989.5 L954.1,991.2 L955.8,993.4 L957.5,995.9 L959.2,998.2 L960.9,1000.8 L962.6,1004.0 L964.3,1007.7 L966.0,1010.8 L967.7,1014.0 L969.4,1017.5 L971.1,1021.0 L972.8,1025.1 L974.5,1029.3 L976.2,1033.0 L977.9,1036.5 L979.6,1040.1 L981.3,1044.6 L983.0,1049.2 L984.6,1053.2 L986.3,1056.8 L988.0,1060.4 L989.7,1064.5 L991.4,1068.8 L993.1,1073.0 L994.8,1077.0 L996.5,1080.9 L998.2,1085.4 L999.9,1089.6 L1001.6,1093.1 L1003.3,1097.3 L1005.0,1102.1 L1006.7,1107.0 L1008.4,1111.8 L1010.1,1116.3 L1011.8,1120.6 L1013.5,1124.6 L1015.2,1129.0 L1016.9,1133.2 L1018.5,1136.1 L1020.2,1139.1 L1021.9,1142.7 L1023.6,1146.0 L1025.3,1149.3 L1027.0,1152.9 L1028.7,1155.9 L1030.4,1158.1 L1032.1,1160.6 L1033.8,1163.4 L1035.5,1166.1 L1037.2,1168.4 L1038.9,1170.2 L1040.6,1172.4 L1042.3,1174.8 L1044.0,1176.6 L1045.7,1178.0 L1047.4,1179.5 L1049.1,1181.4 L1050.8,1183.3 L1052.4,1184.9 L1054.1,1186.2 L1055.8,1188.0 L1057.5,1189.4 L1059.2,1190.5 L1060.9,1192.3 L1062.6,1194.0 L1064.3,1194.9 L1066.0,1195.2 L1067.7,1195.5 L1069.4,1196.5 L1071.1,1197.4 L1072.8,1197.7 L1074.5,1198.3 L1076.2,1199.0 L1077.9,1199.2 L1079.6,1199.4 L1081.3,1200.3 L1083.0,1201.1 L1084.7,1200.8 L1086.3,1200.6 L1088.0,1200.7 L1089.7,1200.8 L1091.4,1201.4 L1093.1,1201.9 L1094.8,1201.9 L1096.5,1201.8 L1098.2,1202.0 L1099.9,1202.2 L1101.6,1202.3 L1103.3,1202.6 L1105.0,1203.0 L1106.7,1203.4 L1108.4,1203.4 L1110.1,1203.3 L1111.8,1203.5 L1113.5,1203.6 L1115.2,1203.6 L1116.9,1203.5 L1118.6,1203.3 L1120.2,1203.3 L1121.9,1203.4 L1123.6,1203.8 L1125.3,1204.4 L1127.0,1204.7 L1128.7,1204.6 L1130.4,1204.7 L1132.1,1204.6 L1133.8,1204.3 L1135.5,1204.5 L1137.2,1204.3 L1138.9,1204.1 L1140.6,1203.9 L1142.3,1203.6 L1144.0,1204.0 L1145.7,1204.3 L1147.4,1204.0 L1149.1,1204.5 L1150.8,1205.0 L1152.5,1204.9 L1154.1,1204.6 L1155.8,1204.4 L1157.5,1204.5 L1159.2,1204.7 L1160.9,1204.1 L1162.6,1203.8 L1164.3,1204.3 L1166.0,1204.4 L1167.7,1204.0 L1169.4,1204.0 L1171.1,1204.5 L1172.8,1204.9 L1174.5,1204.6 L1176.2,1204.1 L1177.9,1204.2 L1179.6,1205.2 L1181.3,1205.5 L1183.0,1205.2 L1184.7,1204.9 L1186.4,1204.4 L1188.0,1203.9 L1189.7,1203.6 L1191.4,1203.8 L1193.1,1204.0 L1194.8,1204.1 L1196.5,1204.6 L1198.2,1204.9 L1199.9,1204.4 L1201.6,1204.3 L1203.3,1204.6 L1205.0,1204.2 L1206.7,1204.0 L1208.4,1204.3 L1210.1,1204.4 L1211.8,1204.4 L1213.5,1204.3 L1215.2,1204.2 L1216.9,1204.3 L1218.6,1204.0 L1220.2,1203.8 L1221.9,1204.2 L1223.6,1205.1 L1225.3,1205.1 L1227.0,1204.5 L1228.7,1204.5 L1230.4,1204.7 L1232.1,1204.9 L1233.8,1204.9 L1235.5,1204.7 L1237.2,1204.7 L1238.9,1204.6 L1240.6,1204.5 L1242.3,1204.5 L1244.0,1204.5 L1245.7,1204.5 L1247.4,1204.1 L1249.1,1204.3 L1250.8,1204.2 L1252.5,1204.0 L1254.2,1204.1 L1255.8,1204.2 L1257.5,1204.5 L1259.2,1204.8 L1260.9,1204.3 L1262.6,1204.1 L1264.3,1204.6 L1266.0,1205.0 L1267.7,1204.7 L1269.4,1204.3 L1271.1,1204.1 L1272.8,1203.9 L1274.5,1204.0 L1276.2,1204.4 L1277.9,1204.5 L1279.6,1204.0 L1281.3,1203.9 L1283.0,1204.1 L1284.7,1204.3 L1286.4,1204.4 L1288.0,1204.1 L1289.7,1203.7 L1291.4,1203.6 L1293.1,1203.7 L1294.8,1203.7 L1296.5,1204.1 L1298.2,1204.3 L1299.9,1204.2 L1301.6,1204.0 L1303.3,1204.0 L1305.0,1203.8 L1306.7,1204.0 L1308.4,1204.7"/>
<path d="M116.3,1027.6 L118.5,1028.3 L120.2,1028.5 L121.9,1027.6 L123.6,1025.8 L125.3,1023.8 L127.0,1020.3 L128.7,1015.8 L130.4,1010.9 L132.1,1007.5 L133.8,1003.0 L135.4,997.2 L137.1,989.4 L138.8,983.3 L140.5,977.3 L142.2,971.8 L143.9,965.8 L145.6,958.3 L147.3,952.5 L149.0,948.2 L150.7,941.2 L152.4,933.7 L154.1,929.5 L155.8,925.8 L157.5,919.6 L159.2,910.4 L160.9,904.3 L162.6,902.9 L164.3,898.6 L166.0,891.4 L167.7,888.6 L169.3,889.2 L171.0,887.4 L172.7,878.9 L174.4,871.5 L176.1,869.1 L177.8,865.9 L179.5,867.8 L181.2,868.8 L182.9,866.2 L184.6,867.2 L186.3,869.4 L188.0,872.8 L189.7,874.6 L191.4,872.1 L193.1,869.9 L194.8,872.6 L196.5,873.1 L198.2,868.1 L199.9,865.7 L201.6,868.3 L203.2,872.5 L204.9,873.1 L206.6,869.1 L208.3,870.1 L210.0,871.6 L211.7,871.2 L213.4,874.5 L215.1,880.3 L216.8,886.6 L218.5,889.7 L220.2,891.8 L221.9,896.4 L223.6,901.4 L225.3,904.8 L227.0,909.0 L228.7,915.1 L230.4,920.8 L232.1,926.3 L233.8,933.8 L235.5,941.9 L237.2,951.0 L238.8,959.9 L240.5,966.9 L242.2,972.5 L243.9,977.2 L245.6,984.2 L247.3,993.4 L249.0,1000.8 L250.7,1005.0 L252.4,1008.4 L254.1,1014.0 L255.8,1018.9 L257.5,1023.1 L259.2,1028.2 L260.9,1031.5 L262.6,1033.8 L264.3,1037.8 L266.0,1040.8 L267.7,1041.2 L269.4,1042.4 L271.1,1046.2 L272.7,1047.2 L274.4,1045.9 L276.1,1046.5 L277.8,1050.3 L279.5,1053.1 L281.2,1052.4 L282.9,1052.1 L284.6,1054.2 L286.3,1055.4 L288.0,1057.1 L289.7,1060.3 L291.4,1061.6 L293.1,1060.6 L294.8,1061.3 L296.5,1063.2 L298.2,1063.7 L299.9,1064.6 L301.6,1066.2 L303.3,1067.7 L305.0,1069.0 L306.6,1069.9 L308.3,1070.5 L310.0,1070.7 L311.7,1070.8 L313.4,1072.6 L315.1,1074.7 L316.8,1074.6 L318.5,1074.6 L320.2,1075.7 L321.9,1076.9 L323.6,1078.0 L325.3,1079.4 L327.0,1080.6 L328.7,1081.6 L330.4,1082.4 L332.1,1082.8 L333.8,1084.3 L335.5,1085.1 L337.2,1084.1 L338.9,1083.9 L340.5,1084.2 L342.2,1084.4 L343.9,1085.2 L345.6,1085.9 L347.3,1085.7 L349.0,1085.5 L350.7,1085.2 L352.4,1085.6 L354.1,1087.3 L355.8,1088.1 L357.5,1088.4 L359.2,1089.8 L360.9,1091.0 L362.6,1090.9 L364.3,1090.6 L366.0,1091.2 L367.7,1092.1 L369.4,1092.9 L371.1,1093.6 L372.8,1094.6 L374.4,1095.3 L376.1,1095.3 L377.8,1095.2 L379.5,1096.0 L381.2,1097.7 L382.9,1097.8 L384.6,1097.2 L386.3,1098.4 L388.0,1100.6 L389.7,1102.1 L391.4,1102.7 L393.1,1102.8 L394.8,1103.1 L396.5,1103.6 L398.2,1104.5 L399.9,1106.2 L401.6,1107.4 L403.3,1107.7 L405.0,1107.4 L406.7,1106.5 L408.3,1105.1 L410.0,1104.2 L411.7,1105.0 L413.4,1105.7 L415.1,1105.7 L416.8,1106.4 L418.5,1106.2 L420.2,1105.6 L421.9,1105.7 L423.6,1106.3 L425.3,1107.4 L427.0,1107.4 L428.7,1106.5 L430.4,1105.4 L432.1,1104.4 L433.8,1103.7 L435.5,1103.7 L437.2,1103.4 L438.9,1102.5 L440.6,1102.5 L442.2,1102.9 L443.9,1102.2 L445.6,1100.5 L447.3,1098.6 L449.0,1098.3 L450.7,1098.7 L452.4,1098.0 L454.1,1097.5 L455.8,1097.7 L457.5,1097.5 L459.2,1097.0 L460.9,1096.6 L462.6,1096.1 L464.3,1094.9 L466.0,1093.7 L467.7,1093.1 L469.4,1091.7 L471.1,1090.3 L472.8,1089.8 L474.4,1089.2 L476.1,1088.0 L477.8,1087.1 L479.5,1087.0 L481.2,1087.7 L482.9,1087.9 L484.6,1087.4 L486.3,1086.5 L488.0,1085.7 L489.7,1084.9 L491.4,1084.2 L493.1,1083.7 L494.8,1082.8 L496.5,1082.8 L498.2,1083.4 L499.9,1083.9 L501.6,1084.2 L503.3,1082.6 L505.0,1081.6 L506.7,1082.3 L508.4,1082.0 L510.0,1080.6 L511.7,1080.8 L513.4,1081.1 L515.1,1080.4 L516.8,1080.9 L518.5,1081.0 L520.2,1080.6 L521.9,1080.6 L523.6,1080.2 L525.3,1079.7 L527.0,1080.0 L528.7,1080.5 L530.4,1080.0 L532.1,1079.4 L533.8,1079.8 L535.5,1080.5 L537.2,1080.3 L538.9,1080.5 L540.6,1081.7 L542.2,1082.8 L543.9,1083.1 L545.6,1083.7 L547.3,1085.4 L549.0,1086.6 L550.7,1086.3 L552.4,1085.8 L554.1,1086.2 L555.8,1087.0 L557.5,1087.8 L559.2,1089.1 L560.9,1090.2 L562.6,1091.0 L564.3,1091.4 L566.0,1092.4 L567.7,1094.2 L569.4,1095.6 L571.1,1096.3 L572.8,1097.8 L574.5,1098.9 L576.2,1099.9 L577.8,1101.9 L579.5,1103.2 L581.2,1103.6 L582.9,1104.9 L584.6,1107.0 L586.3,1108.4 L588.0,1110.1 L589.7,1112.9 L591.4,1115.5 L593.1,1116.2 L594.8,1115.9 L596.5,1117.2 L598.2,1120.0 L599.9,1121.8 L601.6,1123.2 L603.3,1124.9 L605.0,1125.7 L606.7,1126.9 L608.4,1129.7 L610.0,1132.3 L611.7,1134.4 L613.4,1136.5 L615.1,1138.3 L616.8,1139.9 L618.5,1141.4 L620.2,1142.8 L621.9,1144.7 L623.6,1146.2 L625.3,1147.0 L627.0,1148.9 L628.7,1149.5 L630.4,1150.0 L632.1,1151.9 L633.8,1152.7 L635.5,1153.5 L637.2,1156.2 L638.9,1158.1 L640.6,1158.2 L642.3,1159.3 L644.0,1160.7 L645.6,1161.4 L647.3,1162.7 L649.0,1163.8 L650.7,1165.0 L652.4,1166.5 L654.1,1167.8 L655.8,1168.5 L657.5,1169.0 L659.2,1169.2 L660.9,1169.0 L662.6,1169.3 L664.3,1169.2 L666.0,1169.2 L667.7,1170.8 L669.4,1172.1 L671.1,1171.7 L672.8,1170.7 L674.5,1169.9 L676.2,1169.6 L677.9,1170.0 L679.5,1170.4 L681.2,1170.8 L682.9,1170.8 L684.6,1169.8 L686.3,1169.3 L688.0,1169.8 L689.7,1170.2 L691.4,1170.4 L693.1,1170.4 L694.8,1170.5 L696.5,1170.4 L698.2,1170.1 L699.9,1169.7 L701.6,1169.7 L703.3,1170.2 L705.0,1170.5 L706.7,1170.5 L708.4,1170.5 L710.1,1170.8 L711.8,1171.1 L713.4,1171.2 L715.1,1171.0 L716.8,1171.0 L718.5,1171.2 L720.2,1171.1 L721.9,1170.6 L723.6,1170.2 L725.3,1170.1 L727.0,1169.8 L728.7,1169.5 L730.4,1169.6 L732.1,1169.8 L733.8,1170.1 L735.5,1170.2 L737.2,1169.8 L738.9,1169.4 L740.6,1169.2 L742.3,1168.6 L744.0,1168.4 L745.6,1168.6 L747.3,1168.8 L749.0,1169.2 L750.7,1169.4 L752.4,1169.1 L754.1,1168.9 L755.8,1169.0 L757.5,1168.8 L759.2,1168.2 L760.9,1168.2 L762.6,1168.2 L764.3,1167.3 L766.0,1166.5 L767.7,1165.8 L769.4,1165.1 L771.1,1164.0 L772.8,1162.6 L774.5,1161.9 L776.2,1161.3 L777.9,1160.2 L779.6,1158.6 L781.2,1156.8 L782.9,1155.4 L784.6,1154.1 L786.3,1152.7 L788.0,1151.6 L789.7,1150.5 L791.4,1149.4 L793.1,1148.0 L794.8,1146.4 L796.5,1144.8 L798.2,1143.1 L799.9,1141.1 L801.6,1139.5 L803.3,1138.4 L805.0,1136.9 L806.7,1134.8 L808.4,1132.9 L810.1,1131.6 L811.8,1130.2 L813.5,1128.1 L815.1,1126.5 L816.8,1125.2 L818.5,1123.6 L820.2,1122.0 L821.9,1119.9 L823.6,1117.7 L825.3,1116.2 L827.0,1114.8 L828.7,1113.3 L830.4,1111.4 L832.1,1109.3 L833.8,1107.9 L835.5,1107.0 L837.2,1105.6 L838.9,1103.7 L840.6,1101.7 L842.3,1100.3 L844.0,1099.1 L845.7,1098.1 L847.4,1096.7 L849.0,1094.9 L850.7,1093.7 L852.4,1092.8 L854.1,1091.6 L855.8,1090.4 L857.5,1089.4 L859.2,1088.1 L860.9,1086.4 L862.6,1085.1 L864.3,1084.0 L866.0,1083.0 L867.7,1081.8 L869.4,1080.3 L871.1,1078.8 L872.8,1077.4 L874.5,1076.4 L876.2,1075.5 L877.9,1074.4 L879.6,1073.1 L881.2,1071.7 L882.9,1070.6 L884.6,1069.2 L886.3,1067.5 L888.0,1066.6 L889.7,1066.2 L891.4,1065.1 L893.1,1063.7 L894.8,1061.9 L896.5,1060.5 L898.2,1059.6 L899.9,1058.5 L901.6,1057.4 L903.3,1056.3 L905.0,1055.5 L906.7,1055.0 L908.4,1054.5 L910.1,1054.1 L911.8,1053.8 L913.5,1053.4 L915.1,1052.7 L916.8,1052.2 L918.5,1051.9 L920.2,1051.6 L921.9,1051.4 L923.6,1051.5 L925.3,1051.1 L927.0,1050.6 L928.7,1050.5 L930.4,1050.6 L932.1,1051.3 L933.8,1051.8 L935.5,1051.6 L937.2,1051.7 L938.9,1052.3 L940.6,1052.5 L942.3,1052.8 L944.0,1053.6 L945.7,1054.8 L947.4,1056.1 L949.1,1057.4 L950.7,1058.2 L952.4,1059.2 L954.1,1060.5 L955.8,1062.5 L957.5,1064.4 L959.2,1065.9 L960.9,1067.8 L962.6,1070.3 L964.3,1071.9 L966.0,1073.2 L967.7,1075.6 L969.4,1078.5 L971.1,1080.7 L972.8,1082.8 L974.5,1085.6 L976.2,1088.7 L977.9,1091.5 L979.6,1094.0 L981.3,1096.6 L983.0,1099.2 L984.6,1102.0 L986.3,1104.8 L988.0,1107.3 L989.7,1110.1 L991.4,1113.0 L993.1,1115.9 L994.8,1118.7 L996.5,1121.4 L998.2,1124.3 L999.9,1126.8 L1001.6,1129.3 L1003.3,1132.1 L1005.0,1135.5 L1006.7,1139.0 L1008.4,1142.1 L1010.1,1145.1 L1011.8,1148.3 L1013.5,1151.5 L1015.2,1154.2 L1016.9,1156.7 L1018.5,1159.1 L1020.2,1161.5 L1021.9,1163.7 L1023.6,1166.3 L1025.3,1168.9 L1027.0,1170.8 L1028.7,1172.4 L1030.4,1174.4 L1032.1,1176.7 L1033.8,1178.4 L1035.5,1179.8 L1037.2,1181.1 L1038.9,1182.6 L1040.6,1184.3 L1042.3,1185.7 L1044.0,1186.7 L1045.7,1187.6 L1047.4,1188.7 L1049.1,1189.9 L1050.8,1191.1 L1052.4,1192.4 L1054.1,1193.4 L1055.8,1194.3 L1057.5,1195.5 L1059.2,1196.6 L1060.9,1197.6 L1062.6,1198.3 L1064.3,1198.7 L1066.0,1198.6 L1067.7,1198.7 L1069.4,1199.6 L1071.1,1200.3 L1072.8,1200.7 L1074.5,1200.9 L1076.2,1201.1 L1077.9,1201.4 L1079.6,1201.4 L1081.3,1201.2 L1083.0,1201.8 L1084.7,1202.6 L1086.3,1202.6 L1088.0,1202.8 L1089.7,1203.4 L1091.4,1203.4 L1093.1,1203.2 L1094.8,1203.2 L1096.5,1203.4 L1098.2,1203.5 L1099.9,1203.2 L1101.6,1202.9 L1103.3,1203.2 L1105.0,1203.5 L1106.7,1203.7 L1108.4,1203.6 L1110.1,1203.4 L1111.8,1203.2 L1113.5,1203.3 L1115.2,1203.6 L1116.9,1203.8 L1118.6,1204.1 L1120.2,1204.4 L1121.9,1204.5 L1123.6,1204.3 L1125.3,1204.2 L1127.0,1204.0 L1128.7,1203.9 L1130.4,1204.2 L1132.1,1204.2 L1133.8,1204.2 L1135.5,1204.4 L1137.2,1204.6 L1138.9,1204.4 L1140.6,1204.2 L1142.3,1204.1 L1144.0,1204.3 L1145.7,1204.5 L1147.4,1204.3 L1149.1,1204.2 L1150.8,1204.4 L1152.5,1204.6 L1154.1,1204.6 L1155.8,1204.3 L1157.5,1204.0 L1159.2,1204.4 L1160.9,1204.7 L1162.6,1204.6 L1164.3,1204.3 L1166.0,1204.4 L1167.7,1204.9 L1169.4,1205.0 L1171.1,1204.9 L1172.8,1204.8 L1174.5,1204.7 L1176.2,1205.1 L1177.9,1205.3 L1179.6,1205.2 L1181.3,1204.8 L1183.0,1204.3 L1184.7,1204.1 L1186.4,1204.1 L1188.0,1204.5 L1189.7,1205.0 L1191.4,1205.0 L1193.1,1205.1 L1194.8,1205.0 L1196.5,1204.8 L1198.2,1204.7 L1199.9,1204.6 L1201.6,1204.5 L1203.3,1204.1 L1205.0,1204.0 L1206.7,1204.0 L1208.4,1204.0 L1210.1,1204.2 L1211.8,1204.2 L1213.5,1204.1 L1215.2,1204.5 L1216.9,1204.6 L1218.6,1204.5 L1220.2,1204.6 L1221.9,1204.6 L1223.6,1204.6 L1225.3,1204.3 L1227.0,1204.2 L1228.7,1204.3 L1230.4,1204.5 L1232.1,1205.0 L1233.8,1205.3 L1235.5,1205.0 L1237.2,1204.3 L1238.9,1203.9 L1240.6,1204.1 L1242.3,1204.2 L1244.0,1203.9 L1245.7,1203.8 L1247.4,1204.1 L1249.1,1204.4 L1250.8,1204.6 L1252.5,1205.0 L1254.2,1205.1 L1255.8,1204.7 L1257.5,1204.2 L1259.2,1204.3 L1260.9,1204.6 L1262.6,1204.6 L1264.3,1204.7 L1266.0,1204.6 L1267.7,1204.5 L1269.4,1204.2 L1271.1,1204.4 L1272.8,1204.9 L1274.5,1204.5 L1276.2,1204.3 L1277.9,1204.7 L1279.6,1204.7 L1281.3,1204.4 L1283.0,1204.1 L1284.7,1204.3 L1286.4,1204.5 L1288.0,1204.3 L1289.7,1204.1 L1291.4,1204.0 L1293.1,1203.9 L1294.8,1204.3 L1296.5,1204.9 L1298.2,1204.9 L1299.9,1204.7 L1301.6,1204.5 L1303.3,1204.4 L1305.0,1204.1 L1306.7,1203.9 L1308.4,1204.1"/>
<path d="M116.3,1036.1 L118.5,1037.1 L120.2,1035.6 L121.9,1032.8 L123.6,1030.7 L125.3,1028.8 L127.0,1027.6 L128.7,1025.7 L130.4,1019.8 L132.1,1016.9 L133.8,1016.4 L135.4,1012.7 L137.1,1003.4 L138.8,995.1 L140.5,989.5 L142.2,983.1 L143.9,975.0 L145.6,967.9 L147.3,961.2 L149.0,955.0 L150.7,948.8 L152.4,942.4 L154.1,938.5 L155.8,934.3 L157.5,928.2 L159.2,924.6 L160.9,922.8 L162.6,917.2 L164.3,910.0 L166.0,902.5 L167.7,897.8 L169.3,894.7 L171.0,888.9 L172.7,885.4 L174.4,883.3 L176.1,880.3 L177.8,881.2 L179.5,880.4 L181.2,874.2 L182.9,872.5 L184.6,874.0 L186.3,871.2 L188.0,871.1 L189.7,871.9 L191.4,870.0 L193.1,871.8 L194.8,877.1 L196.5,878.3 L198.2,874.0 L199.9,870.7 L201.6,873.3 L203.2,874.8 L204.9,870.9 L206.6,867.2 L208.3,873.6 L210.0,882.7 L211.7,882.6 L213.4,885.2 L215.1,893.4 L216.8,896.4 L218.5,895.4 L220.2,897.5 L221.9,903.4 L223.6,907.5 L225.3,910.6 L227.0,916.4 L228.7,922.7 L230.4,927.3 L232.1,934.7 L233.8,943.8 L235.5,950.5 L237.2,958.7 L238.8,965.1 L240.5,970.2 L242.2,978.7 L243.9,986.8 L245.6,994.6 L247.3,1003.2 L249.0,1011.1 L250.7,1016.8 L252.4,1019.9 L254.1,1023.2 L255.8,1027.9 L257.5,1032.0 L259.2,1035.2 L260.9,1040.3 L262.6,1044.7 L264.3,1046.3 L266.0,1047.8 L267.7,1051.5 L269.4,1055.0 L271.1,1056.4 L272.7,1056.6 L274.4,1057.9 L276.1,1058.5 L277.8,1058.7 L279.5,1059.2 L281.2,1060.0 L282.9,1061.4 L284.6,1062.3 L286.3,1062.7 L288.0,1064.9 L289.7,1067.2 L291.4,1068.6 L293.1,1069.3 L294.8,1071.0 L296.5,1072.4 L298.2,1072.9 L299.9,1074.3 L301.6,1075.8 L303.3,1076.3 L305.0,1076.9 L306.6,1077.7 L308.3,1078.4 L310.0,1078.9 L311.7,1079.2 L313.4,1080.1 L315.1,1081.5 L316.8,1082.0 L318.5,1082.1 L320.2,1082.5 L321.9,1083.5 L323.6,1085.0 L325.3,1085.4 L327.0,1085.5 L328.7,1086.4 L330.4,1086.8 L332.1,1087.7 L333.8,1089.5 L335.5,1090.2 L337.2,1090.0 L338.9,1090.5 L340.5,1091.6 L342.2,1091.7 L343.9,1090.8 L345.6,1090.9 L347.3,1091.6 L349.0,1091.7 L350.7,1092.1 L352.4,1092.6 L354.1,1093.3 L355.8,1095.1 L357.5,1096.5 L359.2,1095.8 L360.9,1095.7 L362.6,1096.2 L364.3,1097.0 L366.0,1099.6 L367.7,1100.7 L369.4,1099.4 L371.1,1100.0 L372.8,1101.9 L374.4,1102.1 L376.1,1102.3 L377.8,1103.2 L379.5,1103.0 L381.2,1102.5 L382.9,1103.9 L384.6,1105.9 L386.3,1107.4 L388.0,1108.7 L389.7,1109.5 L391.4,1110.6 L393.1,1112.2 L394.8,1112.3 L396.5,1111.7 L398.2,1113.0 L399.9,1114.9 L401.6,1115.1 L403.3,1113.8 L405.0,1114.0 L406.7,1115.3 L408.3,1115.4 L410.0,1115.2 L411.7,1116.3 L413.4,1117.3 L415.1,1117.3 L416.8,1117.0 L418.5,1117.5 L420.2,1117.9 L421.9,1117.2 L423.6,1116.3 L425.3,1116.5 L427.0,1116.1 L428.7,1115.4 L430.4,1115.8 L432.1,1116.1 L433.8,1115.5 L435.5,1114.4 L437.2,1114.3 L438.9,1114.8 L440.6,1113.4 L442.2,1111.3 L443.9,1110.8 L445.6,1110.9 L447.3,1110.9 L449.0,1111.5 L450.7,1111.5 L452.4,1110.9 L454.1,1110.0 L455.8,1108.6 L457.5,1107.1 L459.2,1106.0 L460.9,1104.7 L462.6,1104.1 L464.3,1104.9 L466.0,1104.9 L467.7,1104.2 L469.4,1104.2 L471.1,1103.5 L472.8,1102.7 L474.4,1102.3 L476.1,1101.0 L477.8,1100.3 L479.5,1101.4 L481.2,1101.7 L482.9,1100.4 L484.6,1099.5 L486.3,1098.8 L488.0,1098.2 L489.7,1097.4 L491.4,1096.3 L493.1,1096.3 L494.8,1097.2 L496.5,1098.2 L498.2,1098.9 L499.9,1098.3 L501.6,1096.7 L503.3,1095.6 L505.0,1095.5 L506.7,1095.7 L508.4,1096.1 L510.0,1096.2 L511.7,1095.2 L513.4,1094.3 L515.1,1094.1 L516.8,1093.5 L518.5,1092.9 L520.2,1092.3 L521.9,1091.8 L523.6,1091.5 L525.3,1091.7 L527.0,1092.9 L528.7,1093.5 L530.4,1093.4 L532.1,1093.1 L533.8,1092.7 L535.5,1092.9 L537.2,1093.1 L538.9,1093.3 L540.6,1093.4 L542.2,1094.2 L543.9,1095.4 L545.6,1095.5 L547.3,1095.6 L549.0,1096.9 L550.7,1097.3 L552.4,1097.2 L554.1,1098.6 L555.8,1100.4 L557.5,1100.4 L559.2,1100.0 L560.9,1100.5 L562.6,1100.4 L564.3,1100.9 L566.0,1102.4 L567.7,1103.6 L569.4,1104.9 L571.1,1105.9 L572.8,1106.8 L574.5,1108.0 L576.2,1109.8 L577.8,1110.9 L579.5,1111.6 L581.2,1113.4 L582.9,1116.2 L584.6,1117.9 L586.3,1118.3 L588.0,1118.8 L589.7,1119.6 L591.4,1120.3 L593.1,1120.7 L594.8,1122.2 L596.5,1124.3 L598.2,1126.4 L599.9,1127.8 L601.6,1129.2 L603.3,1131.3 L605.0,1133.4 L606.7,1134.6 L608.4,1136.4 L610.0,1139.8 L611.7,1142.3 L613.4,1142.6 L615.1,1143.8 L616.8,1146.3 L618.5,1147.5 L620.2,1148.4 L621.9,1151.4 L623.6,1154.4 L625.3,1155.1 L627.0,1155.8 L628.7,1157.3 L630.4,1158.5 L632.1,1159.4 L633.8,1160.6 L635.5,1161.7 L637.2,1163.2 L638.9,1164.7 L640.6,1165.8 L642.3,1166.6 L644.0,1167.4 L645.6,1168.8 L647.3,1170.6 L649.0,1172.1 L650.7,1173.0 L652.4,1173.3 L654.1,1173.2 L655.8,1173.7 L657.5,1175.1 L659.2,1176.7 L660.9,1177.2 L662.6,1177.2 L664.3,1177.3 L666.0,1177.1 L667.7,1177.5 L669.4,1178.0 L671.1,1178.2 L672.8,1178.4 L674.5,1178.6 L676.2,1179.1 L677.9,1178.7 L679.5,1178.3 L681.2,1178.8 L682.9,1179.4 L684.6,1179.7 L686.3,1179.5 L688.0,1179.4 L689.7,1180.5 L691.4,1181.3 L693.1,1180.8 L694.8,1180.5 L696.5,1180.7 L698.2,1180.7 L699.9,1181.0 L701.6,1181.7 L703.3,1182.1 L705.0,1182.0 L706.7,1182.3 L708.4,1182.5 L710.1,1182.9 L711.8,1183.3 L713.4,1183.0 L715.1,1182.9 L716.8,1183.6 L718.5,1184.1 L720.2,1184.2 L721.9,1184.5 L723.6,1184.6 L725.3,1184.7 L727.0,1185.3 L728.7,1185.8 L730.4,1185.7 L732.1,1185.8 L733.8,1186.3 L735.5,1186.4 L737.2,1186.3 L738.9,1186.7 L740.6,1187.2 L742.3,1187.4 L744.0,1187.5 L745.6,1187.8 L747.3,1188.4 L749.0,1188.9 L750.7,1189.2 L752.4,1189.4 L754.1,1189.5 L755.8,1189.5 L757.5,1189.8 L759.2,1190.2 L760.9,1190.7 L762.6,1191.0 L764.3,1190.6 L766.0,1190.3 L767.7,1190.0 L769.4,1189.6 L771.1,1189.0 L772.8,1188.2 L774.5,1187.3 L776.2,1187.0 L777.9,1186.8 L779.6,1186.2 L781.2,1185.6 L782.9,1184.8 L784.6,1183.7 L786.3,1183.0 L788.0,1182.9 L789.7,1182.4 L791.4,1181.4 L793.1,1180.4 L794.8,1179.5 L796.5,1179.0 L798.2,1178.1 L799.9,1176.7 L801.6,1175.6 L803.3,1175.2 L805.0,1174.2 L806.7,1172.5 L808.4,1171.2 L810.1,1170.4 L811.8,1169.8 L813.5,1168.8 L815.1,1167.6 L816.8,1166.6 L818.5,1165.7 L820.2,1164.6 L821.9,1163.6 L823.6,1162.9 L825.3,1162.2 L827.0,1161.3 L828.7,1160.3 L830.4,1159.4 L832.1,1158.6 L833.8,1157.7 L835.5,1156.6 L837.2,1155.9 L838.9,1155.3 L840.6,1154.4 L842.3,1153.8 L844.0,1153.2 L845.7,1152.5 L847.4,1151.8 L849.0,1151.1 L850.7,1150.5 L852.4,1150.0 L854.1,1149.2 L855.8,1148.3 L857.5,1147.6 L859.2,1146.7 L860.9,1145.8 L862.6,1145.5 L864.3,1145.4 L866.0,1144.9 L867.7,1144.2 L869.4,1143.5 L871.1,1142.7 L872.8,1141.9 L874.5,1141.5 L876.2,1140.7 L877.9,1140.1 L879.6,1139.6 L881.2,1138.8 L882.9,1138.1 L884.6,1137.4 L886.3,1136.4 L888.0,1136.0 L889.7,1135.9 L891.4,1135.6 L893.1,1134.9 L894.8,1134.1 L896.5,1133.6 L898.2,1133.4 L899.9,1132.9 L901.6,1132.3 L903.3,1131.7 L905.0,1131.4 L906.7,1130.9 L908.4,1130.2 L910.1,1129.8 L911.8,1130.0 L913.5,1130.2 L915.1,1129.6 L916.8,1129.0 L918.5,1128.8 L920.2,1128.7 L921.9,1128.8 L923.6,1129.3 L925.3,1129.3 L927.0,1128.7 L928.7,1128.4 L930.4,1128.4 L932.1,1128.6 L933.8,1128.5 L935.5,1128.6 L937.2,1129.1 L938.9,1129.5 L940.6,1129.7 L942.3,1129.8 L944.0,1129.8 L945.7,1130.3 L947.4,1131.0 L949.1,1131.8 L950.7,1132.1 L952.4,1132.4 L954.1,1132.8 L955.8,1133.4 L957.5,1134.7 L959.2,1136.2 L960.9,1137.2 L962.6,1137.8 L964.3,1138.8 L966.0,1140.1 L967.7,1141.0 L969.4,1142.2 L971.1,1143.6 L972.8,1144.9 L974.5,1146.3 L976.2,1147.7 L977.9,1149.1 L979.6,1150.5 L981.3,1152.0 L983.0,1153.5 L984.6,1155.1 L986.3,1156.4 L988.0,1157.2 L989.7,1158.2 L991.4,1159.7 L993.1,1161.5 L994.8,1163.1 L996.5,1164.4 L998.2,1165.5 L999.9,1166.9 L1001.6,1169.0 L1003.3,1170.8 L1005.0,1172.3 L1006.7,1173.5 L1008.4,1174.8 L1010.1,1176.3 L1011.8,1177.9 L1013.5,1179.3 L1015.2,1180.6 L1016.9,1182.0 L1018.5,1183.7 L1020.2,1185.6 L1021.9,1186.6 L1023.6,1187.3 L1025.3,1187.9 L1027.0,1188.7 L1028.7,1189.9 L1030.4,1190.8 L1032.1,1191.9 L1033.8,1192.7 L1035.5,1193.2 L1037.2,1194.2 L1038.9,1195.5 L1040.6,1196.5 L1042.3,1197.0 L1044.0,1197.4 L1045.7,1198.0 L1047.4,1198.7 L1049.1,1199.3 L1050.8,1200.0 L1052.4,1200.6 L1054.1,1201.3 L1055.8,1201.8 L1057.5,1202.0 L1059.2,1202.0 L1060.9,1202.3 L1062.6,1203.0 L1064.3,1203.5 L1066.0,1203.5 L1067.7,1203.2 L1069.4,1203.5 L1071.1,1204.1 L1072.8,1204.3 L1074.5,1204.0 L1076.2,1204.0 L1077.9,1204.0 L1079.6,1204.2 L1081.3,1204.2 L1083.0,1204.1 L1084.7,1204.2 L1086.3,1204.2 L1088.0,1203.8 L1089.7,1203.6 L1091.4,1203.6 L1093.1,1203.5 L1094.8,1203.6 L1096.5,1203.8 L1098.2,1203.7 L1099.9,1203.7 L1101.6,1204.4 L1103.3,1204.8 L1105.0,1204.5 L1106.7,1203.9 L1108.4,1203.9 L1110.1,1204.3 L1111.8,1204.3 L1113.5,1204.2 L1115.2,1204.4 L1116.9,1205.0 L1118.6,1205.0 L1120.2,1204.7 L1121.9,1204.6 L1123.6,1204.6 L1125.3,1204.7 L1127.0,1205.0 L1128.7,1205.0 L1130.4,1204.1 L1132.1,1204.0 L1133.8,1204.5 L1135.5,1204.8 L1137.2,1204.5 L1138.9,1203.9 L1140.6,1204.0 L1142.3,1204.7 L1144.0,1205.1 L1145.7,1204.9 L1147.4,1204.7 L1149.1,1204.8 L1150.8,1205.0 L1152.5,1205.0 L1154.1,1204.8 L1155.8,1204.7 L1157.5,1204.7 L1159.2,1205.1 L1160.9,1205.3 L1162.6,1204.9 L1164.3,1204.7 L1166.0,1204.8 L1167.7,1204.9 L1169.4,1204.6 L1171.1,1204.7 L1172.8,1204.9 L1174.5,1204.9 L1176.2,1204.8 L1177.9,1204.6 L1179.6,1204.8 L1181.3,1205.1 L1183.0,1205.1 L1184.7,1204.9 L1186.4,1204.7 L1188.0,1204.8 L1189.7,1205.0 L1191.4,1204.9 L1193.1,1204.6 L1194.8,1204.4 L1196.5,1204.3 L1198.2,1204.2 L1199.9,1204.4 L1201.6,1204.6 L1203.3,1204.9 L1205.0,1205.1 L1206.7,1204.8 L1208.4,1204.6 L1210.1,1204.6 L1211.8,1204.8 L1213.5,1205.0 L1215.2,1205.1 L1216.9,1204.9 L1218.6,1204.6 L1220.2,1204.9 L1221.9,1205.5 L1223.6,1204.9 L1225.3,1204.2 L1227.0,1204.3 L1228.7,1204.4 L1230.4,1204.6 L1232.1,1204.8 L1233.8,1204.8 L1235.5,1204.8 L1237.2,1205.1 L1238.9,1205.1 L1240.6,1205.0 L1242.3,1205.1 L1244.0,1205.2 L1245.7,1205.2 L1247.4,1204.9 L1249.1,1204.8 L1250.8,1205.1 L1252.5,1205.2 L1254.2,1205.4 L1255.8,1205.5 L1257.5,1205.2 L1259.2,1204.7 L1260.9,1204.5 L1262.6,1204.8 L1264.3,1204.7 L1266.0,1204.2 L1267.7,1204.2 L1269.4,1204.5 L1271.1,1204.4 L1272.8,1204.3 L1274.5,1204.6 L1276.2,1205.1 L1277.9,1205.1 L1279.6,1204.4 L1281.3,1204.1 L1283.0,1204.3 L1284.7,1204.1 L1286.4,1204.2 L1288.0,1205.0 L1289.7,1204.9 L1291.4,1204.3 L1293.1,1204.2 L1294.8,1204.5 L1296.5,1204.6 L1298.2,1204.7 L1299.9,1204.5 L1301.6,1204.4 L1303.3,1205.0 L1305.0,1205.4 L1306.7,1204.8 L1308.4,1204.4"/>
<path d="M116.3,1048.5 L118.5,1048.8 L120.2,1047.7 L121.9,1046.5 L123.6,1045.7 L125.3,1045.2 L127.0,1043.9 L128.7,1040.5 L130.4,1034.4 L132.1,1031.3 L133.8,1027.1 L135.4,1022.3 L137.1,1018.8 L138.8,1014.1 L140.5,1007.2 L142.2,1001.3 L143.9,993.4 L145.6,986.5 L147.3,982.8 L149.0,975.8 L150.7,967.6 L152.4,964.1 L154.1,959.5 L155.8,952.4 L157.5,947.5 L159.2,941.1 L160.9,933.3 L162.6,928.1 L164.3,923.1 L166.0,917.4 L167.7,912.9 L169.3,907.0 L171.0,899.5 L172.7,892.9 L174.4,889.6 L176.1,891.2 L177.8,889.8 L179.5,885.5 L181.2,884.7 L182.9,885.9 L184.6,887.1 L186.3,887.8 L188.0,889.3 L189.7,890.9 L191.4,885.4 L193.1,879.2 L194.8,878.6 L196.5,879.1 L198.2,879.3 L199.9,877.9 L201.6,879.6 L203.2,880.9 L204.9,885.5 L206.6,889.1 L208.3,885.2 L210.0,882.8 L211.7,886.4 L213.4,890.0 L215.1,891.2 L216.8,898.3 L218.5,909.3 L220.2,913.2 L221.9,913.7 L223.6,916.7 L225.3,920.8 L227.0,925.1 L228.7,931.8 L230.4,942.8 L232.1,951.6 L233.8,957.9 L235.5,964.8 L237.2,970.6 L238.8,977.4 L240.5,985.9 L242.2,992.8 L243.9,999.4 L245.6,1007.8 L247.3,1015.2 L249.0,1022.4 L250.7,1029.1 L252.4,1033.6 L254.1,1037.1 L255.8,1041.0 L257.5,1047.8 L259.2,1054.5 L260.9,1056.7 L262.6,1057.0 L264.3,1059.3 L266.0,1062.5 L267.7,1066.0 L269.4,1069.2 L271.1,1070.1 L272.7,1069.6 L274.4,1070.9 L276.1,1071.8 L277.8,1071.7 L279.5,1073.6 L281.2,1076.5 L282.9,1078.6 L284.6,1080.2 L286.3,1080.3 L288.0,1081.0 L289.7,1082.2 L291.4,1081.7 L293.1,1081.9 L294.8,1083.6 L296.5,1084.7 L298.2,1085.8 L299.9,1087.3 L301.6,1088.0 L303.3,1089.2 L305.0,1090.9 L306.6,1091.5 L308.3,1091.1 L310.0,1090.8 L311.7,1091.1 L313.4,1091.9 L315.1,1093.3 L316.8,1093.7 L318.5,1092.2 L320.2,1092.0 L321.9,1094.0 L323.6,1095.2 L325.3,1095.7 L327.0,1097.0 L328.7,1098.0 L330.4,1098.2 L332.1,1097.8 L333.8,1097.9 L335.5,1098.8 L337.2,1099.8 L338.9,1100.6 L340.5,1100.1 L342.2,1099.5 L343.9,1099.7 L345.6,1100.2 L347.3,1101.1 L349.0,1101.8 L350.7,1102.1 L352.4,1102.3 L354.1,1103.2 L355.8,1104.6 L357.5,1104.5 L359.2,1104.6 L360.9,1105.8 L362.6,1106.8 L364.3,1107.4 L366.0,1107.9 L367.7,1109.0 L369.4,1110.2 L371.1,1110.4 L372.8,1110.5 L374.4,1111.4 L376.1,1112.5 L377.8,1113.5 L379.5,1114.8 L381.2,1116.6 L382.9,1118.0 L384.6,1118.1 L386.3,1118.4 L388.0,1120.1 L389.7,1121.4 L391.4,1121.7 L393.1,1122.7 L394.8,1123.9 L396.5,1124.8 L398.2,1125.8 L399.9,1127.6 L401.6,1128.6 L403.3,1128.2 L405.0,1129.0 L406.7,1130.0 L408.3,1129.6 L410.0,1129.8 L411.7,1130.6 L413.4,1130.4 L415.1,1130.1 L416.8,1129.9 L418.5,1130.6 L420.2,1131.3 L421.9,1131.0 L423.6,1131.4 L425.3,1132.5 L427.0,1132.6 L428.7,1132.1 L430.4,1131.8 L432.1,1132.1 L433.8,1132.3 L435.5,1132.0 L437.2,1131.4 L438.9,1131.6 L440.6,1131.0 L442.2,1129.6 L443.9,1129.3 L445.6,1129.4 L447.3,1129.2 L449.0,1129.1 L450.7,1128.8 L452.4,1127.4 L454.1,1125.9 L455.8,1125.6 L457.5,1125.2 L459.2,1124.4 L460.9,1123.8 L462.6,1123.4 L464.3,1123.2 L466.0,1123.3 L467.7,1124.0 L469.4,1123.9 L471.1,1122.2 L472.8,1120.5 L474.4,1120.1 L476.1,1120.6 L477.8,1120.1 L479.5,1119.5 L481.2,1119.3 L482.9,1118.7 L484.6,1117.8 L486.3,1116.8 L488.0,1116.2 L489.7,1116.0 L491.4,1115.4 L493.1,1114.7 L494.8,1114.8 L496.5,1114.7 L498.2,1114.1 L499.9,1114.0 L501.6,1114.0 L503.3,1114.0 L505.0,1114.9 L506.7,1115.0 L508.4,1113.6 L510.0,1112.7 L511.7,1111.4 L513.4,1110.8 L515.1,1111.4 L516.8,1110.9 L518.5,1110.3 L520.2,1110.5 L521.9,1110.9 L523.6,1110.6 L525.3,1109.7 L527.0,1108.7 L528.7,1108.4 L530.4,1109.5 L532.1,1109.7 L533.8,1109.0 L535.5,1109.7 L537.2,1110.3 L538.9,1110.1 L540.6,1109.7 L542.2,1110.3 L543.9,1111.4 L545.6,1111.4 L547.3,1110.5 L549.0,1110.9 L550.7,1112.2 L552.4,1113.4 L554.1,1113.8 L555.8,1114.1 L557.5,1115.0 L559.2,1115.7 L560.9,1116.4 L562.6,1116.9 L564.3,1117.1 L566.0,1117.5 L567.7,1118.2 L569.4,1118.5 L571.1,1118.9 L572.8,1120.4 L574.5,1121.7 L576.2,1122.4 L577.8,1122.8 L579.5,1123.7 L581.2,1125.5 L582.9,1127.2 L584.6,1127.7 L586.3,1127.9 L588.0,1129.7 L589.7,1132.1 L591.4,1133.5 L593.1,1134.4 L594.8,1135.9 L596.5,1137.1 L598.2,1138.6 L599.9,1140.4 L601.6,1141.4 L603.3,1141.8 L605.0,1143.7 L606.7,1146.8 L608.4,1149.2 L610.0,1151.2 L611.7,1153.2 L613.4,1154.4 L615.1,1155.7 L616.8,1157.1 L618.5,1158.2 L620.2,1160.0 L621.9,1161.5 L623.6,1162.3 L625.3,1163.6 L627.0,1164.9 L628.7,1165.3 L630.4,1166.8 L632.1,1169.0 L633.8,1170.4 L635.5,1171.9 L637.2,1172.9 L638.9,1172.3 L640.6,1173.5 L642.3,1175.9 L644.0,1177.4 L645.6,1178.5 L647.3,1178.9 L649.0,1179.9 L650.7,1181.1 L652.4,1181.7 L654.1,1183.2 L655.8,1184.0 L657.5,1184.3 L659.2,1184.9 L660.9,1185.4 L662.6,1185.9 L664.3,1186.3 L666.0,1186.6 L667.7,1187.7 L669.4,1188.3 L671.1,1188.2 L672.8,1188.4 L674.5,1189.0 L676.2,1190.2 L677.9,1191.2 L679.5,1191.0 L681.2,1190.9 L682.9,1191.6 L684.6,1192.5 L686.3,1193.5 L688.0,1193.5 L689.7,1193.2 L691.4,1194.1 L693.1,1194.9 L694.8,1194.8 L696.5,1194.5 L698.2,1194.6 L699.9,1194.8 L701.6,1195.0 L703.3,1195.5 L705.0,1196.2 L706.7,1196.8 L708.4,1197.1 L710.1,1197.6 L711.8,1198.1 L713.4,1198.3 L715.1,1198.8 L716.8,1199.6 L718.5,1200.1 L720.2,1199.9 L721.9,1199.9 L723.6,1200.4 L725.3,1200.9 L727.0,1201.5 L728.7,1201.8 L730.4,1202.1 L732.1,1202.7 L733.8,1203.1 L735.5,1203.5 L737.2,1204.1 L738.9,1204.5 L740.6,1204.9 L742.3,1205.1 L744.0,1205.2 L745.6,1205.7 L747.3,1206.0 L749.0,1206.8 L750.7,1207.8 L752.4,1207.9 L754.1,1207.8 L755.8,1208.3 L757.5,1209.0 L759.2,1209.3 L760.9,1209.7 L762.6,1209.8 L764.3,1209.5 L766.0,1209.1 L767.7,1208.8 L769.4,1208.9 L771.1,1209.2 L772.8,1209.6 L774.5,1209.8 L776.2,1209.3 L777.9,1208.9 L779.6,1209.4 L781.2,1209.6 L782.9,1208.9 L784.6,1208.6 L786.3,1208.8 L788.0,1208.7 L789.7,1208.2 L791.4,1207.3 L793.1,1206.8 L794.8,1206.7 L796.5,1206.5 L798.2,1206.1 L799.9,1205.6 L801.6,1205.4 L803.3,1205.1 L805.0,1204.5 L806.7,1203.9 L808.4,1203.2 L810.1,1202.8 L811.8,1202.5 L813.5,1201.7 L815.1,1200.8 L816.8,1200.4 L818.5,1200.4 L820.2,1200.5 L821.9,1199.8 L823.6,1199.0 L825.3,1198.8 L827.0,1198.8 L828.7,1198.6 L830.4,1198.3 L832.1,1198.3 L833.8,1198.4 L835.5,1197.9 L837.2,1197.1 L838.9,1196.8 L840.6,1197.1 L842.3,1197.0 L844.0,1196.6 L845.7,1196.7 L847.4,1196.9 L849.0,1196.5 L850.7,1195.9 L852.4,1195.6 L854.1,1195.8 L855.8,1195.8 L857.5,1195.6 L859.2,1195.3 L860.9,1195.2 L862.6,1195.4 L864.3,1195.5 L866.0,1195.4 L867.7,1195.6 L869.4,1195.8 L871.1,1195.0 L872.8,1194.5 L874.5,1194.5 L876.2,1194.4 L877.9,1194.1 L879.6,1194.1 L881.2,1194.2 L882.9,1193.9 L884.6,1193.6 L886.3,1193.7 L888.0,1193.8 L889.7,1193.7 L891.4,1193.5 L893.1,1192.9 L894.8,1192.3 L896.5,1192.4 L898.2,1192.7 L899.9,1192.8 L901.6,1192.6 L903.3,1192.4 L905.0,1192.5 L906.7,1192.8 L908.4,1193.0 L910.1,1192.7 L911.8,1192.4 L913.5,1192.0 L915.1,1191.8 L916.8,1192.2 L918.5,1192.3 L920.2,1191.9 L921.9,1192.0 L923.6,1191.9 L925.3,1191.7 L927.0,1191.8 L928.7,1191.8 L930.4,1191.3 L932.1,1191.3 L933.8,1191.8 L935.5,1191.9 L937.2,1191.6 L938.9,1191.9 L940.6,1192.3 L942.3,1192.1 L944.0,1192.0 L945.7,1192.3 L947.4,1192.2 L949.1,1192.3 L950.7,1192.5 L952.4,1192.5 L954.1,1192.4 L955.8,1192.4 L957.5,1192.9 L959.2,1193.4 L960.9,1193.3 L962.6,1193.3 L964.3,1193.7 L966.0,1194.1 L967.7,1194.2 L969.4,1194.5 L971.1,1194.9 L972.8,1195.0 L974.5,1195.6 L976.2,1196.0 L977.9,1196.1 L979.6,1196.3 L981.3,1196.6 L983.0,1196.8 L984.6,1197.0 L986.3,1197.2 L988.0,1197.5 L989.7,1197.6 L991.4,1198.0 L993.1,1198.6 L994.8,1198.7 L996.5,1198.8 L998.2,1199.2 L999.9,1199.2 L1001.6,1199.4 L1003.3,1200.2 L1005.0,1201.0 L1006.7,1201.2 L1008.4,1201.4 L1010.1,1201.8 L1011.8,1202.0 L1013.5,1202.2 L1015.2,1202.2 L1016.9,1202.6 L1018.5,1203.0 L1020.2,1203.1 L1021.9,1203.2 L1023.6,1203.4 L1025.3,1203.8 L1027.0,1204.2 L1028.7,1204.8 L1030.4,1205.5 L1032.1,1205.5 L1033.8,1205.1 L1035.5,1205.0 L1037.2,1204.8 L1038.9,1205.1 L1040.6,1205.8 L1042.3,1205.6 L1044.0,1205.3 L1045.7,1206.0 L1047.4,1206.3 L1049.1,1206.5 L1050.8,1206.7 L1052.4,1206.8 L1054.1,1206.7 L1055.8,1206.7 L1057.5,1206.9 L1059.2,1207.0 L1060.9,1206.9 L1062.6,1206.8 L1064.3,1206.8 L1066.0,1206.9 L1067.7,1206.8 L1069.4,1206.9 L1071.1,1206.7 L1072.8,1206.4 L1074.5,1206.5 L1076.2,1206.2 L1077.9,1205.8 L1079.6,1205.8 L1081.3,1205.4 L1083.0,1205.4 L1084.7,1205.7 L1086.3,1205.4 L1088.0,1205.2 L1089.7,1205.2 L1091.4,1204.9 L1093.1,1204.8 L1094.8,1205.3 L1096.5,1205.5 L1098.2,1205.1 L1099.9,1205.2 L1101.6,1205.5 L1103.3,1205.5 L1105.0,1205.6 L1106.7,1205.1 L1108.4,1204.9 L1110.1,1205.4 L1111.8,1205.3 L1113.5,1205.1 L1115.2,1205.3 L1116.9,1205.1 L1118.6,1204.9 L1120.2,1204.9 L1121.9,1205.3 L1123.6,1205.5 L1125.3,1205.1 L1127.0,1204.8 L1128.7,1205.1 L1130.4,1205.0 L1132.1,1205.1 L1133.8,1205.3 L1135.5,1204.9 L1137.2,1204.5 L1138.9,1204.1 L1140.6,1204.2 L1142.3,1204.8 L1144.0,1205.2 L1145.7,1205.4 L1147.4,1205.4 L1149.1,1205.0 L1150.8,1205.0 L1152.5,1205.1 L1154.1,1205.0 L1155.8,1204.7 L1157.5,1204.6 L1159.2,1204.9 L1160.9,1205.0 L1162.6,1204.7 L1164.3,1204.7 L1166.0,1205.4 L1167.7,1205.5 L1169.4,1205.0 L1171.1,1204.7 L1172.8,1204.4 L1174.5,1204.2 L1176.2,1204.3 L1177.9,1204.8 L1179.6,1204.9 L1181.3,1204.8 L1183.0,1204.7 L1184.7,1204.6 L1186.4,1204.8 L1188.0,1205.0 L1189.7,1205.1 L1191.4,1205.1 L1193.1,1205.2 L1194.8,1205.3 L1196.5,1205.2 L1198.2,1204.7 L1199.9,1204.6 L1201.6,1204.8 L1203.3,1205.4 L1205.0,1205.7 L1206.7,1205.4 L1208.4,1205.0 L1210.1,1204.6 L1211.8,1204.4 L1213.5,1204.3 L1215.2,1204.3 L1216.9,1204.5 L1218.6,1204.9 L1220.2,1205.1 L1221.9,1204.9 L1223.6,1205.1 L1225.3,1205.2 L1227.0,1204.9 L1228.7,1204.7 L1230.4,1204.8 L1232.1,1204.9 L1233.8,1204.7 L1235.5,1204.7 L1237.2,1205.1 L1238.9,1205.3 L1240.6,1205.6 L1242.3,1205.3 L1244.0,1205.0 L1245.7,1205.1 L1247.4,1205.0 L1249.1,1205.0 L1250.8,1205.2 L1252.5,1205.2 L1254.2,1204.9 L1255.8,1204.6 L1257.5,1204.7 L1259.2,1205.1 L1260.9,1205.6 L1262.6,1205.4 L1264.3,1204.8 L1266.0,1205.2 L1267.7,1205.4 L1269.4,1205.1 L1271.1,1205.1 L1272.8,1204.8 L1274.5,1204.6 L1276.2,1204.6 L1277.9,1204.8 L1279.6,1205.4 L1281.3,1205.5 L1283.0,1205.2 L1284.7,1205.0 L1286.4,1204.9 L1288.0,1204.9 L1289.7,1205.4 L1291.4,1205.6 L1293.1,1205.2 L1294.8,1204.9 L1296.5,1204.5 L1298.2,1204.3 L1299.9,1204.6 L1301.6,1204.9 L1303.3,1205.0 L1305.0,1204.8 L1306.7,1204.7 L1308.4,1204.8"/>
<path d="M116.3,1047.8 L118.5,1048.2 L120.2,1046.5 L121.9,1044.3 L123.6,1043.4 L125.3,1043.3 L127.0,1041.2 L128.7,1038.7 L130.4,1035.9 L132.1,1032.3 L133.8,1026.9 L135.4,1022.7 L137.1,1018.1 L138.8,1013.1 L140.5,1007.0 L142.2,1000.7 L143.9,994.7 L145.6,988.4 L147.3,981.6 L149.0,975.1 L150.7,968.8 L152.4,963.2 L154.1,957.9 L155.8,951.6 L157.5,946.0 L159.2,941.0 L160.9,935.2 L162.6,928.7 L164.3,922.5 L166.0,916.3 L167.7,909.5 L169.3,903.7 L171.0,899.3 L172.7,894.8 L174.4,891.4 L176.1,889.5 L177.8,887.1 L179.5,885.3 L181.2,884.2 L182.9,884.2 L184.6,884.4 L186.3,884.4 L188.0,884.6 L189.7,884.2 L191.4,884.2 L193.1,884.5 L194.8,883.8 L196.5,881.6 L198.2,879.7 L199.9,877.9 L201.6,878.3 L203.2,878.7 L204.9,880.1 L206.6,881.6 L208.3,884.1 L210.0,886.8 L211.7,889.0 L213.4,890.6 L215.1,892.8 L216.8,898.5 L218.5,904.6 L220.2,908.3 L221.9,911.3 L223.6,915.5 L225.3,920.4 L227.0,925.2 L228.7,930.4 L230.4,937.8 L232.1,946.7 L233.8,955.4 L235.5,962.1 L237.2,968.1 L238.8,975.1 L240.5,983.1 L242.2,992.5 L243.9,1002.1 L245.6,1012.3 L247.3,1020.3 L249.0,1024.8 L250.7,1030.8 L252.4,1036.8 L254.1,1039.9 L255.8,1042.9 L257.5,1046.6 L259.2,1050.4 L260.9,1053.4 L262.6,1056.6 L264.3,1060.6 L266.0,1063.8 L267.7,1066.7 L269.4,1068.4 L271.1,1070.1 L272.7,1071.2 L274.4,1071.6 L276.1,1072.0 L277.8,1073.1 L279.5,1075.0 L281.2,1077.2 L282.9,1078.6 L284.6,1079.1 L286.3,1079.2 L288.0,1078.7 L289.7,1079.1 L291.4,1081.3 L293.1,1084.3 L294.8,1086.1 L296.5,1086.8 L298.2,1087.1 L299.9,1087.3 L301.6,1088.3 L303.3,1089.5 L305.0,1089.5 L306.6,1089.8 L308.3,1090.8 L310.0,1091.7 L311.7,1092.6 L313.4,1093.2 L315.1,1093.3 L316.8,1093.4 L318.5,1093.4 L320.2,1093.4 L321.9,1094.4 L323.6,1096.1 L325.3,1097.4 L327.0,1097.7 L328.7,1097.6 L330.4,1097.9 L332.1,1097.9 L333.8,1097.3 L335.5,1097.6 L337.2,1098.8 L338.9,1099.6 L340.5,1099.8 L342.2,1100.0 L343.9,1100.8 L345.6,1101.8 L347.3,1102.3 L349.0,1102.6 L350.7,1102.0 L352.4,1102.1 L354.1,1103.4 L355.8,1104.2 L357.5,1105.1 L359.2,1105.3 L360.9,1104.7 L362.6,1105.4 L364.3,1107.0 L366.0,1108.2 L367.7,1108.9 L369.4,1109.6 L371.1,1110.6 L372.8,1111.7 L374.4,1112.5 L376.1,1113.5 L377.8,1114.0 L379.5,1113.5 L381.2,1114.7 L382.9,1117.3 L384.6,1119.1 L386.3,1120.0 L388.0,1120.9 L389.7,1122.1 L391.4,1123.5 L393.1,1124.1 L394.8,1124.3 L396.5,1125.7 L398.2,1127.6 L399.9,1128.5 L401.6,1129.6 L403.3,1130.1 L405.0,1130.1 L406.7,1129.9 L408.3,1129.4 L410.0,1129.6 L411.7,1130.6 L413.4,1130.7 L415.1,1129.5 L416.8,1129.4 L418.5,1130.8 L420.2,1131.5 L421.9,1131.1 L423.6,1131.4 L425.3,1132.0 L427.0,1131.6 L428.7,1131.3 L430.4,1131.3 L432.1,1131.4 L433.8,1131.4 L435.5,1131.0 L437.2,1130.2 L438.9,1129.7 L440.6,1130.1 L442.2,1129.7 L443.9,1128.9 L445.6,1128.1 L447.3,1127.6 L449.0,1127.4 L450.7,1126.7 L452.4,1126.6 L454.1,1125.8 L455.8,1124.7 L457.5,1125.4 L459.2,1126.1 L460.9,1125.4 L462.6,1124.1 L464.3,1123.0 L466.0,1122.1 L467.7,1121.2 L469.4,1121.2 L471.1,1121.6 L472.8,1121.5 L474.4,1121.5 L476.1,1121.1 L477.8,1121.0 L479.5,1120.4 L481.2,1118.7 L482.9,1117.6 L484.6,1117.6 L486.3,1118.3 L488.0,1118.2 L489.7,1117.2 L491.4,1116.6 L493.1,1116.2 L494.8,1116.0 L496.5,1115.9 L498.2,1115.2 L499.9,1114.1 L501.6,1114.3 L503.3,1114.4 L505.0,1113.2 L506.7,1112.5 L508.4,1112.4 L510.0,1112.3 L511.7,1112.3 L513.4,1112.7 L515.1,1113.4 L516.8,1113.2 L518.5,1111.9 L520.2,1110.2 L521.9,1109.5 L523.6,1110.1 L525.3,1110.2 L527.0,1109.8 L528.7,1110.0 L530.4,1109.8 L532.1,1110.2 L533.8,1110.9 L535.5,1110.5 L537.2,1110.4 L538.9,1111.3 L540.6,1111.8 L542.2,1111.5 L543.9,1110.1 L545.6,1109.6 L547.3,1110.5 L549.0,1111.8 L550.7,1113.0 L552.4,1112.5 L554.1,1111.8 L555.8,1113.1 L557.5,1114.8 L559.2,1115.1 L560.9,1115.3 L562.6,1116.0 L564.3,1117.0 L566.0,1117.8 L567.7,1118.1 L569.4,1118.2 L571.1,1118.3 L572.8,1119.0 L574.5,1120.1 L576.2,1121.8 L577.8,1123.5 L579.5,1124.9 L581.2,1125.7 L582.9,1126.5 L584.6,1127.8 L586.3,1129.2 L588.0,1130.6 L589.7,1132.1 L591.4,1134.1 L593.1,1135.3 L594.8,1135.1 L596.5,1135.8 L598.2,1137.5 L599.9,1138.9 L601.6,1141.0 L603.3,1142.5 L605.0,1144.0 L606.7,1145.6 L608.4,1146.9 L610.0,1148.7 L611.7,1151.5 L613.4,1154.2 L615.1,1156.0 L616.8,1156.3 L618.5,1156.9 L620.2,1158.9 L621.9,1161.4 L623.6,1163.0 L625.3,1163.6 L627.0,1164.7 L628.7,1166.6 L630.4,1167.7 L632.1,1168.9 L633.8,1171.0 L635.5,1171.8 L637.2,1171.8 L638.9,1173.0 L640.6,1174.6 L642.3,1175.4 L644.0,1176.1 L645.6,1177.0 L647.3,1178.1 L649.0,1180.1 L650.7,1181.9 L652.4,1183.0 L654.1,1184.3 L655.8,1184.4 L657.5,1183.8 L659.2,1184.2 L660.9,1185.7 L662.6,1187.5 L664.3,1189.2 L666.0,1190.0 L667.7,1190.0 L669.4,1190.7 L671.1,1192.0 L672.8,1192.3 L674.5,1191.9 L676.2,1192.8 L677.9,1194.3 L679.5,1195.0 L681.2,1195.3 L682.9,1196.4 L684.6,1198.0 L686.3,1199.9 L688.0,1201.3 L689.7,1202.2 L691.4,1202.4 L693.1,1201.6 L694.8,1201.7 L696.5,1203.8 L698.2,1205.2 L699.9,1206.9 L701.6,1209.6 L703.3,1211.6 L705.0,1212.1 L706.7,1213.7 L708.4,1216.1 L710.1,1217.6 L711.8,1220.2 L713.4,1223.1 L715.1,1225.5 L716.8,1225.9 L718.5,1225.8 L720.2,1225.2 L721.9,1224.1 L723.6,1224.3 L725.3,1225.0 L727.0,1225.0 L728.7,1225.3 L730.4,1224.7 L732.1,1224.0 L733.8,1224.6 L735.5,1225.2 L737.2,1224.9 L738.9,1224.5 L740.6,1223.9 L742.3,1222.8 L744.0,1222.3 L745.6,1223.0 L747.3,1224.5 L749.0,1225.1 L750.7,1224.5 L752.4,1224.8 L754.1,1225.8 L755.8,1224.9 L757.5,1223.8 L759.2,1224.9 L760.9,1225.5 L762.6,1224.9 L764.3,1224.3 L766.0,1224.4 L767.7,1225.1 L769.4,1225.3 L771.1,1224.5 L772.8,1224.4 L774.5,1224.8 L776.2,1224.3 L777.9,1224.4 L779.6,1225.6 L781.2,1226.3 L782.9,1225.9 L784.6,1226.3 L786.3,1226.9 L788.0,1225.4 L789.7,1224.0 L791.4,1223.9 L793.1,1224.8 L794.8,1226.0 L796.5,1225.0 L798.2,1223.0 L799.9,1223.1 L801.6,1224.5 L803.3,1225.0 L805.0,1224.8 L806.7,1225.2 L808.4,1225.6 L810.1,1225.6 L811.8,1224.9 L813.5,1223.8 L815.1,1223.2 L816.8,1223.8 L818.5,1224.7 L820.2,1225.1 L821.9,1225.3 L823.6,1224.9 L825.3,1224.4 L827.0,1223.9 L828.7,1224.3 L830.4,1225.3 L832.1,1224.6 L833.8,1224.2 L835.5,1224.3 L837.2,1223.8 L838.9,1223.4 L840.6,1222.7 L842.3,1222.7 L844.0,1223.4 L845.7,1223.6 L847.4,1224.0 L849.0,1225.0 L850.7,1225.9 L852.4,1225.8 L854.1,1224.9 L855.8,1224.4 L857.5,1223.9 L859.2,1224.2 L860.9,1224.9 L862.6,1224.3 L864.3,1223.9 L866.0,1224.0 L867.7,1224.0 L869.4,1224.3 L871.1,1224.1 L872.8,1224.0 L874.5,1225.1 L876.2,1225.8 L877.9,1225.0 L879.6,1224.1 L881.2,1223.6 L882.9,1224.3 L884.6,1226.0 L886.3,1226.0 L888.0,1224.8 L889.7,1223.9 L891.4,1223.5 L893.1,1224.4 L894.8,1224.9 L896.5,1223.7 L898.2,1223.9 L899.9,1225.4 L901.6,1224.8 L903.3,1224.3 L905.0,1225.0 L906.7,1224.9 L908.4,1224.4 L910.1,1224.4 L911.8,1224.9 L913.5,1225.2 L915.1,1224.8 L916.8,1224.7 L918.5,1224.8 L920.2,1224.7 L921.9,1224.2 L923.6,1223.8 L925.3,1223.8 L927.0,1224.3 L928.7,1224.9 L930.4,1224.5 L932.1,1224.3 L933.8,1224.8 L935.5,1225.6 L937.2,1226.3 L938.9,1225.4 L940.6,1225.4 L942.3,1225.9 L944.0,1225.0 L945.7,1224.6 L947.4,1224.5 L949.1,1224.3 L950.7,1224.1 L952.4,1224.3 L954.1,1224.4 L955.8,1223.9 L957.5,1224.4 L959.2,1225.6 L960.9,1225.3 L962.6,1225.2 L964.3,1224.9 L966.0,1223.6 L967.7,1223.7 L969.4,1225.1 L971.1,1225.2 L972.8,1224.4 L974.5,1224.7 L976.2,1225.5 L977.9,1225.9 L979.6,1224.8 L981.3,1223.9 L983.0,1224.4 L984.6,1224.1 L986.3,1223.0 L988.0,1222.8 L989.7,1223.0 L991.4,1223.1 L993.1,1224.0 L994.8,1225.4 L996.5,1226.1 L998.2,1225.0 L999.9,1223.4 L1001.6,1223.6 L1003.3,1224.7 L1005.0,1225.3 L1006.7,1226.3 L1008.4,1225.9 L1010.1,1223.9 L1011.8,1223.7 L1013.5,1224.9 L1015.2,1225.3 L1016.9,1224.8 L1018.5,1224.2 L1020.2,1224.1 L1021.9,1224.3 L1023.6,1224.7 L1025.3,1224.2 L1027.0,1223.5 L1028.7,1223.6 L1030.4,1224.0 L1032.1,1224.7 L1033.8,1224.9 L1035.5,1224.5 L1037.2,1224.8 L1038.9,1224.9 L1040.6,1224.7 L1042.3,1225.4 L1044.0,1225.1 L1045.7,1223.8 L1047.4,1223.7 L1049.1,1224.3 L1050.8,1224.3 L1052.4,1224.1 L1054.1,1224.5 L1055.8,1224.8 L1057.5,1224.3 L1059.2,1224.1 L1060.9,1223.9 L1062.6,1223.5 L1064.3,1224.0 L1066.0,1224.6 L1067.7,1223.8 L1069.4,1223.3 L1071.1,1224.3 L1072.8,1225.1 L1074.5,1224.9 L1076.2,1224.9 L1077.9,1225.0 L1079.6,1224.3 L1081.3,1224.0 L1083.0,1225.0 L1084.7,1225.7 L1086.3,1225.7 L1088.0,1225.2 L1089.7,1225.3 L1091.4,1225.3 L1093.1,1225.1 L1094.8,1224.7 L1096.5,1223.6 L1098.2,1223.8 L1099.9,1225.6 L1101.6,1225.6 L1103.3,1224.9 L1105.0,1225.2 L1106.7,1225.0 L1108.4,1224.0 L1110.1,1223.0 L1111.8,1223.3 L1113.5,1224.2 L1115.2,1224.5 L1116.9,1224.7 L1118.6,1225.0 L1120.2,1225.8 L1121.9,1226.1 L1123.6,1224.9 L1125.3,1223.6 L1127.0,1224.2 L1128.7,1225.5 L1130.4,1225.4 L1132.1,1224.8 L1133.8,1224.8 L1135.5,1224.7 L1137.2,1224.2 L1138.9,1224.1 L1140.6,1223.8 L1142.3,1224.3 L1144.0,1225.5 L1145.7,1224.7 L1147.4,1223.5 L1149.1,1223.5 L1150.8,1223.6 L1152.5,1223.9 L1154.1,1224.5 L1155.8,1224.0 L1157.5,1223.2 L1159.2,1222.7 L1160.9,1223.4 L1162.6,1224.4 L1164.3,1224.7 L1166.0,1225.1 L1167.7,1225.0 L1169.4,1224.4 L1171.1,1224.0 L1172.8,1223.6 L1174.5,1223.7 L1176.2,1224.1 L1177.9,1223.9 L1179.6,1223.9 L1181.3,1224.7 L1183.0,1225.0 L1184.7,1224.3 L1186.4,1223.7 L1188.0,1223.8 L1189.7,1224.3 L1191.4,1224.5 L1193.1,1224.1 L1194.8,1223.7 L1196.5,1223.2 L1198.2,1223.1 L1199.9,1223.5 L1201.6,1224.3 L1203.3,1225.4 L1205.0,1225.0 L1206.7,1224.0 L1208.4,1223.6 L1210.1,1224.0 L1211.8,1224.3 L1213.5,1225.1 L1215.2,1225.2 L1216.9,1224.0 L1218.6,1223.8 L1220.2,1223.8 L1221.9,1223.2 L1223.6,1223.3 L1225.3,1223.8 L1227.0,1224.9 L1228.7,1225.3 L1230.4,1225.0 L1232.1,1224.9 L1233.8,1225.1 L1235.5,1225.6 L1237.2,1225.2 L1238.9,1225.0 L1240.6,1225.2 L1242.3,1224.7 L1244.0,1224.6 L1245.7,1224.5 L1247.4,1223.9 L1249.1,1223.8 L1250.8,1223.6 L1252.5,1223.4 L1254.2,1223.7 L1255.8,1224.0 L1257.5,1224.2 L1259.2,1224.0 L1260.9,1224.0 L1262.6,1225.1 L1264.3,1226.0 L1266.0,1226.1 L1267.7,1225.3 L1269.4,1224.4 L1271.1,1224.4 L1272.8,1224.5 L1274.5,1223.9 L1276.2,1223.3 L1277.9,1223.4 L1279.6,1224.2 L1281.3,1224.0 L1283.0,1224.1 L1284.7,1224.8 L1286.4,1224.9 L1288.0,1225.0 L1289.7,1224.7 L1291.4,1224.8 L1293.1,1225.7 L1294.8,1225.8 L1296.5,1225.2 L1298.2,1224.9 L1299.9,1224.7 L1301.6,1224.7 L1303.3,1225.0 L1305.0,1224.8 L1306.7,1224.1 L1308.4,1224.0"/>
</g>
<g fill="#000"><polygon points="116.0,971.4 121.9,958.0 128.1,934.7 135.5,897.0 143.0,888.0 149.6,888.0 158.5,851.0 163.6,851.0 167.5,864.0 172.6,838.0 186.6,829.0 194.0,829.0 208.0,838.0 212.0,846.0 217.0,859.0 223.7,866.0 227.5,876.6 232.6,889.0 237.7,912.0 245.0,922.6 253.0,948.0 260.7,973.7 268.0,986.5 278.6,994.0 288.8,1001.8 299.0,1007.0 309.0,1019.7 329.7,1046.5 329.7,1046.5 327.0,1100.0 304.0,1093.7 283.7,1083.5 268.0,1070.7 253.0,1042.7 246.7,1022.0 240.0,984.0 232.6,953.0 226.0,925.0 218.6,907.0 214.7,894.5 199.8,879.1 194.4,887.2 181.9,887.2 173.9,894.5 168.7,909.8 159.8,943.0 157.0,968.6 150.9,968.6 147.0,996.7 142.0,1046.5 136.8,1046.5 132.6,1035.0 128.0,1040.4 120.0,1053.0 116.0,1053.9"/></g>
</g>
<!-- main frame -->
<rect x="119" y="25" width="1186" height="1181" fill="none" stroke="#000" stroke-width="2"/>
<g stroke="#000" stroke-width="1" fill="none">
<line x1="288" y1="1185" x2="288" y2="1205" stroke-width="2"/><line x1="288" y1="26" x2="288" y2="46" stroke-width="2"/>
<line x1="458" y1="1185" x2="458" y2="1205" stroke-width="2"/><line x1="458" y1="26" x2="458" y2="46" stroke-width="2"/>
<line x1="627.5" y1="1185" x2="627.5" y2="1205" stroke-width="1"/><line x1="627.5" y1="26" x2="627.5" y2="46" stroke-width="1"/>
<line x1="796.5" y1="1185" x2="796.5" y2="1205" stroke-width="1"/><line x1="796.5" y1="26" x2="796.5" y2="46" stroke-width="1"/>
<line x1="965.5" y1="1185" x2="965.5" y2="1205" stroke-width="1"/><line x1="965.5" y1="26" x2="965.5" y2="46" stroke-width="1"/>
<line x1="1135" y1="1185" x2="1135" y2="1205" stroke-width="2"/><line x1="1135" y1="26" x2="1135" y2="46" stroke-width="2"/>
</g>
<g stroke="#000" stroke-width="2" fill="none">
<line x1="120" y1="261" x2="140" y2="261"/><line x1="1284" y1="261" x2="1304" y2="261"/>
<line x1="120" y1="497" x2="140" y2="497"/><line x1="1284" y1="497" x2="1304" y2="497"/>
<line x1="120" y1="733" x2="140" y2="733"/><line x1="1284" y1="733" x2="1304" y2="733"/>
<line x1="120" y1="969" x2="140" y2="969"/><line x1="1284" y1="969" x2="1304" y2="969"/>
</g>
<g font-size="46">
<text x="89" y="275" text-anchor="end">0.2</text>
<text x="26.1" y="747">0.</text>
<text x="89" y="1219" text-anchor="end">0</text>
<text x="118.5" y="1272" text-anchor="middle">250</text>
<text x="458" y="1272" text-anchor="middle">350</text>
<text x="797" y="1272" text-anchor="middle">450</text>
<text x="1136" y="1272" text-anchor="middle">550</text>
</g>
<text x="15" y="511" font-size="60">A</text>
<text x="709.3" y="1374" font-size="59.3" text-anchor="middle">Wavelength (nm)</text>
<rect x="268" y="90" width="454" height="755" fill="#fff"/>
<path d="M268.6,827.5 L269.8,797.0 L271.0,770.7 L272.2,744.6 L273.4,717.9 L274.6,692.6 L275.7,668.1 L276.9,646.0 L278.1,621.5 L279.3,599.1 L280.5,578.8 L281.6,559.4 L282.8,536.3 L284.0,519.1 L285.2,499.1 L286.4,483.1 L287.5,470.3 L288.7,452.6 L289.9,437.3 L291.1,423.9 L292.3,411.2 L293.4,398.5 L294.6,385.2 L295.8,373.8 L297.0,367.6 L298.2,352.8 L299.3,345.6 L300.5,333.1 L301.7,327.0 L302.9,317.5 L304.1,308.2 L305.2,304.2 L306.4,293.2 L307.6,287.9 L308.8,281.1 L310.0,275.7 L311.1,271.0 L312.3,265.1 L313.5,261.1 L314.7,259.3 L315.9,249.7 L317.0,245.9 L318.2,241.8 L319.4,238.0 L320.6,235.8 L321.8,231.1 L322.9,226.6 L324.1,222.2 L325.3,224.6 L326.5,210.9 L327.7,207.0 L328.8,206.3 L330.0,203.3 L331.2,198.7 L332.4,193.9 L333.6,189.8 L334.8,189.9 L335.9,186.1 L337.1,184.3 L338.3,180.3 L339.5,184.9 L340.7,180.3 L341.8,182.2 L343.0,173.7 L344.2,173.4 L345.4,170.7 L346.6,169.7 L347.7,167.3 L348.9,166.0 L350.1,159.4 L351.3,162.6 L352.5,163.9 L353.6,155.2 L354.8,158.3 L356.0,159.6 L357.2,160.2 L358.4,155.2 L359.5,155.5 L360.7,158.0 L361.9,155.6 L363.1,149.6 L364.3,148.1 L365.4,151.5 L366.6,148.3 L367.8,145.1 L369.0,145.0 L370.2,145.5 L371.3,143.1 L372.5,141.9 L373.7,140.9 L374.9,136.4 L376.1,144.5 L377.2,142.1 L378.4,142.1 L379.6,136.7 L380.8,136.7 L382.0,137.3 L383.1,137.4 L384.3,129.6 L385.5,135.3 L386.7,131.1 L387.9,133.3 L389.1,131.3 L390.2,137.6 L391.4,134.0 L392.6,132.1 L393.8,135.8 L395.0,131.5 L396.1,129.4 L397.3,130.6 L398.5,129.9 L399.7,130.8 L400.9,132.8 L402.0,129.9 L403.2,129.8 L404.4,132.6 L405.6,130.4 L406.8,132.0 L407.9,129.5 L409.1,125.3 L410.3,125.6 L411.5,123.9 L412.7,131.5 L413.8,129.2 L415.0,126.6 L416.2,125.0 L417.4,128.5 L418.6,127.0 L419.7,128.0 L420.9,124.6 L422.1,123.7 L423.3,131.0 L424.5,123.8 L425.6,126.2 L426.8,129.8 L428.0,120.8 L429.2,127.7 L430.4,125.8 L431.5,125.0 L432.7,126.0 L433.9,121.8 L435.1,118.8 L436.3,130.0 L437.4,123.8 L438.6,126.9 L439.8,127.3 L441.0,124.9 L442.2,125.2 L443.3,125.7 L444.5,127.9 L445.7,124.7 L446.9,126.7 L448.1,122.2 L449.3,121.7 L450.4,122.9 L451.6,123.6 L452.8,123.8 L454.0,127.6 L455.2,124.4 L456.3,122.0 L457.5,127.2 L458.7,122.5 L459.9,122.4 L461.1,122.6 L462.2,120.2 L463.4,117.9 L464.6,121.1 L465.8,119.8 L467.0,118.1 L468.1,120.7 L469.3,119.7 L470.5,118.5 L471.7,115.1 L472.9,119.4 L474.0,124.6 L475.2,122.1 L476.4,122.5 L477.6,119.4 L478.8,122.2 L479.9,117.4 L481.1,117.9 L482.3,120.5 L483.5,115.0 L484.7,119.0 L485.8,119.6 L487.0,123.3 L488.2,116.6 L489.4,119.7 L490.6,116.6 L491.7,116.8 L492.9,110.8 L494.1,115.5 L495.3,121.3 L496.5,119.4 L497.6,118.3 L498.8,124.7 L500.0,119.3 L501.2,114.3 L502.4,117.0 L503.5,117.4 L504.7,121.9 L505.9,114.9 L507.1,118.5 L508.3,120.0 L509.5,114.9 L510.6,117.4 L511.8,111.5 L513.0,117.2 L514.2,110.8 L515.4,115.8 L516.5,121.5 L517.7,117.8 L518.9,116.8 L520.1,117.0 L521.3,122.5 L522.4,118.0 L523.6,119.3 L524.8,115.1 L526.0,115.1 L527.2,113.3 L528.3,115.7 L529.5,114.1 L530.7,118.7 L531.9,117.7 L533.1,115.6 L534.2,114.3 L535.4,107.8 L536.6,114.1 L537.8,116.5 L539.0,117.4 L540.1,107.0 L541.3,108.8 L542.5,115.8 L543.7,112.5 L544.9,114.7 L546.0,113.9 L547.2,116.8 L548.4,110.0 L549.6,113.5 L550.8,117.6 L551.9,115.5 L553.1,112.6 L554.3,116.1 L555.5,115.5 L556.7,112.2 L557.8,116.5 L559.0,116.4 L560.2,114.2 L561.4,117.1 L562.6,111.2 L563.7,116.5 L564.9,113.8 L566.1,111.6 L567.3,112.5 L568.5,117.4 L569.7,112.5 L570.8,113.1 L572.0,112.2 L573.2,111.7 L574.4,116.5 L575.6,119.9 L576.7,117.5 L577.9,115.1 L579.1,115.7 L580.3,112.7 L581.5,112.2 L582.6,110.3 L583.8,117.4 L585.0,112.5 L586.2,111.4 L587.4,111.5 L588.5,113.8 L589.7,111.7 L590.9,113.2 L592.1,113.6 L593.3,116.8 L594.4,109.6 L595.6,113.8 L596.8,111.0 L598.0,111.7 L599.2,117.3 L600.3,114.5 L601.5,111.7 L602.7,114.1 L603.9,112.6 L605.1,115.7 L606.2,111.3 L607.4,113.9 L608.6,111.9 L609.8,112.5 L611.0,112.0 L612.1,110.7 L613.3,112.7 L614.5,115.0 L615.7,110.6 L616.9,111.2 L618.0,113.2 L619.2,110.1 L620.4,114.5 L621.6,114.0 L622.8,105.7 L623.9,110.2 L625.1,109.0 L626.3,114.2 L627.5,114.5 L628.7,108.5 L629.9,109.9 L631.0,111.6 L632.2,110.7 L633.4,113.7 L634.6,114.4 L635.8,113.3 L636.9,114.6 L638.1,114.2 L639.3,111.3 L640.5,110.3 L641.7,109.4 L642.8,113.7 L644.0,113.8 L645.2,114.2 L646.4,110.4 L647.6,110.2 L648.7,112.0 L649.9,114.7 L651.1,112.2 L652.3,111.8 L653.5,108.8 L654.6,112.3 L655.8,112.5 L657.0,108.4 L658.2,115.8 L659.4,108.4 L660.5,113.5 L661.7,110.3 L662.9,111.3 L664.1,108.6 L665.3,109.2 L666.4,112.7 L667.6,110.2 L668.8,109.7 L670.0,113.1 L671.2,112.6 L672.3,111.0 L673.5,111.2 L674.7,115.3 L675.9,110.0 L677.1,111.5 L678.2,111.6 L679.4,106.5 L680.6,105.0 L681.8,110.7 L683.0,112.7 L684.2,110.9 L685.3,108.8 L686.5,108.4 L687.7,112.5 L688.9,109.4 L690.1,105.7 L691.2,112.0 L692.4,110.8 L693.6,111.1 L694.8,112.9 L696.0,113.7 L697.1,111.5 L698.3,109.5 L699.5,104.1 L700.7,110.7 L701.9,109.5 L703.0,113.5 L704.2,113.4 L705.4,111.1 L706.6,113.6 L707.8,109.6 L708.9,109.6 L710.1,107.4 L711.3,108.9 L712.5,110.3 L713.7,112.6 L714.8,107.6 L716.0,111.8 L717.2,116.1 L718.4,105.9 L719.6,108.9 L720.7,109.6 L721.9,112.3" fill="none" stroke="#000" stroke-width="3.5"/>
<g fill="#000"><circle cx="269.8" cy="797.0" r="4.5"/><circle cx="271.0" cy="770.7" r="4.5"/><circle cx="272.2" cy="744.6" r="4.5"/><circle cx="273.4" cy="717.9" r="4.5"/><circle cx="274.6" cy="692.6" r="4.5"/><circle cx="275.7" cy="668.1" r="4.5"/><circle cx="276.9" cy="646.0" r="4.5"/><circle cx="278.1" cy="621.5" r="4.5"/><circle cx="279.3" cy="599.1" r="4.5"/><circle cx="280.5" cy="578.8" r="4.5"/><circle cx="281.6" cy="559.4" r="4.5"/><circle cx="282.8" cy="536.3" r="4.5"/><circle cx="284.0" cy="519.1" r="4.5"/><circle cx="285.2" cy="499.1" r="4.5"/><circle cx="286.4" cy="483.1" r="4.5"/><circle cx="287.5" cy="470.3" r="4.5"/><circle cx="288.7" cy="452.6" r="4.5"/><circle cx="289.9" cy="437.3" r="4.5"/><circle cx="291.1" cy="423.9" r="4.5"/><circle cx="292.3" cy="411.2" r="4.5"/><circle cx="293.4" cy="398.5" r="4.5"/><circle cx="294.6" cy="385.2" r="4.5"/><circle cx="295.8" cy="373.8" r="4.5"/><circle cx="297.0" cy="367.6" r="4.5"/><circle cx="298.2" cy="352.8" r="4.5"/><circle cx="299.3" cy="345.6" r="4.5"/><circle cx="300.5" cy="333.1" r="4.5"/><circle cx="301.7" cy="327.0" r="4.5"/><circle cx="302.9" cy="317.5" r="4.5"/><circle cx="304.1" cy="308.2" r="4.5"/><circle cx="305.2" cy="304.2" r="4.5"/><circle cx="306.4" cy="293.2" r="4.5"/><circle cx="307.6" cy="287.9" r="4.5"/><circle cx="308.8" cy="281.1" r="4.5"/><circle cx="310.0" cy="275.7" r="4.5"/><circle cx="311.1" cy="271.0" r="4.5"/><circle cx="312.3" cy="265.1" r="4.5"/><circle cx="313.5" cy="261.1" r="4.5"/><circle cx="314.7" cy="259.3" r="4.5"/><circle cx="315.9" cy="249.7" r="4.5"/><circle cx="317.0" cy="245.9" r="4.5"/><circle cx="318.2" cy="241.8" r="4.5"/><circle cx="319.4" cy="238.0" r="4.5"/><circle cx="320.6" cy="235.8" r="4.5"/><circle cx="321.8" cy="231.1" r="4.5"/><circle cx="322.9" cy="226.6" r="4.5"/><circle cx="324.1" cy="222.2" r="4.5"/><circle cx="325.3" cy="224.6" r="4.5"/><circle cx="326.5" cy="210.9" r="4.5"/><circle cx="327.7" cy="207.0" r="4.5"/><circle cx="328.8" cy="206.3" r="4.5"/><circle cx="330.0" cy="203.3" r="4.5"/><circle cx="331.2" cy="198.7" r="4.5"/><circle cx="332.4" cy="193.9" r="4.5"/><circle cx="333.6" cy="189.8" r="4.5"/><circle cx="334.8" cy="189.9" r="4.5"/><circle cx="335.9" cy="186.1" r="4.5"/><circle cx="337.1" cy="184.3" r="4.5"/><circle cx="338.3" cy="180.3" r="4.5"/><circle cx="339.5" cy="184.9" r="4.5"/><circle cx="340.7" cy="180.3" r="4.5"/><circle cx="341.8" cy="182.2" r="4.5"/><circle cx="343.0" cy="173.7" r="4.5"/><circle cx="344.2" cy="173.4" r="4.5"/><circle cx="345.4" cy="170.7" r="4.5"/><circle cx="346.6" cy="169.7" r="4.5"/><circle cx="347.7" cy="167.3" r="4.5"/><circle cx="348.9" cy="166.0" r="4.5"/><circle cx="350.1" cy="159.4" r="4.5"/><circle cx="351.3" cy="162.6" r="4.5"/><circle cx="352.5" cy="163.9" r="4.5"/><circle cx="353.6" cy="155.2" r="4.5"/><circle cx="354.8" cy="158.3" r="4.5"/><circle cx="356.0" cy="159.6" r="4.5"/><circle cx="357.2" cy="160.2" r="4.5"/><circle cx="358.4" cy="155.2" r="4.5"/><circle cx="359.5" cy="155.5" r="4.5"/><circle cx="360.7" cy="158.0" r="4.5"/><circle cx="361.9" cy="155.6" r="4.5"/><circle cx="363.1" cy="149.6" r="4.5"/><circle cx="364.3" cy="148.1" r="4.5"/><circle cx="365.4" cy="151.5" r="4.5"/><circle cx="366.6" cy="148.3" r="4.5"/><circle cx="367.8" cy="145.1" r="4.5"/><circle cx="369.0" cy="145.0" r="4.5"/><circle cx="370.2" cy="145.5" r="4.5"/><circle cx="371.3" cy="143.1" r="4.5"/><circle cx="372.5" cy="141.9" r="4.5"/><circle cx="373.7" cy="140.9" r="4.5"/><circle cx="374.9" cy="136.4" r="4.5"/><circle cx="376.1" cy="144.5" r="4.5"/><circle cx="377.2" cy="142.1" r="4.5"/><circle cx="378.4" cy="142.1" r="4.5"/><circle cx="379.6" cy="136.7" r="4.5"/><circle cx="380.8" cy="136.7" r="4.5"/><circle cx="382.0" cy="137.3" r="4.5"/><circle cx="383.1" cy="137.4" r="4.5"/><circle cx="384.3" cy="129.6" r="4.5"/><circle cx="385.5" cy="135.3" r="4.5"/><circle cx="386.7" cy="131.1" r="4.5"/><circle cx="387.9" cy="133.3" r="4.5"/><circle cx="389.1" cy="131.3" r="4.5"/><circle cx="390.2" cy="137.6" r="4.5"/><circle cx="391.4" cy="134.0" r="4.5"/><circle cx="392.6" cy="132.1" r="4.5"/><circle cx="393.8" cy="135.8" r="4.5"/><circle cx="395.0" cy="131.5" r="4.5"/><circle cx="396.1" cy="129.4" r="4.5"/><circle cx="397.3" cy="130.6" r="4.5"/><circle cx="398.5" cy="129.9" r="4.5"/><circle cx="399.7" cy="130.8" r="4.5"/><circle cx="400.9" cy="132.8" r="4.5"/><circle cx="402.0" cy="129.9" r="4.5"/><circle cx="403.2" cy="129.8" r="4.5"/><circle cx="404.4" cy="132.6" r="4.5"/><circle cx="405.6" cy="130.4" r="4.5"/><circle cx="406.8" cy="132.0" r="4.5"/><circle cx="407.9" cy="129.5" r="4.5"/><circle cx="409.1" cy="125.3" r="4.5"/><circle cx="410.3" cy="125.6" r="4.5"/><circle cx="411.5" cy="123.9" r="4.5"/><circle cx="412.7" cy="131.5" r="4.5"/><circle cx="413.8" cy="129.2" r="4.5"/><circle cx="415.0" cy="126.6" r="4.5"/><circle cx="416.2" cy="125.0" r="4.5"/><circle cx="417.4" cy="128.5" r="4.5"/><circle cx="418.6" cy="127.0" r="4.5"/><circle cx="419.7" cy="128.0" r="4.5"/><circle cx="420.9" cy="124.6" r="4.5"/><circle cx="422.1" cy="123.7" r="4.5"/><circle cx="423.3" cy="131.0" r="4.5"/><circle cx="424.5" cy="123.8" r="4.5"/><circle cx="425.6" cy="126.2" r="4.5"/><circle cx="426.8" cy="129.8" r="4.5"/><circle cx="428.0" cy="120.8" r="4.5"/><circle cx="429.2" cy="127.7" r="4.5"/><circle cx="430.4" cy="125.8" r="4.5"/><circle cx="431.5" cy="125.0" r="4.5"/><circle cx="432.7" cy="126.0" r="4.5"/><circle cx="433.9" cy="121.8" r="4.5"/><circle cx="435.1" cy="118.8" r="4.5"/><circle cx="436.3" cy="130.0" r="4.5"/><circle cx="437.4" cy="123.8" r="4.5"/><circle cx="438.6" cy="126.9" r="4.5"/><circle cx="439.8" cy="127.3" r="4.5"/><circle cx="441.0" cy="124.9" r="4.5"/><circle cx="442.2" cy="125.2" r="4.5"/><circle cx="443.3" cy="125.7" r="4.5"/><circle cx="444.5" cy="127.9" r="4.5"/><circle cx="445.7" cy="124.7" r="4.5"/><circle cx="446.9" cy="126.7" r="4.5"/><circle cx="448.1" cy="122.2" r="4.5"/><circle cx="449.3" cy="121.7" r="4.5"/><circle cx="450.4" cy="122.9" r="4.5"/><circle cx="451.6" cy="123.6" r="4.5"/><circle cx="452.8" cy="123.8" r="4.5"/><circle cx="454.0" cy="127.6" r="4.5"/><circle cx="455.2" cy="124.4" r="4.5"/><circle cx="456.3" cy="122.0" r="4.5"/><circle cx="457.5" cy="127.2" r="4.5"/><circle cx="458.7" cy="122.5" r="4.5"/><circle cx="459.9" cy="122.4" r="4.5"/><circle cx="461.1" cy="122.6" r="4.5"/><circle cx="462.2" cy="120.2" r="4.5"/><circle cx="463.4" cy="117.9" r="4.5"/><circle cx="464.6" cy="121.1" r="4.5"/><circle cx="465.8" cy="119.8" r="4.5"/><circle cx="467.0" cy="118.1" r="4.5"/><circle cx="468.1" cy="120.7" r="4.5"/><circle cx="469.3" cy="119.7" r="4.5"/><circle cx="470.5" cy="118.5" r="4.5"/><circle cx="471.7" cy="115.1" r="4.5"/><circle cx="472.9" cy="119.4" r="4.5"/><circle cx="474.0" cy="124.6" r="4.5"/><circle cx="475.2" cy="122.1" r="4.5"/><circle cx="476.4" cy="122.5" r="4.5"/><circle cx="477.6" cy="119.4" r="4.5"/><circle cx="478.8" cy="122.2" r="4.5"/><circle cx="479.9" cy="117.4" r="4.5"/><circle cx="481.1" cy="117.9" r="4.5"/><circle cx="482.3" cy="120.5" r="4.5"/><circle cx="483.5" cy="115.0" r="4.5"/><circle cx="484.7" cy="119.0" r="4.5"/><circle cx="485.8" cy="119.6" r="4.5"/><circle cx="487.0" cy="123.3" r="4.5"/><circle cx="488.2" cy="116.6" r="4.5"/><circle cx="489.4" cy="119.7" r="4.5"/><circle cx="490.6" cy="116.6" r="4.5"/><circle cx="491.7" cy="116.8" r="4.5"/><circle cx="492.9" cy="110.8" r="4.5"/><circle cx="494.1" cy="115.5" r="4.5"/><circle cx="495.3" cy="121.3" r="4.5"/><circle cx="496.5" cy="119.4" r="4.5"/><circle cx="497.6" cy="118.3" r="4.5"/><circle cx="498.8" cy="124.7" r="4.5"/><circle cx="500.0" cy="119.3" r="4.5"/><circle cx="501.2" cy="114.3" r="4.5"/><circle cx="502.4" cy="117.0" r="4.5"/><circle cx="503.5" cy="117.4" r="4.5"/><circle cx="504.7" cy="121.9" r="4.5"/><circle cx="505.9" cy="114.9" r="4.5"/><circle cx="507.1" cy="118.5" r="4.5"/><circle cx="508.3" cy="120.0" r="4.5"/><circle cx="509.5" cy="114.9" r="4.5"/><circle cx="510.6" cy="117.4" r="4.5"/><circle cx="511.8" cy="111.5" r="4.5"/><circle cx="513.0" cy="117.2" r="4.5"/><circle cx="514.2" cy="110.8" r="4.5"/><circle cx="515.4" cy="115.8" r="4.5"/><circle cx="516.5" cy="121.5" r="4.5"/><circle cx="517.7" cy="117.8" r="4.5"/><circle cx="518.9" cy="116.8" r="4.5"/><circle cx="520.1" cy="117.0" r="4.5"/><circle cx="521.3" cy="122.5" r="4.5"/><circle cx="522.4" cy="118.0" r="4.5"/><circle cx="523.6" cy="119.3" r="4.5"/><circle cx="524.8" cy="115.1" r="4.5"/><circle cx="526.0" cy="115.1" r="4.5"/><circle cx="527.2" cy="113.3" r="4.5"/><circle cx="528.3" cy="115.7" r="4.5"/><circle cx="529.5" cy="114.1" r="4.5"/><circle cx="530.7" cy="118.7" r="4.5"/><circle cx="531.9" cy="117.7" r="4.5"/><circle cx="533.1" cy="115.6" r="4.5"/><circle cx="534.2" cy="114.3" r="4.5"/><circle cx="535.4" cy="107.8" r="4.5"/><circle cx="536.6" cy="114.1" r="4.5"/><circle cx="537.8" cy="116.5" r="4.5"/><circle cx="539.0" cy="117.4" r="4.5"/><circle cx="540.1" cy="107.0" r="4.5"/><circle cx="541.3" cy="108.8" r="4.5"/><circle cx="542.5" cy="115.8" r="4.5"/><circle cx="543.7" cy="112.5" r="4.5"/><circle cx="544.9" cy="114.7" r="4.5"/><circle cx="546.0" cy="113.9" r="4.5"/><circle cx="547.2" cy="116.8" r="4.5"/><circle cx="548.4" cy="110.0" r="4.5"/><circle cx="549.6" cy="113.5" r="4.5"/><circle cx="550.8" cy="117.6" r="4.5"/><circle cx="551.9" cy="115.5" r="4.5"/><circle cx="553.1" cy="112.6" r="4.5"/><circle cx="554.3" cy="116.1" r="4.5"/><circle cx="555.5" cy="115.5" r="4.5"/><circle cx="556.7" cy="112.2" r="4.5"/><circle cx="557.8" cy="116.5" r="4.5"/><circle cx="559.0" cy="116.4" r="4.5"/><circle cx="560.2" cy="114.2" r="4.5"/><circle cx="561.4" cy="117.1" r="4.5"/><circle cx="562.6" cy="111.2" r="4.5"/><circle cx="563.7" cy="116.5" r="4.5"/><circle cx="564.9" cy="113.8" r="4.5"/><circle cx="566.1" cy="111.6" r="4.5"/><circle cx="567.3" cy="112.5" r="4.5"/><circle cx="568.5" cy="117.4" r="4.5"/><circle cx="569.7" cy="112.5" r="4.5"/><circle cx="570.8" cy="113.1" r="4.5"/><circle cx="572.0" cy="112.2" r="4.5"/><circle cx="573.2" cy="111.7" r="4.5"/><circle cx="574.4" cy="116.5" r="4.5"/><circle cx="575.6" cy="119.9" r="4.5"/><circle cx="576.7" cy="117.5" r="4.5"/><circle cx="577.9" cy="115.1" r="4.5"/><circle cx="579.1" cy="115.7" r="4.5"/><circle cx="580.3" cy="112.7" r="4.5"/><circle cx="581.5" cy="112.2" r="4.5"/><circle cx="582.6" cy="110.3" r="4.5"/><circle cx="583.8" cy="117.4" r="4.5"/><circle cx="585.0" cy="112.5" r="4.5"/><circle cx="586.2" cy="111.4" r="4.5"/><circle cx="587.4" cy="111.5" r="4.5"/><circle cx="588.5" cy="113.8" r="4.5"/><circle cx="589.7" cy="111.7" r="4.5"/><circle cx="590.9" cy="113.2" r="4.5"/><circle cx="592.1" cy="113.6" r="4.5"/><circle cx="593.3" cy="116.8" r="4.5"/><circle cx="594.4" cy="109.6" r="4.5"/><circle cx="595.6" cy="113.8" r="4.5"/><circle cx="596.8" cy="111.0" r="4.5"/><circle cx="598.0" cy="111.7" r="4.5"/><circle cx="599.2" cy="117.3" r="4.5"/><circle cx="600.3" cy="114.5" r="4.5"/><circle cx="601.5" cy="111.7" r="4.5"/><circle cx="602.7" cy="114.1" r="4.5"/><circle cx="603.9" cy="112.6" r="4.5"/><circle cx="605.1" cy="115.7" r="4.5"/><circle cx="606.2" cy="111.3" r="4.5"/><circle cx="607.4" cy="113.9" r="4.5"/><circle cx="608.6" cy="111.9" r="4.5"/><circle cx="609.8" cy="112.5" r="4.5"/><circle cx="611.0" cy="112.0" r="4.5"/><circle cx="612.1" cy="110.7" r="4.5"/><circle cx="613.3" cy="112.7" r="4.5"/><circle cx="614.5" cy="115.0" r="4.5"/><circle cx="615.7" cy="110.6" r="4.5"/><circle cx="616.9" cy="111.2" r="4.5"/><circle cx="618.0" cy="113.2" r="4.5"/><circle cx="619.2" cy="110.1" r="4.5"/><circle cx="620.4" cy="114.5" r="4.5"/><circle cx="621.6" cy="114.0" r="4.5"/><circle cx="622.8" cy="105.7" r="4.5"/><circle cx="623.9" cy="110.2" r="4.5"/><circle cx="625.1" cy="109.0" r="4.5"/><circle cx="626.3" cy="114.2" r="4.5"/><circle cx="627.5" cy="114.5" r="4.5"/><circle cx="628.7" cy="108.5" r="4.5"/><circle cx="629.9" cy="109.9" r="4.5"/><circle cx="631.0" cy="111.6" r="4.5"/><circle cx="632.2" cy="110.7" r="4.5"/><circle cx="633.4" cy="113.7" r="4.5"/><circle cx="634.6" cy="114.4" r="4.5"/><circle cx="635.8" cy="113.3" r="4.5"/><circle cx="636.9" cy="114.6" r="4.5"/><circle cx="638.1" cy="114.2" r="4.5"/><circle cx="639.3" cy="111.3" r="4.5"/><circle cx="640.5" cy="110.3" r="4.5"/><circle cx="641.7" cy="109.4" r="4.5"/><circle cx="642.8" cy="113.7" r="4.5"/><circle cx="644.0" cy="113.8" r="4.5"/><circle cx="645.2" cy="114.2" r="4.5"/><circle cx="646.4" cy="110.4" r="4.5"/><circle cx="647.6" cy="110.2" r="4.5"/><circle cx="648.7" cy="112.0" r="4.5"/><circle cx="649.9" cy="114.7" r="4.5"/><circle cx="651.1" cy="112.2" r="4.5"/><circle cx="652.3" cy="111.8" r="4.5"/><circle cx="653.5" cy="108.8" r="4.5"/><circle cx="654.6" cy="112.3" r="4.5"/><circle cx="655.8" cy="112.5" r="4.5"/><circle cx="657.0" cy="108.4" r="4.5"/><circle cx="658.2" cy="115.8" r="4.5"/><circle cx="659.4" cy="108.4" r="4.5"/><circle cx="660.5" cy="113.5" r="4.5"/><circle cx="661.7" cy="110.3" r="4.5"/><circle cx="662.9" cy="111.3" r="4.5"/><circle cx="664.1" cy="108.6" r="4.5"/><circle cx="665.3" cy="109.2" r="4.5"/><circle cx="666.4" cy="112.7" r="4.5"/><circle cx="667.6" cy="110.2" r="4.5"/><circle cx="668.8" cy="109.7" r="4.5"/><circle cx="670.0" cy="113.1" r="4.5"/><circle cx="671.2" cy="112.6" r="4.5"/><circle cx="672.3" cy="111.0" r="4.5"/><circle cx="673.5" cy="111.2" r="4.5"/><circle cx="674.7" cy="115.3" r="4.5"/><circle cx="675.9" cy="110.0" r="4.5"/><circle cx="677.1" cy="111.5" r="4.5"/><circle cx="678.2" cy="111.6" r="4.5"/><circle cx="679.4" cy="106.5" r="4.5"/><circle cx="680.6" cy="105.0" r="4.5"/><circle cx="681.8" cy="110.7" r="4.5"/><circle cx="683.0" cy="112.7" r="4.5"/><circle cx="684.2" cy="110.9" r="4.5"/><circle cx="685.3" cy="108.8" r="4.5"/><circle cx="686.5" cy="108.4" r="4.5"/><circle cx="687.7" cy="112.5" r="4.5"/><circle cx="688.9" cy="109.4" r="4.5"/><circle cx="690.1" cy="105.7" r="4.5"/><circle cx="691.2" cy="112.0" r="4.5"/><circle cx="692.4" cy="110.8" r="4.5"/><circle cx="693.6" cy="111.1" r="4.5"/><circle cx="694.8" cy="112.9" r="4.5"/><circle cx="696.0" cy="113.7" r="4.5"/><circle cx="697.1" cy="111.5" r="4.5"/><circle cx="698.3" cy="109.5" r="4.5"/><circle cx="699.5" cy="104.1" r="4.5"/><circle cx="700.7" cy="110.7" r="4.5"/><circle cx="701.9" cy="109.5" r="4.5"/><circle cx="703.0" cy="113.5" r="4.5"/><circle cx="704.2" cy="113.4" r="4.5"/><circle cx="705.4" cy="111.1" r="4.5"/><circle cx="706.6" cy="113.6" r="4.5"/><circle cx="707.8" cy="109.6" r="4.5"/><circle cx="708.9" cy="109.6" r="4.5"/><circle cx="710.1" cy="107.4" r="4.5"/><circle cx="711.3" cy="108.9" r="4.5"/><circle cx="712.5" cy="110.3" r="4.5"/><circle cx="713.7" cy="112.6" r="4.5"/><circle cx="714.8" cy="107.6" r="4.5"/><circle cx="716.0" cy="111.8" r="4.5"/><circle cx="717.2" cy="116.1" r="4.5"/><circle cx="718.4" cy="105.9" r="4.5"/><circle cx="719.6" cy="108.9" r="4.5"/><circle cx="720.7" cy="109.6" r="4.5"/><circle cx="721.9" cy="112.3" r="4.5"/><circle cx="268" cy="844.5" r="5"/></g>
<line x1="400" y1="124" x2="724" y2="124" stroke="#000" stroke-width="4"/>
<g stroke="#000" stroke-width="1" fill="none">
<line x1="268.5" y1="90" x2="268.5" y2="845"/>
<line x1="722.5" y1="90" x2="722.5" y2="845"/>
<line x1="268" y1="90.5" x2="723" y2="90.5"/>
<line x1="268" y1="845" x2="723" y2="845" stroke-width="2"/>
<line x1="381.5" y1="831" x2="381.5" y2="844" stroke-width="1"/><line x1="381.5" y1="91" x2="381.5" y2="104" stroke-width="1"/>
<line x1="495.5" y1="831" x2="495.5" y2="844" stroke-width="1"/><line x1="495.5" y1="91" x2="495.5" y2="104" stroke-width="1"/>
<line x1="609" y1="831" x2="609" y2="844" stroke-width="2"/><line x1="609" y1="91" x2="609" y2="104" stroke-width="2"/>
<line x1="269" y1="342" x2="281" y2="342" stroke-width="2"/><line x1="708" y1="342" x2="722" y2="342" stroke-width="2"/>
<line x1="269" y1="593.5" x2="281" y2="593.5" stroke-width="1"/><line x1="708" y1="593.5" x2="722" y2="593.5" stroke-width="1"/>
</g>
<g font-size="41">
<text x="257" y="851" text-anchor="end">0</text>
<text x="268.5" y="890" text-anchor="middle">0</text>
<text x="381.5" y="890" text-anchor="middle">0.5</text>
<text x="601.2" y="890">.5</text>
<text x="721.5" y="890" text-anchor="middle">2</text>
</g>
<text x="394" y="962" font-size="51">Time (s)</text>
<text transform="translate(239,323.5) rotate(-90)" font-size="51" text-anchor="end">A (486 nm)</text>
<!-- B arrow -->
<rect x="640" y="160" width="4" height="653" fill="#000"/>
<polygon points="643,130 631,162 654,162" fill="#000"/>
<polygon points="643,843 631,811 654,811" fill="#000"/>
<text x="654" y="495" font-size="51" font-weight="bold">B</text>
<!-- Cc arrows -->
<rect x="730" y="55" width="4" height="40" fill="#000"/>
<polygon points="732,114 720,82 732,92 744,82" fill="#000"/>
<rect x="730" y="148" width="4" height="39" fill="#000"/>
<polygon points="732,128 720,159.5 732,150.5 744,159.5" fill="#000"/>
<text x="745" y="133" font-size="51" font-weight="bold">Cc</text>
<!-- k labels -->
<text x="966" y="124" font-size="59" font-style="italic">k</text>
<text x="1018" y="124" font-size="59">=8.5 s</text>
<text x="1179.2" y="88.8" font-size="39">-</text>
<text x="973" y="235" font-size="59" font-style="italic">k</text>
<text x="1004" y="270" font-size="40">2</text>
<text x="1025" y="235" font-size="59">=0.25 s</text>
<text x="1219.2" y="201" font-size="39">-</text>
<g fill="#000">
<path d="M82.03,747.00 L78.12,747.00 L78.12,721.24 C75.82,723.31 72.14,725.15 68.92,726.02 L68.92,722.11 C73.06,720.55 76.74,717.56 78.81,714.06 L82.03,714.06Z"/><path d="M498.11,890.00 L494.62,890.00 L494.62,867.04 C492.57,868.88 489.29,870.52 486.42,871.30 L486.42,867.82 C490.11,866.42 493.39,863.76 495.24,860.64 L498.11,860.64Z"/><path d="M595.00,890.00 L591.52,890.00 L591.52,867.04 C589.47,868.88 586.19,870.52 583.32,871.30 L583.32,867.82 C587.01,866.42 590.29,863.76 592.13,860.64 L595.00,860.64Z"/><path d="M1011.19,158.90 L1007.88,158.90 L1007.88,137.06 C1005.93,138.81 1002.81,140.38 1000.08,141.12 L1000.08,137.80 C1003.59,136.48 1006.71,133.94 1008.47,130.98 L1011.19,130.98Z"/><path d="M1208.00,88.80 L1204.68,88.80 L1204.68,66.96 C1202.73,68.72 1199.61,70.28 1196.88,71.02 L1196.88,67.70 C1200.39,66.38 1203.51,63.84 1205.27,60.88 L1208.00,60.88Z"/><path d="M1248.00,201.00 L1244.68,201.00 L1244.68,179.16 C1242.73,180.91 1239.61,182.47 1236.88,183.22 L1236.88,179.90 C1240.39,178.57 1243.51,176.04 1245.27,173.08 L1248.00,173.08Z"/>
</g>
</g>
</svg>
</body></html>
